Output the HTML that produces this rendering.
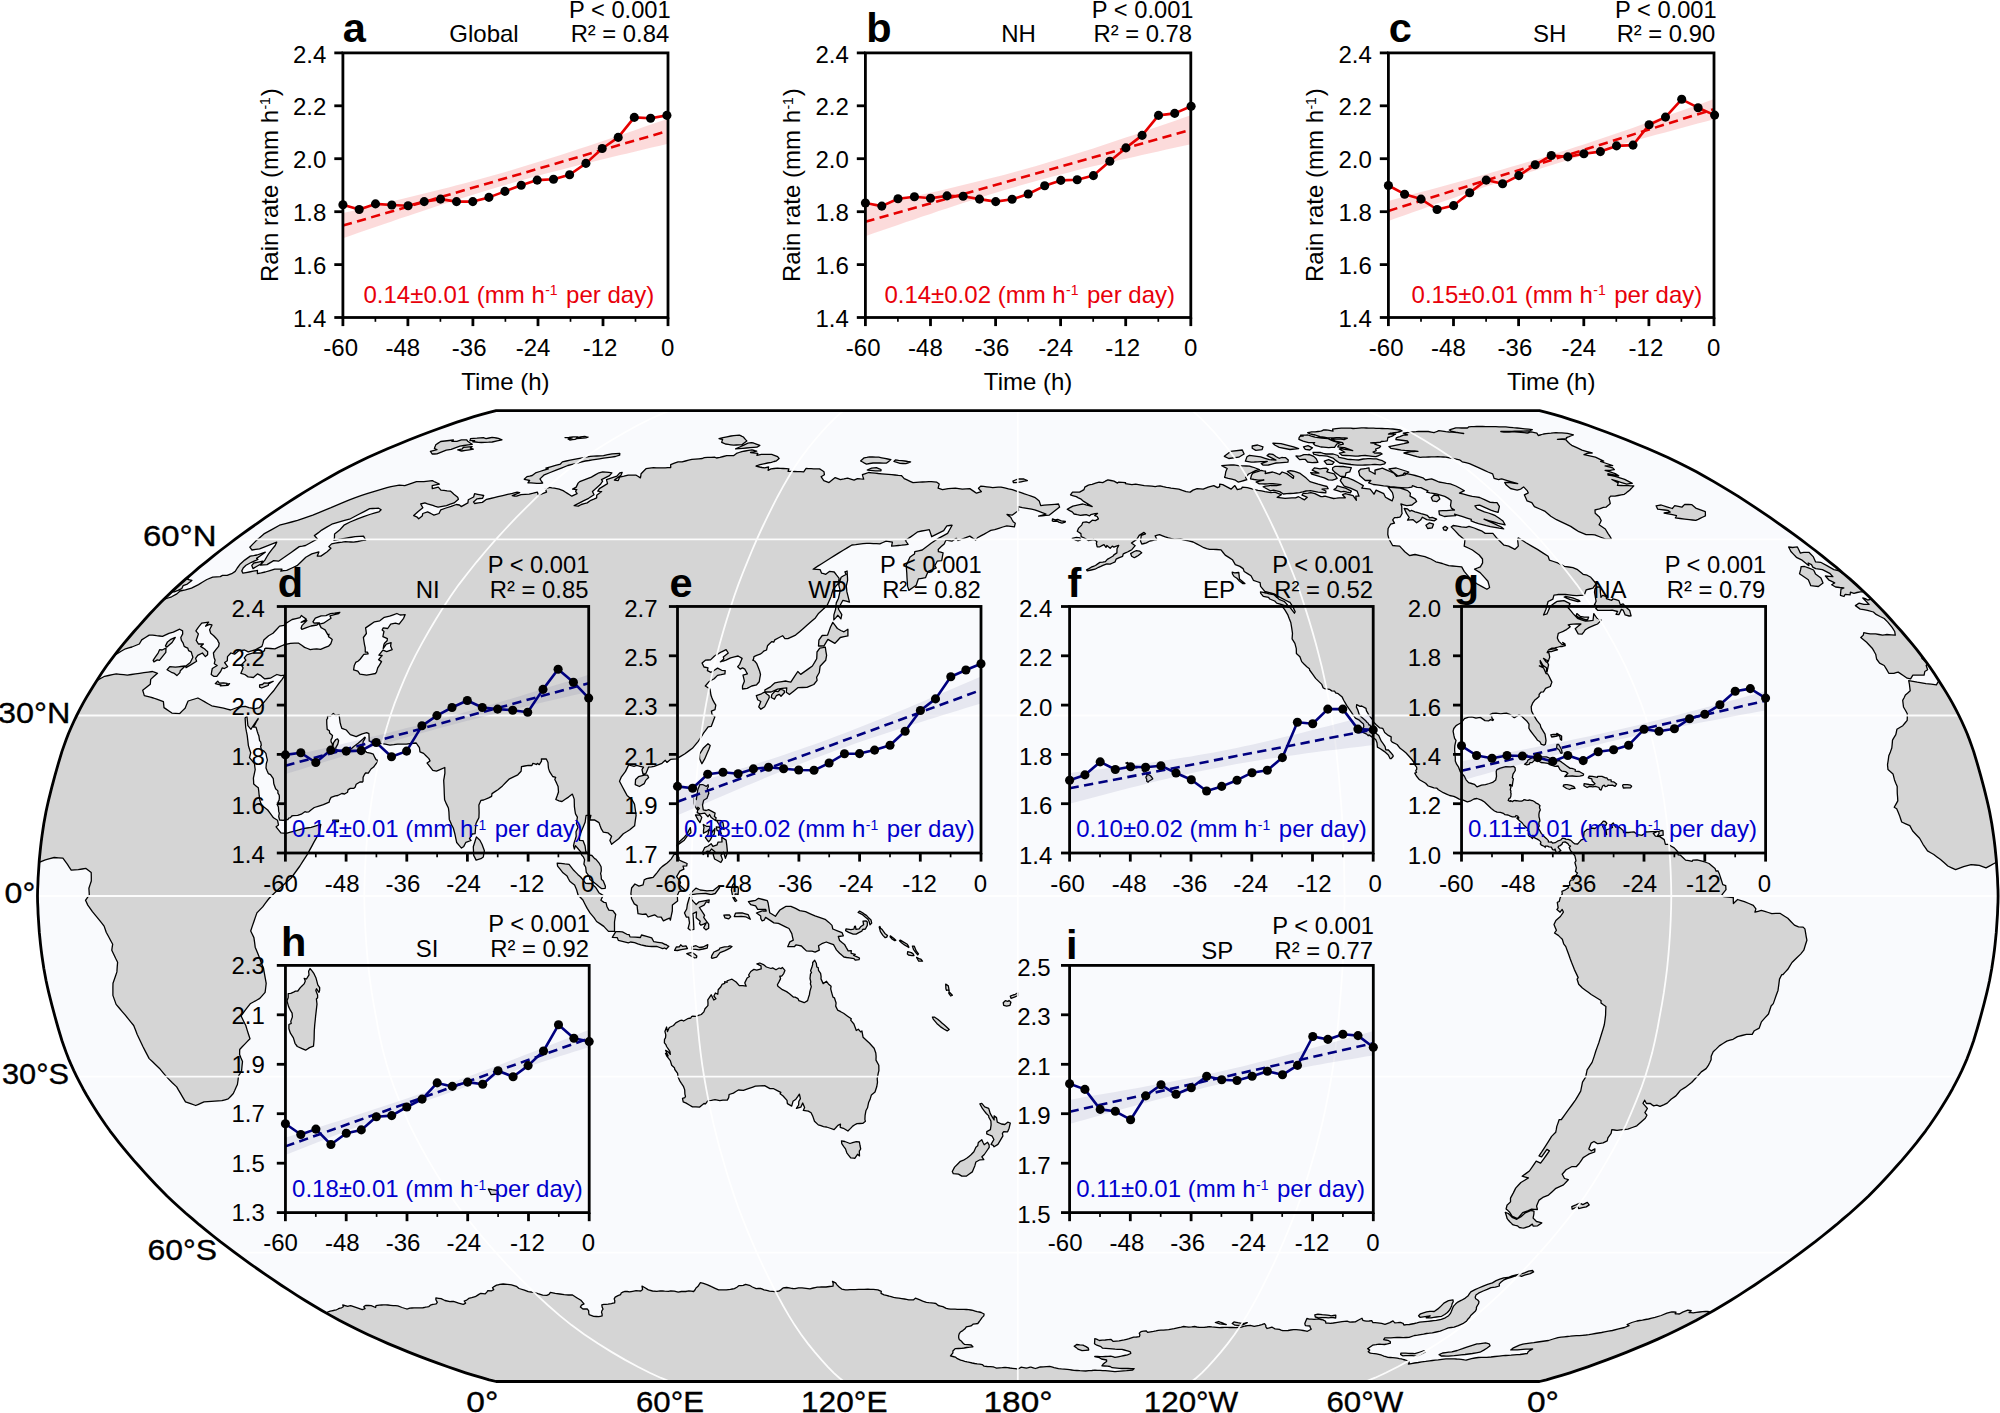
<!DOCTYPE html>
<html><head><meta charset="utf-8"><title>fig</title><style>
html,body{margin:0;padding:0;background:#fff;}svg{display:block;}
text{font-family:"Liberation Sans", sans-serif;fill:#000;}
.tk{font-size:24px;}.pl{font-size:41.5px;font-weight:bold;}.gl{font-size:29.5px;font-family:"Liberation Sans",sans-serif;}
</style></head><body>
<svg width="2000" height="1413" viewBox="0 0 2000 1413">
<rect width="2000" height="1413" fill="#fff"/>
<defs><clipPath id="mc"><path d="M1539.5,1381.5 L1546.4,1379.8 L1553.8,1377.7 L1561.7,1375.4 L1570.0,1372.8 L1578.7,1369.9 L1587.8,1366.8 L1597.2,1363.4 L1606.8,1359.9 L1616.7,1356.1 L1626.9,1352.1 L1637.1,1347.9 L1647.5,1343.6 L1657.8,1339.1 L1667.9,1334.5 L1677.7,1329.8 L1687.2,1325.1 L1696.4,1320.3 L1705.2,1315.4 L1713.8,1310.5 L1722.2,1305.5 L1730.5,1300.5 L1738.7,1295.4 L1746.7,1290.2 L1754.7,1285.0 L1762.5,1279.7 L1770.3,1274.4 L1778.0,1269.0 L1785.7,1263.6 L1793.2,1258.2 L1800.7,1252.7 L1808.0,1247.1 L1815.3,1241.6 L1822.4,1236.0 L1829.4,1230.3 L1836.4,1224.7 L1843.1,1218.9 L1849.8,1213.2 L1856.2,1207.5 L1862.5,1201.7 L1868.6,1195.9 L1874.5,1190.0 L1880.1,1184.2 L1885.7,1178.3 L1891.1,1172.4 L1896.3,1166.5 L1901.6,1160.6 L1906.7,1154.6 L1911.7,1148.7 L1916.6,1142.7 L1921.2,1136.7 L1925.7,1130.8 L1930.0,1124.8 L1934.1,1118.8 L1938.1,1112.7 L1941.9,1106.7 L1945.6,1100.7 L1949.2,1094.7 L1952.6,1088.7 L1955.8,1082.7 L1958.9,1076.6 L1961.8,1070.6 L1964.5,1064.6 L1967.1,1058.6 L1969.4,1052.6 L1971.6,1046.5 L1973.7,1040.5 L1975.5,1034.5 L1977.3,1028.5 L1979.0,1022.5 L1980.7,1016.4 L1982.3,1010.4 L1983.9,1004.4 L1985.4,998.4 L1986.9,992.4 L1988.3,986.3 L1989.6,980.3 L1990.7,974.3 L1991.8,968.3 L1992.7,962.3 L1993.6,956.2 L1994.4,950.2 L1995.1,944.2 L1995.7,938.2 L1996.3,932.2 L1996.7,926.1 L1997.1,920.1 L1997.5,914.1 L1997.7,908.1 L1998.0,902.1 L1998.1,896.0 L1998.0,890.0 L1997.7,884.0 L1997.5,878.0 L1997.1,872.0 L1996.7,866.0 L1996.3,859.9 L1995.7,853.9 L1995.1,847.9 L1994.4,841.9 L1993.6,835.9 L1992.7,829.8 L1991.8,823.8 L1990.7,817.8 L1989.6,811.8 L1988.3,805.8 L1986.9,799.7 L1985.4,793.7 L1983.9,787.7 L1982.3,781.7 L1980.7,775.7 L1979.0,769.6 L1977.3,763.6 L1975.5,757.6 L1973.7,751.6 L1971.6,745.6 L1969.4,739.5 L1967.1,733.5 L1964.5,727.5 L1961.8,721.5 L1958.9,715.5 L1955.8,709.4 L1952.6,703.4 L1949.2,697.4 L1945.6,691.4 L1941.9,685.4 L1938.1,679.4 L1934.1,673.3 L1930.0,667.3 L1925.7,661.3 L1921.2,655.4 L1916.6,649.4 L1911.7,643.4 L1906.7,637.5 L1901.6,631.5 L1896.3,625.6 L1891.1,619.7 L1885.7,613.8 L1880.1,607.9 L1874.5,602.1 L1868.6,596.2 L1862.5,590.4 L1856.2,584.6 L1849.8,578.9 L1843.1,573.2 L1836.4,567.4 L1829.4,561.8 L1822.4,556.1 L1815.3,550.5 L1808.0,545.0 L1800.7,539.4 L1793.2,533.9 L1785.7,528.5 L1778.0,523.1 L1770.3,517.7 L1762.5,512.4 L1754.7,507.1 L1746.7,501.9 L1738.7,496.7 L1730.5,491.6 L1722.2,486.6 L1713.8,481.6 L1705.2,476.7 L1696.4,471.8 L1687.2,467.0 L1677.7,462.3 L1667.9,457.6 L1657.8,453.0 L1647.5,448.5 L1637.1,444.2 L1626.9,440.0 L1616.7,436.0 L1606.8,432.2 L1597.2,428.7 L1587.8,425.3 L1578.7,422.2 L1570.0,419.3 L1561.7,416.7 L1553.8,414.4 L1546.4,412.3 L1539.5,410.6 L496.1,410.6 L489.2,412.3 L481.8,414.4 L473.9,416.7 L465.6,419.3 L456.9,422.2 L447.8,425.3 L438.4,428.7 L428.8,432.2 L418.9,436.0 L408.7,440.0 L398.5,444.2 L388.1,448.5 L377.8,453.0 L367.7,457.6 L357.9,462.3 L348.4,467.0 L339.2,471.8 L330.4,476.7 L321.8,481.6 L313.4,486.6 L305.1,491.6 L296.9,496.7 L288.9,501.9 L280.9,507.1 L273.1,512.4 L265.3,517.7 L257.6,523.1 L249.9,528.5 L242.4,533.9 L234.9,539.4 L227.6,545.0 L220.3,550.5 L213.2,556.1 L206.2,561.8 L199.2,567.4 L192.5,573.2 L185.8,578.9 L179.4,584.6 L173.1,590.4 L167.0,596.2 L161.1,602.1 L155.5,607.9 L149.9,613.8 L144.5,619.7 L139.3,625.6 L134.0,631.5 L128.9,637.5 L123.9,643.4 L119.0,649.4 L114.4,655.4 L109.9,661.3 L105.6,667.3 L101.5,673.3 L97.5,679.4 L93.7,685.4 L90.0,691.4 L86.4,697.4 L83.0,703.4 L79.8,709.4 L76.7,715.5 L73.8,721.5 L71.1,727.5 L68.5,733.5 L66.2,739.5 L64.0,745.6 L61.9,751.6 L60.1,757.6 L58.3,763.6 L56.6,769.6 L54.9,775.7 L53.3,781.7 L51.7,787.7 L50.2,793.7 L48.7,799.7 L47.3,805.8 L46.0,811.8 L44.9,817.8 L43.8,823.8 L42.9,829.8 L42.0,835.9 L41.2,841.9 L40.5,847.9 L39.9,853.9 L39.3,859.9 L38.9,866.0 L38.5,872.0 L38.1,878.0 L37.9,884.0 L37.6,890.0 L37.5,896.0 L37.6,902.1 L37.9,908.1 L38.1,914.1 L38.5,920.1 L38.9,926.1 L39.3,932.2 L39.9,938.2 L40.5,944.2 L41.2,950.2 L42.0,956.2 L42.9,962.3 L43.8,968.3 L44.9,974.3 L46.0,980.3 L47.3,986.3 L48.7,992.4 L50.2,998.4 L51.7,1004.4 L53.3,1010.4 L54.9,1016.4 L56.6,1022.5 L58.3,1028.5 L60.1,1034.5 L61.9,1040.5 L64.0,1046.5 L66.2,1052.6 L68.5,1058.6 L71.1,1064.6 L73.8,1070.6 L76.7,1076.6 L79.8,1082.7 L83.0,1088.7 L86.4,1094.7 L90.0,1100.7 L93.7,1106.7 L97.5,1112.7 L101.5,1118.8 L105.6,1124.8 L109.9,1130.8 L114.4,1136.7 L119.0,1142.7 L123.9,1148.7 L128.9,1154.6 L134.0,1160.6 L139.3,1166.5 L144.5,1172.4 L149.9,1178.3 L155.5,1184.2 L161.1,1190.0 L167.0,1195.9 L173.1,1201.7 L179.4,1207.5 L185.8,1213.2 L192.5,1218.9 L199.2,1224.7 L206.2,1230.3 L213.2,1236.0 L220.3,1241.6 L227.6,1247.1 L234.9,1252.7 L242.4,1258.2 L249.9,1263.6 L257.6,1269.0 L265.3,1274.4 L273.1,1279.7 L280.9,1285.0 L288.9,1290.2 L296.9,1295.4 L305.1,1300.5 L313.4,1305.5 L321.8,1310.5 L330.4,1315.4 L339.2,1320.3 L348.4,1325.1 L357.9,1329.8 L367.7,1334.5 L377.8,1339.1 L388.1,1343.6 L398.5,1347.9 L408.7,1352.1 L418.9,1356.1 L428.8,1359.9 L438.4,1363.4 L447.8,1366.8 L456.9,1369.9 L465.6,1372.8 L473.9,1375.4 L481.8,1377.7 L489.2,1379.8 L496.1,1381.5Z"/></clipPath></defs>
<path d="M1539.5,1381.5 L1546.4,1379.8 L1553.8,1377.7 L1561.7,1375.4 L1570.0,1372.8 L1578.7,1369.9 L1587.8,1366.8 L1597.2,1363.4 L1606.8,1359.9 L1616.7,1356.1 L1626.9,1352.1 L1637.1,1347.9 L1647.5,1343.6 L1657.8,1339.1 L1667.9,1334.5 L1677.7,1329.8 L1687.2,1325.1 L1696.4,1320.3 L1705.2,1315.4 L1713.8,1310.5 L1722.2,1305.5 L1730.5,1300.5 L1738.7,1295.4 L1746.7,1290.2 L1754.7,1285.0 L1762.5,1279.7 L1770.3,1274.4 L1778.0,1269.0 L1785.7,1263.6 L1793.2,1258.2 L1800.7,1252.7 L1808.0,1247.1 L1815.3,1241.6 L1822.4,1236.0 L1829.4,1230.3 L1836.4,1224.7 L1843.1,1218.9 L1849.8,1213.2 L1856.2,1207.5 L1862.5,1201.7 L1868.6,1195.9 L1874.5,1190.0 L1880.1,1184.2 L1885.7,1178.3 L1891.1,1172.4 L1896.3,1166.5 L1901.6,1160.6 L1906.7,1154.6 L1911.7,1148.7 L1916.6,1142.7 L1921.2,1136.7 L1925.7,1130.8 L1930.0,1124.8 L1934.1,1118.8 L1938.1,1112.7 L1941.9,1106.7 L1945.6,1100.7 L1949.2,1094.7 L1952.6,1088.7 L1955.8,1082.7 L1958.9,1076.6 L1961.8,1070.6 L1964.5,1064.6 L1967.1,1058.6 L1969.4,1052.6 L1971.6,1046.5 L1973.7,1040.5 L1975.5,1034.5 L1977.3,1028.5 L1979.0,1022.5 L1980.7,1016.4 L1982.3,1010.4 L1983.9,1004.4 L1985.4,998.4 L1986.9,992.4 L1988.3,986.3 L1989.6,980.3 L1990.7,974.3 L1991.8,968.3 L1992.7,962.3 L1993.6,956.2 L1994.4,950.2 L1995.1,944.2 L1995.7,938.2 L1996.3,932.2 L1996.7,926.1 L1997.1,920.1 L1997.5,914.1 L1997.7,908.1 L1998.0,902.1 L1998.1,896.0 L1998.0,890.0 L1997.7,884.0 L1997.5,878.0 L1997.1,872.0 L1996.7,866.0 L1996.3,859.9 L1995.7,853.9 L1995.1,847.9 L1994.4,841.9 L1993.6,835.9 L1992.7,829.8 L1991.8,823.8 L1990.7,817.8 L1989.6,811.8 L1988.3,805.8 L1986.9,799.7 L1985.4,793.7 L1983.9,787.7 L1982.3,781.7 L1980.7,775.7 L1979.0,769.6 L1977.3,763.6 L1975.5,757.6 L1973.7,751.6 L1971.6,745.6 L1969.4,739.5 L1967.1,733.5 L1964.5,727.5 L1961.8,721.5 L1958.9,715.5 L1955.8,709.4 L1952.6,703.4 L1949.2,697.4 L1945.6,691.4 L1941.9,685.4 L1938.1,679.4 L1934.1,673.3 L1930.0,667.3 L1925.7,661.3 L1921.2,655.4 L1916.6,649.4 L1911.7,643.4 L1906.7,637.5 L1901.6,631.5 L1896.3,625.6 L1891.1,619.7 L1885.7,613.8 L1880.1,607.9 L1874.5,602.1 L1868.6,596.2 L1862.5,590.4 L1856.2,584.6 L1849.8,578.9 L1843.1,573.2 L1836.4,567.4 L1829.4,561.8 L1822.4,556.1 L1815.3,550.5 L1808.0,545.0 L1800.7,539.4 L1793.2,533.9 L1785.7,528.5 L1778.0,523.1 L1770.3,517.7 L1762.5,512.4 L1754.7,507.1 L1746.7,501.9 L1738.7,496.7 L1730.5,491.6 L1722.2,486.6 L1713.8,481.6 L1705.2,476.7 L1696.4,471.8 L1687.2,467.0 L1677.7,462.3 L1667.9,457.6 L1657.8,453.0 L1647.5,448.5 L1637.1,444.2 L1626.9,440.0 L1616.7,436.0 L1606.8,432.2 L1597.2,428.7 L1587.8,425.3 L1578.7,422.2 L1570.0,419.3 L1561.7,416.7 L1553.8,414.4 L1546.4,412.3 L1539.5,410.6 L496.1,410.6 L489.2,412.3 L481.8,414.4 L473.9,416.7 L465.6,419.3 L456.9,422.2 L447.8,425.3 L438.4,428.7 L428.8,432.2 L418.9,436.0 L408.7,440.0 L398.5,444.2 L388.1,448.5 L377.8,453.0 L367.7,457.6 L357.9,462.3 L348.4,467.0 L339.2,471.8 L330.4,476.7 L321.8,481.6 L313.4,486.6 L305.1,491.6 L296.9,496.7 L288.9,501.9 L280.9,507.1 L273.1,512.4 L265.3,517.7 L257.6,523.1 L249.9,528.5 L242.4,533.9 L234.9,539.4 L227.6,545.0 L220.3,550.5 L213.2,556.1 L206.2,561.8 L199.2,567.4 L192.5,573.2 L185.8,578.9 L179.4,584.6 L173.1,590.4 L167.0,596.2 L161.1,602.1 L155.5,607.9 L149.9,613.8 L144.5,619.7 L139.3,625.6 L134.0,631.5 L128.9,637.5 L123.9,643.4 L119.0,649.4 L114.4,655.4 L109.9,661.3 L105.6,667.3 L101.5,673.3 L97.5,679.4 L93.7,685.4 L90.0,691.4 L86.4,697.4 L83.0,703.4 L79.8,709.4 L76.7,715.5 L73.8,721.5 L71.1,727.5 L68.5,733.5 L66.2,739.5 L64.0,745.6 L61.9,751.6 L60.1,757.6 L58.3,763.6 L56.6,769.6 L54.9,775.7 L53.3,781.7 L51.7,787.7 L50.2,793.7 L48.7,799.7 L47.3,805.8 L46.0,811.8 L44.9,817.8 L43.8,823.8 L42.9,829.8 L42.0,835.9 L41.2,841.9 L40.5,847.9 L39.9,853.9 L39.3,859.9 L38.9,866.0 L38.5,872.0 L38.1,878.0 L37.9,884.0 L37.6,890.0 L37.5,896.0 L37.6,902.1 L37.9,908.1 L38.1,914.1 L38.5,920.1 L38.9,926.1 L39.3,932.2 L39.9,938.2 L40.5,944.2 L41.2,950.2 L42.0,956.2 L42.9,962.3 L43.8,968.3 L44.9,974.3 L46.0,980.3 L47.3,986.3 L48.7,992.4 L50.2,998.4 L51.7,1004.4 L53.3,1010.4 L54.9,1016.4 L56.6,1022.5 L58.3,1028.5 L60.1,1034.5 L61.9,1040.5 L64.0,1046.5 L66.2,1052.6 L68.5,1058.6 L71.1,1064.6 L73.8,1070.6 L76.7,1076.6 L79.8,1082.7 L83.0,1088.7 L86.4,1094.7 L90.0,1100.7 L93.7,1106.7 L97.5,1112.7 L101.5,1118.8 L105.6,1124.8 L109.9,1130.8 L114.4,1136.7 L119.0,1142.7 L123.9,1148.7 L128.9,1154.6 L134.0,1160.6 L139.3,1166.5 L144.5,1172.4 L149.9,1178.3 L155.5,1184.2 L161.1,1190.0 L167.0,1195.9 L173.1,1201.7 L179.4,1207.5 L185.8,1213.2 L192.5,1218.9 L199.2,1224.7 L206.2,1230.3 L213.2,1236.0 L220.3,1241.6 L227.6,1247.1 L234.9,1252.7 L242.4,1258.2 L249.9,1263.6 L257.6,1269.0 L265.3,1274.4 L273.1,1279.7 L280.9,1285.0 L288.9,1290.2 L296.9,1295.4 L305.1,1300.5 L313.4,1305.5 L321.8,1310.5 L330.4,1315.4 L339.2,1320.3 L348.4,1325.1 L357.9,1329.8 L367.7,1334.5 L377.8,1339.1 L388.1,1343.6 L398.5,1347.9 L408.7,1352.1 L418.9,1356.1 L428.8,1359.9 L438.4,1363.4 L447.8,1366.8 L456.9,1369.9 L465.6,1372.8 L473.9,1375.4 L481.8,1377.7 L489.2,1379.8 L496.1,1381.5Z" fill="#f9fafd"/>
<g clip-path="url(#mc)">
<path d="M343.3,1306.8 342.8,1305.0 347.8,1306.3 349.3,1305.9 350.7,1305.6 357.3,1307.9 362.3,1309.7 363.7,1309.2 365.1,1308.7 363.8,1306.8 364.7,1306.1 365.6,1305.4 368.4,1305.5 371.2,1305.7 375.6,1307.5 376.0,1305.7 377.7,1305.4 379.3,1305.1 381.5,1305.0 383.6,1304.9 385.8,1304.9 387.9,1305.0 390.6,1305.3 393.2,1305.6 395.5,1305.7 397.8,1305.9 402.1,1307.5 406.8,1309.0 408.3,1308.6 409.8,1308.1 411.9,1308.0 414.0,1307.9 416.3,1307.9 418.5,1307.9 420.6,1307.9 422.6,1307.8 424.1,1307.5 425.5,1307.1 427.2,1306.9 428.9,1306.6 430.4,1305.2 432.9,1304.3 434.6,1304.1 436.2,1303.8 437.3,1302.4 435.9,1299.7 435.9,1297.9 438.5,1298.3 441.1,1298.7 444.9,1300.5 449.9,1301.7 451.7,1301.5 453.5,1301.3 458.6,1303.1 463.2,1304.4 464.4,1303.8 465.6,1303.2 464.2,1301.0 466.7,1300.1 467.7,1299.3 468.7,1298.4 471.7,1297.7 473.5,1297.2 475.2,1296.7 477.0,1295.6 478.9,1294.4 480.8,1293.3 485.2,1293.9 486.8,1292.1 487.8,1290.7 491.7,1290.8 493.7,1289.6 492.5,1287.7 494.4,1286.3 496.6,1285.2 498.2,1284.8 499.8,1284.4 503.2,1284.0 507.1,1284.3 511.5,1284.8 516.3,1286.3 519.0,1288.5 524.4,1290.2 528.3,1291.7 531.1,1292.0 533.8,1292.3 537.9,1293.7 542.7,1295.1 546.8,1295.4 549.0,1294.4 550.4,1292.3 555.2,1293.4 559.8,1294.0 564.2,1294.6 568.5,1295.0 572.5,1295.0 576.7,1297.7 580.9,1300.3 582.1,1301.6 584.0,1303.9 581.5,1305.2 580.4,1307.1 582.9,1309.0 585.1,1309.0 587.2,1308.9 588.7,1310.9 588.7,1312.7 589.1,1314.7 593.7,1316.3 596.2,1316.5 598.6,1316.7 600.3,1316.3 602.1,1315.9 602.1,1314.0 601.5,1312.1 602.0,1310.6 603.0,1309.1 602.2,1307.3 601.8,1304.9 603.8,1304.4 605.9,1304.3 608.1,1304.2 609.8,1303.9 611.4,1303.6 613.0,1303.2 614.7,1302.8 614.8,1300.8 614.2,1298.9 615.2,1297.1 616.6,1296.4 618.0,1295.7 620.5,1294.7 621.2,1293.0 622.8,1292.1 625.0,1291.3 627.2,1291.5 629.5,1291.8 632.7,1291.3 636.1,1290.7 638.5,1290.8 640.8,1291.0 642.6,1289.6 642.0,1286.1 644.6,1287.5 648.4,1289.9 652.6,1291.0 656.8,1291.4 660.2,1290.8 662.4,1291.0 664.6,1291.2 668.5,1291.3 670.7,1290.8 674.3,1291.1 678.2,1292.2 681.3,1291.5 683.5,1291.5 685.7,1291.5 688.9,1290.8 691.2,1291.1 693.6,1291.5 695.1,1289.8 696.0,1288.0 697.8,1286.6 699.1,1284.6 700.4,1282.7 703.5,1283.4 707.6,1284.8 711.5,1286.7 715.1,1288.3 718.6,1289.8 722.7,1289.9 726.4,1289.9 728.4,1289.6 730.4,1289.4 732.4,1289.0 734.4,1288.6 736.9,1287.2 738.8,1285.7 741.0,1285.6 743.2,1285.4 745.6,1284.3 749.4,1285.3 752.4,1287.0 756.2,1288.6 758.3,1288.5 760.5,1288.4 764.0,1289.8 766.8,1290.4 769.5,1291.1 772.2,1291.3 774.9,1291.6 776.9,1291.4 778.8,1291.2 781.2,1289.6 783.1,1287.9 786.6,1287.5 790.6,1288.2 792.8,1288.5 795.0,1288.7 798.5,1287.9 802.1,1287.9 806.0,1288.4 809.9,1288.9 813.2,1288.0 815.2,1287.6 817.2,1287.2 819.3,1287.1 821.3,1287.0 823.6,1287.0 826.0,1287.0 829.5,1286.5 833.0,1286.1 833.2,1283.5 832.5,1281.3 835.6,1282.8 837.2,1285.1 839.4,1287.3 841.7,1289.1 845.4,1289.9 847.7,1289.8 850.0,1289.7 852.6,1289.6 855.2,1289.6 858.8,1289.3 861.4,1289.3 864.1,1289.3 867.9,1289.2 870.6,1289.3 873.3,1289.4 875.6,1289.6 877.9,1289.8 881.3,1291.4 881.0,1293.3 884.1,1294.8 886.4,1295.4 888.7,1296.0 891.1,1296.7 893.6,1297.4 896.2,1297.8 898.9,1298.2 901.7,1298.6 904.5,1299.0 906.6,1299.4 908.7,1299.8 911.0,1299.9 913.3,1299.9 915.4,1298.2 919.3,1299.7 922.7,1301.2 926.4,1302.4 928.8,1302.7 931.3,1302.9 933.6,1303.2 935.9,1303.5 938.2,1305.5 940.6,1306.1 942.9,1306.7 946.2,1308.4 948.4,1308.8 950.7,1309.2 952.9,1309.2 955.1,1309.1 957.2,1309.3 959.3,1309.4 961.6,1309.4 963.9,1309.3 966.3,1309.5 968.6,1309.7 970.8,1310.0 973.0,1310.4 975.1,1311.0 977.1,1311.6 979.2,1312.0 981.2,1312.5 984.1,1314.0 983.8,1315.9 982.0,1317.6 980.5,1319.8 979.3,1321.5 977.8,1323.5 975.4,1323.8 973.0,1324.2 971.0,1325.9 968.7,1326.4 966.3,1326.9 965.0,1328.8 962.8,1330.6 960.4,1332.0 959.2,1333.9 958.7,1335.6 958.7,1337.7 959.2,1339.4 961.5,1341.2 962.6,1342.8 964.6,1344.4 967.9,1344.7 971.2,1345.0 972.9,1346.8 969.8,1347.2 966.8,1347.5 964.2,1348.0 961.7,1348.4 958.5,1348.5 955.2,1348.6 954.1,1349.8 952.9,1351.0 952.9,1352.9 951.7,1354.4 950.5,1355.9 952.9,1356.5 955.3,1357.1 957.4,1358.7 960.6,1360.1 962.7,1360.7 964.8,1361.3 967.2,1361.9 969.6,1362.4 972.2,1363.0 974.7,1363.5 977.2,1363.9 979.8,1364.2 982.3,1364.6 984.1,1366.2 987.2,1366.5 990.3,1366.7 993.4,1366.9 994.9,1367.5 996.5,1368.1 999.4,1367.8 1002.2,1367.6 1005.1,1367.3 1007.6,1367.6 1010.0,1368.0 1012.4,1368.3 1015.1,1368.6 1017.8,1369.0 1019.5,1368.2 1021.0,1367.2 1023.7,1367.7 1026.4,1368.2 1028.3,1367.7 1030.2,1367.1 1031.0,1367.2 1033.2,1367.8 1035.4,1368.5 1037.5,1367.8 1039.5,1367.2 1040.3,1367.0 1043.4,1366.8 1046.5,1366.6 1049.7,1366.4 1052.6,1367.2 1054.0,1367.6 1056.3,1368.1 1058.5,1368.6 1061.4,1368.9 1064.3,1369.1 1067.2,1369.4 1069.5,1369.7 1071.7,1370.0 1074.0,1370.3 1076.9,1370.5 1079.9,1370.7 1082.8,1370.8 1085.7,1371.0 1088.8,1370.7 1091.9,1370.5 1095.0,1370.2 1097.6,1370.3 1100.2,1370.4 1102.8,1370.6 1105.3,1370.7 1107.9,1370.8 1110.3,1371.1 1112.6,1371.4 1114.9,1371.7 1117.8,1371.4 1120.7,1371.1 1123.6,1370.8 1126.6,1370.6 1129.6,1370.3 1132.7,1370.0 1134.2,1368.6 1131.2,1368.6 1128.1,1368.5 1125.0,1368.5 1121.9,1368.5 1119.5,1368.3 1117.1,1368.1 1114.6,1367.9 1112.1,1367.7 1110.1,1366.5 1107.4,1366.2 1104.6,1366.0 1101.9,1365.8 1103.0,1364.3 1104.8,1362.8 1106.6,1361.5 1106.6,1360.0 1104.0,1359.5 1101.5,1359.0 1099.4,1357.7 1097.1,1357.1 1094.7,1356.5 1097.4,1356.5 1100.1,1356.6 1102.7,1356.7 1105.4,1356.5 1108.0,1356.3 1110.6,1356.1 1112.8,1356.7 1114.9,1357.4 1118.1,1356.8 1121.3,1356.2 1124.4,1355.5 1127.5,1354.8 1130.8,1353.5 1130.4,1351.8 1128.4,1351.2 1126.5,1350.6 1124.3,1350.0 1122.0,1349.4 1119.7,1349.3 1117.4,1349.3 1115.1,1349.2 1112.1,1348.9 1109.1,1348.6 1105.9,1348.4 1102.6,1348.2 1100.9,1346.6 1098.9,1345.9 1096.8,1345.2 1094.5,1343.7 1094.7,1341.2 1094.8,1338.6 1096.5,1339.1 1099.3,1340.5 1102.3,1340.2 1105.2,1340.0 1108.1,1339.7 1111.1,1339.4 1113.3,1341.4 1116.2,1341.1 1119.1,1340.9 1121.6,1340.4 1124.2,1339.9 1126.6,1339.3 1129.1,1338.7 1131.4,1337.9 1133.7,1337.2 1136.5,1337.0 1139.3,1336.7 1139.9,1335.0 1139.3,1333.3 1141.0,1331.6 1143.5,1331.2 1146.1,1330.8 1147.6,1332.4 1150.6,1331.9 1153.5,1331.4 1155.9,1330.9 1158.3,1330.3 1160.9,1330.2 1163.5,1330.2 1166.1,1329.9 1168.7,1329.7 1171.4,1329.1 1174.2,1328.6 1176.4,1328.1 1178.7,1327.6 1181.2,1327.1 1183.7,1326.5 1186.4,1326.8 1188.7,1327.2 1191.7,1326.9 1194.6,1326.5 1196.8,1327.0 1199.1,1327.4 1201.6,1327.3 1204.2,1327.3 1206.8,1327.0 1209.4,1326.6 1211.8,1326.9 1214.2,1327.1 1216.8,1327.3 1219.4,1327.6 1222.0,1327.5 1224.6,1327.4 1227.3,1327.4 1229.9,1327.5 1232.6,1327.5 1235.4,1327.6 1238.0,1327.5 1240.5,1327.4 1242.9,1326.7 1245.2,1326.0 1247.7,1325.6 1250.3,1325.3 1252.2,1325.8 1254.2,1326.3 1256.7,1325.8 1259.2,1325.4 1261.8,1324.6 1264.5,1323.7 1265.8,1325.3 1265.8,1326.9 1267.1,1328.5 1269.5,1327.8 1271.9,1327.1 1273.5,1328.0 1275.0,1328.9 1277.2,1329.1 1279.5,1329.4 1281.1,1330.1 1282.7,1330.7 1285.4,1330.6 1288.0,1330.5 1290.7,1330.0 1293.4,1329.6 1296.1,1329.7 1298.8,1329.8 1301.0,1330.1 1303.2,1330.5 1305.3,1330.9 1307.4,1331.3 1311.2,1329.2 1310.3,1327.7 1309.9,1326.0 1307.6,1325.8 1305.4,1325.6 1304.8,1323.8 1305.4,1322.0 1306.9,1318.5 1309.3,1319.1 1311.7,1319.2 1314.1,1319.4 1316.6,1319.2 1319.2,1319.1 1321.1,1319.5 1323.0,1319.9 1324.3,1320.6 1325.6,1321.3 1325.8,1323.0 1328.2,1323.1 1330.6,1323.3 1333.3,1323.0 1336.0,1322.6 1339.0,1322.1 1342.0,1321.7 1344.6,1321.4 1347.1,1321.1 1348.5,1321.7 1349.9,1322.2 1352.6,1322.0 1355.3,1321.9 1358.6,1320.0 1362.0,1318.2 1363.0,1320.4 1364.7,1320.8 1366.5,1321.2 1369.1,1321.0 1371.7,1320.7 1372.9,1322.6 1375.3,1322.7 1377.6,1322.8 1379.6,1323.1 1381.6,1323.4 1383.3,1323.9 1385.0,1324.4 1389.8,1322.6 1393.0,1320.9 1393.9,1321.9 1394.8,1322.8 1397.6,1322.6 1400.4,1322.3 1401.8,1322.9 1403.1,1323.4 1403.9,1325.0 1406.7,1324.7 1409.4,1324.5 1411.9,1324.0 1414.4,1323.5 1417.0,1322.9 1419.7,1322.2 1422.3,1321.9 1425.0,1321.6 1427.9,1321.3 1430.9,1321.0 1433.6,1320.7 1436.4,1320.4 1438.9,1319.8 1441.3,1319.3 1445.3,1317.8 1448.6,1315.7 1450.3,1313.7 1451.2,1311.8 1452.0,1309.8 1452.8,1307.8 1453.6,1306.1 1455.5,1304.1 1457.8,1302.1 1461.6,1300.2 1465.3,1298.1 1467.9,1296.1 1469.3,1293.9 1470.8,1291.9 1475.0,1289.6 1478.7,1288.0 1483.2,1286.1 1487.6,1284.4 1492.4,1282.9 1496.1,1280.6 1499.8,1279.2 1503.7,1277.8 1508.0,1277.5 1512.2,1275.8 1516.2,1274.8 1520.1,1274.2 1524.6,1272.8 1528.6,1271.1 1532.5,1270.5 1533.6,1271.9 1530.3,1273.6 1527.4,1274.4 1524.5,1275.2 1521.5,1276.4 1519.3,1275.5 1515.3,1276.0 1511.3,1277.3 1507.0,1278.6 1503.4,1280.2 1500.9,1282.2 1499.2,1284.2 1499.4,1286.0 1495.3,1287.2 1491.1,1287.6 1487.2,1289.4 1483.2,1291.0 1478.5,1293.2 1475.9,1295.1 1475.2,1297.3 1475.7,1298.8 1477.7,1300.0 1479.0,1301.6 1478.6,1303.6 1477.4,1305.5 1476.4,1307.4 1476.4,1309.1 1475.5,1311.0 1470.7,1315.5 1469.7,1317.3 1467.8,1319.2 1466.6,1321.1 1462.8,1323.7 1458.3,1325.6 1454.1,1327.2 1451.2,1327.5 1448.3,1327.9 1444.4,1329.5 1440.2,1331.1 1436.2,1332.0 1432.3,1332.8 1429.4,1333.2 1426.5,1333.5 1423.6,1334.1 1420.6,1334.6 1417.5,1335.1 1414.5,1335.5 1409.1,1337.4 1406.1,1337.5 1403.1,1337.6 1400.0,1337.5 1397.0,1337.4 1393.9,1337.6 1390.8,1337.8 1387.8,1337.8 1384.8,1337.8 1383.7,1339.6 1385.9,1340.0 1388.0,1340.4 1389.2,1341.0 1390.3,1341.6 1390.4,1343.2 1387.5,1343.9 1384.6,1344.5 1381.9,1344.3 1379.2,1344.1 1375.9,1344.7 1372.6,1345.2 1367.6,1348.7 1368.7,1349.4 1369.7,1350.1 1368.2,1351.6 1369.3,1352.4 1370.3,1353.1 1372.4,1353.4 1374.5,1353.6 1376.5,1353.8 1378.7,1354.3 1380.9,1354.9 1382.4,1355.5 1383.8,1356.1 1385.8,1356.7 1387.9,1357.3 1390.3,1357.5 1392.7,1357.7 1395.2,1357.9 1397.2,1358.2 1399.3,1358.6 1401.4,1358.9 1403.3,1359.5 1405.2,1360.0 1407.1,1360.6 1409.0,1361.2 1409.1,1362.1 1409.2,1362.9 1408.4,1364.2 1411.4,1363.6 1414.5,1363.0 1418.2,1362.5 1421.8,1361.9 1425.7,1361.4 1429.6,1360.8 1432.4,1360.5 1435.3,1360.2 1438.2,1359.9 1442.0,1359.4 1445.9,1358.9 1448.7,1358.8 1451.5,1358.8 1454.2,1358.8 1456.6,1359.0 1458.9,1359.1 1461.2,1359.3 1462.9,1359.6 1464.5,1359.9 1466.1,1360.1 1471.5,1358.6 1474.9,1358.0 1478.3,1357.5 1481.1,1357.4 1484.0,1357.4 1486.8,1357.4 1491.0,1357.0 1495.1,1356.5 1499.1,1356.1 1503.0,1355.7 1505.7,1355.5 1508.4,1355.4 1511.1,1355.2 1514.1,1354.9 1517.1,1354.7 1520.0,1354.5 1523.7,1354.0 1527.3,1353.5 1528.0,1352.0 1529.6,1350.6 1532.7,1349.0 1529.3,1349.1 1525.8,1349.2 1523.0,1349.4 1520.2,1349.6 1517.4,1349.9 1514.1,1349.9 1510.7,1349.9 1512.9,1348.2 1519.5,1345.1 1522.9,1344.1 1526.3,1343.6 1529.8,1343.1 1533.8,1342.6 1537.8,1342.0 1541.4,1341.5 1544.9,1341.0 1548.5,1340.5 1553.2,1339.0 1557.9,1337.6 1561.1,1337.2 1564.3,1336.8 1567.3,1336.5 1570.3,1336.2 1573.5,1335.8 1576.4,1335.7 1579.4,1335.6 1582.6,1335.3 1585.8,1335.0 1588.9,1334.6 1592.0,1334.1 1595.3,1333.5 1598.5,1333.0 1601.6,1332.5 1604.6,1331.9 1608.5,1331.2 1612.4,1330.5 1618.6,1328.9 1624.5,1327.5 1629.0,1325.6 1628.0,1325.1 1627.1,1324.5 1631.8,1322.5 1636.9,1321.0 1639.7,1320.5 1642.4,1320.1 1645.5,1319.5 1648.5,1319.0 1651.8,1318.2 1655.0,1317.4 1661.2,1315.5 1666.9,1313.2 1671.8,1311.9 1673.9,1312.0 1676.0,1312.1 1675.1,1313.8 1677.3,1313.9 1679.4,1314.0 1682.7,1312.1 1687.8,1310.2 1689.5,1310.4 1691.2,1310.7 1689.1,1312.5 1691.1,1312.6 1693.2,1312.8 1696.4,1312.4 1699.6,1312.0 1702.5,1311.7 1705.4,1311.4 1707.4,1311.5 1709.3,1311.7 1707.5,1313.7 1708.9,1313.3 1700.5,1318.1 1691.7,1322.8 1682.7,1327.4 1673.4,1332.0 1663.7,1336.5 1653.8,1340.9 1643.8,1345.2 1633.7,1349.3 1623.8,1353.3 1614.0,1357.1 1604.5,1360.7 1595.2,1364.2 1586.1,1367.4 1577.4,1370.3 1569.0,1373.1 1561.0,1375.6 1553.4,1377.8 1546.2,1379.8 1539.5,1381.5 1536.6,1381.5 1533.7,1381.5 1530.8,1381.5 1527.9,1381.5 1525.0,1381.5 1522.1,1381.5 1519.2,1381.5 1516.3,1381.5 1513.4,1381.5 1510.5,1381.5 1507.6,1381.5 1504.7,1381.5 1501.8,1381.5 1498.9,1381.5 1496.0,1381.5 1493.1,1381.5 1490.2,1381.5 1487.3,1381.5 1484.4,1381.5 1481.5,1381.5 1478.6,1381.5 1475.8,1381.5 1472.9,1381.5 1470.0,1381.5 1467.1,1381.5 1464.2,1381.5 1461.3,1381.5 1458.4,1381.5 1455.5,1381.5 1452.6,1381.5 1449.7,1381.5 1446.8,1381.5 1443.9,1381.5 1441.0,1381.5 1438.1,1381.5 1435.2,1381.5 1432.3,1381.5 1429.4,1381.5 1426.5,1381.5 1423.6,1381.5 1420.7,1381.5 1417.8,1381.5 1414.9,1381.5 1412.0,1381.5 1409.1,1381.5 1406.2,1381.5 1403.3,1381.5 1400.4,1381.5 1397.5,1381.5 1394.6,1381.5 1391.7,1381.5 1388.8,1381.5 1385.9,1381.5 1383.0,1381.5 1380.1,1381.5 1377.2,1381.5 1374.3,1381.5 1371.4,1381.5 1368.5,1381.5 1365.6,1381.5 1362.7,1381.5 1359.8,1381.5 1356.9,1381.5 1354.0,1381.5 1351.1,1381.5 1348.2,1381.5 1345.3,1381.5 1342.4,1381.5 1339.5,1381.5 1336.6,1381.5 1333.7,1381.5 1330.8,1381.5 1327.9,1381.5 1325.0,1381.5 1322.1,1381.5 1319.2,1381.5 1316.3,1381.5 1313.4,1381.5 1310.5,1381.5 1307.6,1381.5 1304.7,1381.5 1301.8,1381.5 1298.9,1381.5 1296.0,1381.5 1293.1,1381.5 1290.3,1381.5 1287.4,1381.5 1284.5,1381.5 1281.6,1381.5 1278.7,1381.5 1275.8,1381.5 1272.9,1381.5 1270.0,1381.5 1267.1,1381.5 1264.2,1381.5 1261.3,1381.5 1258.4,1381.5 1255.5,1381.5 1252.6,1381.5 1249.7,1381.5 1246.8,1381.5 1243.9,1381.5 1241.0,1381.5 1238.1,1381.5 1235.2,1381.5 1232.3,1381.5 1229.4,1381.5 1226.5,1381.5 1223.6,1381.5 1220.7,1381.5 1217.8,1381.5 1214.9,1381.5 1212.0,1381.5 1209.1,1381.5 1206.2,1381.5 1203.3,1381.5 1200.4,1381.5 1197.5,1381.5 1194.6,1381.5 1191.7,1381.5 1188.8,1381.5 1185.9,1381.5 1183.0,1381.5 1180.1,1381.5 1177.2,1381.5 1174.3,1381.5 1171.4,1381.5 1168.5,1381.5 1165.6,1381.5 1162.7,1381.5 1159.8,1381.5 1156.9,1381.5 1154.0,1381.5 1151.1,1381.5 1148.2,1381.5 1145.3,1381.5 1142.4,1381.5 1139.5,1381.5 1136.6,1381.5 1133.7,1381.5 1130.8,1381.5 1127.9,1381.5 1125.0,1381.5 1122.1,1381.5 1119.2,1381.5 1116.3,1381.5 1113.4,1381.5 1110.5,1381.5 1107.7,1381.5 1104.8,1381.5 1101.9,1381.5 1099.0,1381.5 1096.1,1381.5 1093.2,1381.5 1090.3,1381.5 1087.4,1381.5 1084.5,1381.5 1081.6,1381.5 1078.7,1381.5 1075.8,1381.5 1072.9,1381.5 1070.0,1381.5 1067.1,1381.5 1064.2,1381.5 1061.3,1381.5 1058.4,1381.5 1055.5,1381.5 1052.6,1381.5 1049.7,1381.5 1046.8,1381.5 1043.9,1381.5 1041.0,1381.5 1038.1,1381.5 1035.2,1381.5 1032.3,1381.5 1029.4,1381.5 1026.5,1381.5 1023.6,1381.5 1020.7,1381.5 1017.8,1381.5 1014.9,1381.5 1012.0,1381.5 1009.1,1381.5 1006.2,1381.5 1003.3,1381.5 1000.4,1381.5 997.5,1381.5 994.6,1381.5 991.7,1381.5 988.8,1381.5 985.9,1381.5 983.0,1381.5 980.1,1381.5 977.2,1381.5 974.3,1381.5 971.4,1381.5 968.5,1381.5 965.6,1381.5 962.7,1381.5 959.8,1381.5 956.9,1381.5 954.0,1381.5 951.1,1381.5 948.2,1381.5 945.3,1381.5 942.4,1381.5 939.5,1381.5 936.6,1381.5 933.7,1381.5 930.8,1381.5 927.9,1381.5 925.1,1381.5 922.2,1381.5 919.3,1381.5 916.4,1381.5 913.5,1381.5 910.6,1381.5 907.7,1381.5 904.8,1381.5 901.9,1381.5 899.0,1381.5 896.1,1381.5 893.2,1381.5 890.3,1381.5 887.4,1381.5 884.5,1381.5 881.6,1381.5 878.7,1381.5 875.8,1381.5 872.9,1381.5 870.0,1381.5 867.1,1381.5 864.2,1381.5 861.3,1381.5 858.4,1381.5 855.5,1381.5 852.6,1381.5 849.7,1381.5 846.8,1381.5 843.9,1381.5 841.0,1381.5 838.1,1381.5 835.2,1381.5 832.3,1381.5 829.4,1381.5 826.5,1381.5 823.6,1381.5 820.7,1381.5 817.8,1381.5 814.9,1381.5 812.0,1381.5 809.1,1381.5 806.2,1381.5 803.3,1381.5 800.4,1381.5 797.5,1381.5 794.6,1381.5 791.7,1381.5 788.8,1381.5 785.9,1381.5 783.0,1381.5 780.1,1381.5 777.2,1381.5 774.3,1381.5 771.4,1381.5 768.5,1381.5 765.6,1381.5 762.7,1381.5 759.8,1381.5 756.9,1381.5 754.0,1381.5 751.1,1381.5 748.2,1381.5 745.3,1381.5 742.5,1381.5 739.6,1381.5 736.7,1381.5 733.8,1381.5 730.9,1381.5 728.0,1381.5 725.1,1381.5 722.2,1381.5 719.3,1381.5 716.4,1381.5 713.5,1381.5 710.6,1381.5 707.7,1381.5 704.8,1381.5 701.9,1381.5 699.0,1381.5 696.1,1381.5 693.2,1381.5 690.3,1381.5 687.4,1381.5 684.5,1381.5 681.6,1381.5 678.7,1381.5 675.8,1381.5 672.9,1381.5 670.0,1381.5 667.1,1381.5 664.2,1381.5 661.3,1381.5 658.4,1381.5 655.5,1381.5 652.6,1381.5 649.7,1381.5 646.8,1381.5 643.9,1381.5 641.0,1381.5 638.1,1381.5 635.2,1381.5 632.3,1381.5 629.4,1381.5 626.5,1381.5 623.6,1381.5 620.7,1381.5 617.8,1381.5 614.9,1381.5 612.0,1381.5 609.1,1381.5 606.2,1381.5 603.3,1381.5 600.4,1381.5 597.5,1381.5 594.6,1381.5 591.7,1381.5 588.8,1381.5 585.9,1381.5 583.0,1381.5 580.1,1381.5 577.2,1381.5 574.3,1381.5 571.4,1381.5 568.5,1381.5 565.6,1381.5 562.7,1381.5 559.8,1381.5 557.0,1381.5 554.1,1381.5 551.2,1381.5 548.3,1381.5 545.4,1381.5 542.5,1381.5 539.6,1381.5 536.7,1381.5 533.8,1381.5 530.9,1381.5 528.0,1381.5 525.1,1381.5 522.2,1381.5 519.3,1381.5 516.4,1381.5 513.5,1381.5 510.6,1381.5 507.7,1381.5 504.8,1381.5 501.9,1381.5 499.0,1381.5 496.1,1381.5 489.4,1379.8 482.2,1377.8 474.6,1375.6 466.6,1373.1 458.2,1370.3 449.5,1367.4 440.4,1364.2 431.1,1360.7 421.6,1357.1 411.8,1353.3 401.9,1349.3 391.8,1345.2 381.8,1340.9 371.9,1336.5 362.2,1332.0 352.9,1327.4 343.9,1322.8 335.1,1318.1 326.7,1313.3 327.7,1312.0 328.9,1311.6 330.2,1311.2 331.7,1310.8 333.3,1310.5 334.9,1310.1 336.5,1309.8 337.6,1309.2 338.6,1308.6 340.1,1308.2 341.6,1307.8 343.3,1306.8Z M492.1,1189.7 497.0,1190.4 497.9,1191.5 498.1,1194.2 494.6,1194.4 491.1,1194.6 488.3,1189.0 492.1,1189.7Z M314.1,1039.2 313.8,1042.7 313.5,1046.2 309.5,1047.6 305.6,1050.2 302.1,1048.6 297.3,1046.5 295.0,1043.3 293.4,1037.9 290.4,1033.2 288.9,1028.8 288.9,1024.5 291.2,1023.4 290.8,1021.4 292.4,1016.9 292.1,1013.1 290.3,1010.2 288.5,1006.4 287.0,1000.9 288.2,997.5 288.2,993.7 290.8,993.4 293.6,992.2 295.4,991.1 297.8,991.0 300.3,987.6 302.2,985.7 304.1,983.9 305.3,980.9 304.2,978.3 306.5,979.0 309.0,974.8 308.6,971.2 310.0,968.5 312.2,971.1 314.0,973.7 315.9,977.7 316.9,981.3 317.8,984.9 319.7,987.7 319.6,990.6 319.0,992.4 316.5,988.8 315.8,990.6 317.6,995.1 317.6,997.7 316.4,999.0 317.0,1004.1 316.6,1007.6 316.2,1011.1 315.7,1015.3 315.3,1019.5 314.7,1025.1 314.3,1030.8 314.2,1035.0 314.1,1039.2Z M686.8,953.6 691.8,952.4 694.8,954.3 696.8,956.1 696.5,957.7 694.2,957.8 690.5,955.7 686.8,953.6Z M676.3,947.0 679.3,946.9 680.7,944.8 682.7,946.4 686.0,945.9 687.5,948.5 684.4,949.1 681.2,949.7 677.5,950.5 674.6,950.4 676.3,947.0Z M628.3,942.8 623.3,941.6 618.3,940.3 617.3,937.7 612.3,937.3 614.1,934.4 615.8,931.6 619.1,931.7 622.4,931.9 626.9,934.3 629.2,934.7 630.0,936.9 635.2,937.2 640.4,937.5 641.5,935.0 646.6,936.4 651.7,937.9 653.8,941.7 657.9,942.3 662.0,942.9 665.3,944.6 666.0,944.5 667.9,945.9 668.8,946.4 666.2,949.0 664.6,948.0 662.7,948.7 659.7,947.5 656.6,946.3 651.7,946.5 648.9,946.3 646.1,946.0 641.0,944.9 637.8,943.8 634.6,942.6 630.5,942.0 628.3,942.8Z M560.7,863.3 564.9,863.9 569.1,864.4 571.4,867.4 573.7,870.3 575.8,872.4 577.8,874.4 580.7,877.0 583.2,880.2 585.8,883.4 588.5,883.5 591.3,883.5 593.6,885.6 595.8,887.6 597.4,890.2 598.9,892.7 603.0,895.4 600.9,900.3 604.0,902.4 606.0,902.6 607.0,906.8 608.9,910.1 612.9,910.7 615.7,914.5 615.1,918.2 614.5,922.0 614.5,926.6 614.5,931.3 611.5,931.3 608.5,931.4 606.1,928.9 603.8,926.4 600.2,923.9 596.6,921.5 594.2,917.8 592.1,915.3 590.0,912.9 587.2,908.4 585.0,904.2 582.9,900.0 580.5,897.5 578.1,895.0 576.6,889.8 574.6,885.1 572.2,883.2 569.8,881.3 568.4,878.7 567.1,876.1 563.0,872.8 560.3,869.4 557.6,866.1 557.2,863.1 560.7,863.3Z M682.6,861.7 687.1,863.5 686.7,865.8 683.0,866.1 683.9,869.1 679.8,871.1 678.2,873.9 676.6,876.6 678.6,879.4 680.6,882.3 679.6,885.0 682.6,887.8 685.6,890.6 682.4,891.0 679.1,891.4 677.3,895.4 677.6,900.9 675.0,902.9 672.4,905.0 672.3,911.0 671.3,915.6 670.4,920.2 669.5,918.1 666.5,919.4 663.4,920.8 661.2,917.1 657.3,916.8 654.6,914.8 651.4,915.9 648.1,917.0 646.1,914.0 642.5,914.4 638.0,913.7 637.5,909.7 637.1,905.6 634.3,903.9 631.6,898.8 630.9,893.5 631.6,888.0 634.9,884.0 638.9,886.1 643.1,884.9 644.2,879.8 646.6,878.7 649.9,878.0 653.1,877.4 655.1,875.0 657.1,872.6 659.9,868.8 662.1,866.6 664.5,864.9 666.8,863.2 669.0,861.2 671.1,859.1 674.1,854.4 676.2,854.3 678.9,857.4 679.1,860.0 682.6,861.7Z M479.9,840.2 482.1,844.5 483.3,847.7 484.4,850.8 483.8,853.9 483.3,857.0 480.9,858.7 476.1,860.1 473.7,855.4 473.5,851.0 473.3,846.7 474.9,841.8 476.4,836.9 479.9,840.2Z M690.3,827.6 691.0,832.5 687.3,835.9 684.3,840.2 680.5,842.9 676.8,845.7 679.6,841.5 683.7,837.8 687.2,833.6 688.7,830.6 690.3,827.6Z M332.7,820.2 335.6,820.2 338.6,820.2 338.4,821.7 333.0,821.7 332.7,820.2Z M700.0,822.6 697.9,819.6 695.4,815.0 700.0,815.2 701.8,817.4 700.0,822.6Z M648.6,777.5 645.9,780.1 644.3,783.6 639.4,786.5 635.2,784.6 635.6,779.5 638.5,776.7 641.5,775.9 644.5,775.1 647.6,775.2 648.6,777.5Z M171.9,713.1 175.7,713.4 179.5,713.7 182.3,710.9 185.1,708.2 186.6,704.6 188.1,701.0 193.0,699.5 197.9,698.0 201.1,699.8 204.4,701.6 208.0,703.7 211.7,705.8 215.7,706.6 219.7,707.4 223.6,708.2 227.1,709.1 230.6,710.0 234.7,708.5 238.8,707.0 242.0,706.7 245.3,706.4 248.9,707.6 251.8,708.2 254.6,708.8 259.3,707.6 262.4,704.0 265.6,700.4 269.4,695.6 274.1,690.2 276.6,686.6 279.2,683.0 282.1,679.4 284.8,675.1 280.9,675.7 276.9,674.5 273.7,676.3 270.4,678.2 267.5,678.5 264.5,678.8 262.7,677.2 261.0,675.7 257.4,673.9 253.4,677.5 250.7,677.2 248.1,676.9 244.8,674.5 240.9,673.3 243.1,667.9 241.3,664.9 245.8,660.2 244.3,657.8 246.8,654.8 249.8,653.9 252.9,653.0 257.0,653.0 261.0,653.0 264.5,650.6 264.7,648.8 265.9,648.1 270.4,648.5 274.9,648.9 279.2,646.9 283.5,645.0 286.9,644.1 290.4,643.3 294.6,643.2 298.7,643.2 301.7,645.3 304.6,647.4 307.5,648.5 310.3,649.7 313.5,649.2 316.7,648.8 320.6,649.3 324.6,647.7 328.5,646.2 330.8,643.7 332.2,639.6 330.4,638.1 328.5,636.7 329.0,634.2 327.9,634.9 326.5,632.4 325.1,629.9 323.1,628.7 321.1,627.6 320.2,625.9 319.3,624.2 323.5,623.2 327.2,620.8 331.0,618.3 330.0,615.9 334.4,614.7 338.7,613.6 339.8,612.3 334.6,613.2 330.5,613.7 325.9,615.6 321.1,615.9 315.3,618.1 312.9,621.8 314.3,623.2 316.9,623.0 319.5,622.8 317.0,625.0 314.0,625.5 311.0,626.0 306.5,627.7 301.9,629.4 301.1,628.2 301.9,625.6 306.9,620.6 301.1,622.4 306.4,619.2 303.9,617.4 301.4,615.5 300.0,617.7 296.0,618.6 292.1,619.5 288.5,621.7 285.0,623.9 284.0,625.4 279.6,626.1 276.3,629.7 273.0,633.3 268.6,635.7 263.8,640.0 262.9,643.4 261.9,646.4 258.4,648.2 254.9,650.0 251.6,650.9 248.2,651.8 246.3,650.9 244.5,650.0 241.8,650.3 239.0,650.6 234.6,654.2 230.9,653.0 227.5,656.6 227.3,660.8 224.6,662.5 226.1,664.6 227.6,666.7 224.4,668.5 222.3,667.9 220.6,671.5 216.8,676.3 213.7,676.3 211.2,674.5 211.7,671.5 212.3,668.5 217.2,665.5 214.3,663.7 215.1,660.2 214.0,657.2 213.4,653.0 215.9,649.7 218.6,646.4 219.2,643.4 218.3,641.6 217.5,639.9 215.6,637.8 213.7,635.7 212.2,634.5 210.7,633.3 209.6,629.8 212.0,625.0 209.5,624.4 205.6,626.2 208.6,622.1 205.2,622.6 201.7,623.2 198.3,627.4 195.9,630.9 197.1,632.4 198.4,633.9 197.3,637.2 196.2,640.4 197.3,642.2 198.4,644.0 200.9,644.0 203.4,644.0 200.6,646.4 202.5,647.6 204.4,648.8 206.0,650.3 207.7,651.8 207.6,654.8 205.4,656.6 203.9,654.8 202.4,653.0 197.7,655.4 195.6,658.4 196.6,661.3 190.7,664.9 186.0,667.6 185.9,666.1 190.3,662.5 192.9,657.2 192.1,654.8 191.2,651.8 188.6,650.6 187.8,648.2 186.0,647.3 184.2,646.4 183.0,642.8 181.4,640.4 180.8,637.5 182.7,633.9 182.6,630.9 179.7,629.2 173.3,632.1 168.9,633.3 162.5,636.3 159.5,636.0 156.6,635.7 152.6,635.1 149.2,635.1 145.4,637.5 141.7,639.9 139.3,644.0 135.6,645.5 131.9,647.0 128.7,647.9 125.5,648.8 121.1,651.2 114.4,655.4 118.8,649.7 123.4,644.0 128.1,638.4 133.0,632.8 137.9,627.1 142.9,621.5 148.0,615.9 153.2,610.3 158.5,604.8 164.0,599.2 164.5,599.2 168.1,598.0 171.6,596.8 176.9,593.9 180.0,591.0 185.4,589.8 191.5,588.1 198.5,584.6 202.7,582.0 206.9,579.5 212.7,577.2 216.5,576.9 220.3,576.6 222.5,575.4 227.1,575.4 231.7,573.7 235.2,571.4 237.3,568.0 239.8,564.6 244.7,560.1 250.3,556.1 253.6,555.6 257.0,555.0 261.1,553.6 265.3,552.2 261.5,555.0 256.6,558.4 257.9,559.5 251.5,562.3 246.0,565.2 243.2,568.0 241.8,570.9 242.9,573.2 246.1,572.6 249.2,572.0 253.3,571.2 257.5,570.3 257.4,572.0 257.4,573.7 261.3,572.9 265.2,572.0 270.0,570.6 274.7,569.2 278.3,569.2 282.0,569.2 280.8,571.2 283.7,570.7 286.7,570.3 291.9,568.0 297.0,565.7 301.7,561.2 305.8,557.3 311.8,553.9 315.3,552.9 318.9,551.9 318.1,554.0 317.3,556.1 320.9,556.1 327.2,551.7 330.9,548.3 328.8,546.6 331.6,543.9 335.2,543.2 338.9,542.5 342.2,542.1 345.5,541.6 348.2,541.8 350.9,542.0 353.6,542.2 357.6,541.5 361.6,540.7 365.7,540.0 364.6,538.1 363.5,536.1 359.3,536.4 355.1,536.7 350.0,537.5 344.9,538.3 341.3,539.0 337.7,539.6 334.0,540.3 334.5,537.2 334.5,535.6 334.6,533.9 339.6,530.1 344.0,525.2 350.1,522.0 357.6,518.8 363.6,516.7 369.7,514.5 374.2,513.2 378.8,511.9 381.1,509.8 379.9,509.0 378.6,508.2 375.7,508.4 372.7,508.5 369.7,508.7 364.1,511.6 358.4,514.5 350.4,518.8 344.6,520.4 340.3,521.6 336.1,522.9 331.8,524.2 326.7,527.1 321.7,530.1 318.1,532.9 314.4,535.6 315.9,537.2 317.4,538.9 311.4,542.2 305.5,545.5 302.4,546.1 299.3,546.6 295.4,549.4 291.5,552.2 285.0,556.7 278.5,561.2 276.1,560.9 273.7,560.6 267.0,564.6 263.7,564.9 260.5,565.2 264.9,560.1 266.7,557.0 268.6,553.9 271.8,549.7 275.2,545.5 276.7,542.2 271.0,544.4 265.3,546.6 259.6,548.9 255.8,549.4 252.0,550.0 250.9,548.6 249.8,547.2 252.8,544.1 255.8,541.1 259.9,537.5 263.9,533.9 271.7,529.6 279.5,525.2 285.5,523.6 291.6,522.0 297.5,520.4 302.7,518.6 307.7,516.8 312.8,515.1 318.9,512.6 324.9,510.1 331.0,507.7 336.9,505.2 342.8,502.7 348.8,500.2 354.7,497.8 360.9,495.7 367.0,493.7 372.0,492.1 377.0,490.6 382.0,489.1 387.0,487.6 391.1,486.7 395.2,485.9 399.3,485.1 402.1,485.3 404.8,485.6 410.7,483.6 416.5,481.6 420.2,481.6 423.9,481.6 428.1,481.1 432.3,480.6 434.0,481.5 435.8,482.3 437.5,483.2 439.3,484.1 435.7,484.8 432.2,485.6 432.2,487.1 432.3,488.6 435.3,487.8 438.3,487.1 439.6,488.6 440.9,490.1 444.0,490.4 447.1,490.8 450.3,491.1 452.1,492.6 453.9,494.2 455.8,495.7 457.7,497.3 458.4,499.3 454.1,502.9 450.3,504.2 446.5,505.6 442.3,506.3 438.1,507.1 435.4,506.3 432.8,505.4 430.1,504.6 427.5,503.8 424.9,502.9 420.7,504.0 421.7,505.8 422.8,507.7 418.2,511.6 413.7,515.6 415.5,516.4 417.2,517.2 418.7,518.8 422.2,516.1 422.8,513.5 427.6,511.9 429.7,512.9 431.8,514.0 433.9,515.1 439.0,513.5 440.8,509.8 446.0,508.0 451.2,506.3 456.3,504.5 459.4,505.0 461.2,506.6 467.9,502.9 468.1,501.4 468.3,499.8 473.6,497.0 474.6,493.7 477.6,494.3 480.6,494.9 483.7,495.5 482.6,498.3 479.8,498.5 477.1,498.8 473.5,501.9 474.6,503.5 478.4,502.9 482.3,502.4 486.6,499.3 490.4,498.5 494.2,497.6 498.0,496.7 502.8,495.6 507.6,494.4 512.4,493.3 517.1,492.1 519.7,492.6 516.0,494.2 512.3,495.7 514.4,496.0 516.6,496.2 521.0,494.7 525.1,494.4 529.2,494.2 533.3,493.2 537.3,492.1 537.9,493.7 538.4,495.2 542.5,493.7 546.5,492.1 545.9,490.6 545.4,489.1 549.3,487.3 551.8,487.8 554.2,488.2 556.7,488.6 559.2,489.1 561.1,489.8 563.1,490.6 565.2,492.0 567.4,493.4 569.6,494.8 571.8,496.2 577.1,493.7 576.3,492.4 575.6,491.1 576.8,489.6 574.7,489.3 572.6,489.1 576.2,487.1 578.1,483.1 579.7,481.6 583.6,480.1 587.5,478.6 591.4,477.1 595.2,474.9 599.0,472.8 602.7,471.8 605.8,472.1 608.8,472.4 611.9,472.8 609.5,475.7 605.5,477.6 601.5,479.6 602.6,481.1 600.3,484.6 596.4,488.1 592.5,491.6 593.3,493.2 594.0,494.7 588.6,498.3 583.9,500.7 579.1,503.1 574.2,505.6 576.3,505.8 578.3,506.1 581.3,504.5 584.3,503.7 587.2,502.9 590.8,500.3 593.8,499.1 596.7,497.8 596.7,495.2 601.6,491.6 599.7,491.4 597.8,491.1 599.4,488.6 603.5,486.1 607.5,483.6 607.0,481.6 606.5,479.6 611.7,477.9 616.9,476.2 619.8,472.8 622.2,472.3 621.0,475.2 617.7,477.6 614.4,480.1 616.3,480.3 618.2,480.6 619.7,477.1 624.0,476.2 628.2,475.2 630.9,475.2 633.6,475.2 636.2,475.2 638.3,476.5 640.4,477.9 640.8,475.8 641.1,473.7 643.5,471.2 646.0,468.7 649.7,468.2 653.5,467.7 656.5,467.8 659.4,467.9 662.4,467.9 665.2,467.8 667.9,467.6 670.7,467.5 670.7,464.6 674.4,463.2 678.1,461.8 680.1,461.8 682.1,461.8 685.4,461.0 688.6,460.2 691.9,459.4 695.3,459.1 698.8,458.8 702.3,458.5 704.3,457.6 707.7,457.4 711.1,457.3 714.5,457.1 716.5,458.0 719.9,457.3 723.3,456.5 726.7,455.7 730.1,455.7 733.5,455.7 736.5,453.4 739.1,452.5 741.8,451.6 745.2,451.0 748.6,450.4 752.0,449.9 754.4,450.5 756.7,451.2 753.6,451.9 750.5,452.5 752.9,452.8 755.4,453.1 757.8,453.4 756.9,455.3 759.1,454.8 761.3,454.4 764.8,454.4 768.2,454.4 771.7,454.4 773.6,455.1 775.6,455.9 777.6,456.7 779.1,458.5 776.5,460.8 774.0,461.5 771.4,462.3 767.6,463.0 763.8,463.8 760.0,464.6 756.0,466.0 757.8,466.5 759.7,467.0 762.1,467.5 764.6,467.9 768.6,467.0 768.1,470.3 771.0,468.9 774.2,468.5 777.5,468.2 780.3,468.4 783.2,468.5 786.1,468.7 788.9,468.9 788.1,471.3 791.3,471.4 794.4,471.5 797.5,471.6 800.6,471.7 803.7,471.8 806.1,468.4 808.6,468.6 811.1,468.7 813.6,468.9 816.6,468.9 819.6,468.9 821.8,470.3 824.0,471.8 824.4,474.7 821.1,476.7 822.4,478.6 823.8,480.6 826.4,481.6 829.0,482.6 832.1,480.1 835.2,477.6 837.8,478.6 840.4,479.6 844.0,478.9 847.6,478.1 850.8,479.1 854.1,480.1 857.4,478.6 860.5,478.9 863.7,479.1 863.0,476.9 862.4,474.7 865.5,473.6 868.6,472.5 871.9,472.8 875.2,473.1 878.4,473.5 881.7,473.8 885.0,474.1 888.3,474.4 891.7,474.7 895.0,475.0 898.3,475.4 901.6,475.7 902.9,477.1 904.2,478.6 907.1,479.9 910.1,481.3 913.0,482.6 916.2,482.4 919.4,482.2 922.5,482.0 925.7,481.8 928.9,481.6 931.4,481.7 934.0,481.9 936.5,482.1 939.2,484.1 938.1,488.1 940.3,488.8 942.5,489.6 945.4,489.1 948.2,488.6 951.8,488.3 955.4,488.1 958.8,488.6 962.3,489.1 966.1,488.8 969.8,488.6 972.0,490.1 974.2,491.6 976.5,493.2 978.9,492.4 981.4,491.6 979.9,490.0 978.5,488.3 980.7,486.1 983.7,486.4 986.7,486.8 989.7,487.2 992.7,487.6 995.4,487.4 998.2,487.2 1001.0,487.1 1004.7,487.9 1008.5,488.8 1012.3,489.6 1015.0,490.6 1017.8,491.6 1021.1,492.7 1024.5,493.9 1027.9,495.0 1031.2,496.1 1034.6,497.3 1036.9,499.1 1039.2,500.9 1040.7,505.6 1044.2,505.2 1047.8,504.9 1051.4,504.6 1054.9,504.3 1058.5,504.0 1059.6,507.1 1057.1,509.1 1054.5,511.1 1052.0,513.1 1049.4,515.1 1045.8,515.4 1042.2,515.8 1038.6,516.1 1042.3,515.1 1046.0,514.0 1042.2,512.6 1038.4,511.2 1034.7,509.8 1031.6,509.2 1028.5,508.7 1025.4,508.2 1022.3,507.7 1020.1,507.1 1017.8,506.6 1018.6,510.3 1015.5,512.7 1012.4,515.1 1009.7,514.8 1007.0,514.5 1008.8,515.9 1010.7,517.2 1011.9,519.5 1013.2,521.7 1015.3,523.2 1014.4,526.9 1010.6,526.3 1006.8,525.8 1002.8,527.0 998.8,528.3 994.7,529.6 990.8,530.4 987.5,532.2 984.2,534.1 980.8,535.9 977.5,537.8 975.6,540.0 972.7,538.1 969.8,536.1 965.9,537.6 962.0,539.1 958.1,540.5 956.2,538.3 954.1,539.7 951.9,541.1 949.0,540.5 946.0,540.0 944.2,543.9 941.2,546.6 938.2,549.4 938.4,551.7 940.7,552.2 943.1,552.8 942.4,556.7 941.7,560.6 939.4,560.9 937.2,561.2 934.8,565.7 936.3,568.0 932.3,569.7 928.2,571.4 926.8,574.6 925.5,577.7 922.0,578.3 918.4,578.9 917.3,582.0 916.2,585.2 912.6,587.8 908.9,590.4 907.6,586.4 907.3,582.0 907.0,577.7 906.8,573.5 906.5,569.3 906.3,565.2 908.1,561.2 909.9,557.3 912.2,555.6 914.5,553.9 914.8,551.7 918.5,550.8 922.2,550.0 925.2,547.7 928.2,545.5 931.1,543.3 935.2,540.5 939.3,537.8 943.5,535.6 947.6,533.4 949.9,529.3 952.1,525.2 949.5,525.5 946.9,525.8 945.3,528.2 943.7,530.7 939.7,532.7 935.7,534.7 931.7,536.7 930.5,533.1 929.3,529.6 925.5,530.3 921.7,531.0 917.8,531.8 913.7,534.7 909.6,537.6 905.4,540.5 906.8,542.5 908.1,544.4 904.9,544.8 901.6,545.2 898.3,545.5 894.9,545.8 891.6,546.1 892.4,542.2 889.2,541.6 886.1,541.1 882.9,542.5 879.8,543.9 876.5,543.7 873.3,543.6 870.0,543.4 866.8,543.3 863.0,543.7 859.3,544.1 855.6,544.6 851.9,545.0 847.6,547.6 843.2,550.3 838.9,552.9 834.5,555.6 830.3,558.3 826.0,561.0 821.7,563.7 817.4,566.4 813.1,569.2 816.7,569.4 820.2,569.7 821.6,573.2 823.7,573.7 825.8,574.3 829.4,571.4 831.8,571.7 834.2,572.0 836.6,575.2 839.1,578.3 838.3,583.5 835.7,586.4 833.2,589.3 832.1,592.7 831.1,596.2 829.1,600.9 827.1,605.6 824.2,608.3 821.2,611.1 818.2,613.8 815.4,617.9 811.5,621.3 807.5,624.8 803.6,628.2 799.6,631.7 795.6,635.1 791.8,636.9 787.9,638.7 784.9,638.7 782.6,635.7 778.7,637.8 774.8,639.9 773.7,642.2 771.9,641.6 769.2,644.0 767.5,645.8 766.5,650.0 763.7,651.2 762.5,652.4 760.1,654.2 756.7,655.4 754.0,656.6 753.4,659.6 752.7,660.2 754.6,661.0 756.8,663.7 758.2,667.3 759.6,670.9 760.5,674.5 759.8,678.2 759.2,681.8 756.6,684.8 751.7,686.0 747.2,688.4 742.5,689.0 742.5,686.0 744.4,681.2 743.7,678.2 743.0,675.1 747.4,673.9 746.1,671.5 744.8,669.1 742.5,667.9 740.2,669.1 737.7,666.7 739.7,664.3 740.9,661.3 742.1,658.4 738.1,656.0 734.4,656.9 730.6,657.8 726.0,660.2 723.2,661.0 720.3,661.9 723.8,659.0 723.3,656.9 725.8,654.9 728.3,653.0 726.1,649.7 721.6,651.8 718.0,653.9 714.5,656.0 710.5,659.9 707.9,660.0 705.4,660.2 702.1,663.1 704.0,667.0 708.0,667.9 707.4,670.6 711.0,672.4 714.3,670.3 717.6,668.1 721.7,670.3 725.2,670.6 724.9,673.9 721.2,674.7 717.5,675.4 714.2,678.8 711.5,680.3 708.8,681.8 705.3,686.0 707.7,687.5 710.0,689.0 710.5,692.0 710.9,695.0 711.9,697.7 713.0,700.4 714.4,702.8 715.8,705.2 715.0,709.7 711.4,711.2 712.1,714.6 714.9,716.7 713.1,721.4 711.3,726.3 708.1,726.9 705.8,730.1 703.5,733.2 700.9,737.3 698.2,741.3 695.3,744.8 692.4,748.3 688.5,751.1 684.6,754.0 680.6,756.4 676.6,758.8 673.5,759.1 670.5,759.4 666.9,762.4 665.3,760.3 662.0,763.3 658.1,764.8 654.2,766.3 651.4,766.8 648.5,767.2 647.2,770.4 645.9,773.6 643.0,774.0 642.0,769.6 643.5,767.2 640.0,766.3 636.5,765.4 634.0,766.3 631.3,765.6 628.7,764.8 627.1,768.1 625.5,771.4 623.3,774.3 621.2,777.2 619.5,781.3 621.2,784.5 622.9,787.7 625.0,791.6 627.1,795.5 629.4,797.4 631.7,799.3 633.1,801.7 634.5,804.1 635.3,809.7 636.1,815.4 635.3,820.6 634.6,825.8 632.2,827.8 629.8,829.8 626.6,831.8 623.3,833.7 621.0,836.2 618.7,838.7 615.1,841.5 611.6,844.3 609.9,840.4 611.6,836.3 607.8,832.8 603.3,832.1 601.3,828.9 600.1,825.8 599.0,822.6 594.4,819.9 589.7,820.0 590.9,815.4 586.1,815.4 585.6,818.7 585.2,822.0 583.4,826.4 581.6,830.7 579.5,836.1 579.6,840.4 583.1,840.7 585.1,846.1 585.8,851.3 588.7,854.8 591.9,855.5 594.6,858.6 595.8,859.1 598.9,862.8 601.1,866.8 601.3,870.9 600.6,873.6 601.1,875.7 601.4,879.3 603.3,881.0 605.4,886.2 605.2,888.3 601.4,888.6 598.8,886.4 596.3,884.2 593.1,881.8 589.9,879.4 589.3,876.4 586.3,872.3 585.7,867.3 583.9,864.1 584.6,859.7 583.5,857.2 581.5,854.8 580.7,851.9 577.9,848.5 575.4,845.6 574.4,849.1 573.5,845.8 574.3,842.1 575.3,839.2 576.2,836.3 576.0,831.8 578.0,827.2 576.4,823.6 576.9,820.4 577.4,817.1 575.5,813.9 574.9,810.3 574.4,806.7 574.3,802.9 574.2,799.1 572.4,794.1 568.5,797.1 565.2,799.3 562.0,801.5 559.0,800.9 555.8,799.5 557.2,795.8 558.5,792.0 558.1,786.4 556.5,782.9 554.8,779.5 555.7,777.3 552.7,776.5 551.2,774.1 549.6,771.6 548.5,768.4 548.2,765.5 548.0,762.5 546.3,759.0 541.4,758.8 541.5,761.2 539.3,764.6 537.3,763.4 536.3,764.5 534.9,763.8 532.9,763.3 531.9,765.5 528.2,765.4 524.8,766.0 521.5,766.6 521.1,771.2 517.8,774.8 513.6,776.8 509.5,778.8 506.0,782.3 502.5,785.9 497.9,789.7 495.0,791.6 492.0,793.6 491.6,796.4 488.7,797.9 483.6,800.0 481.0,800.3 478.9,804.9 479.0,808.8 479.1,812.7 478.9,817.7 477.4,820.6 476.0,823.5 475.5,828.6 475.1,833.7 472.3,834.0 469.5,838.6 471.0,840.5 465.9,842.3 463.8,846.4 461.5,848.1 459.1,845.3 456.7,842.5 455.8,838.3 454.9,834.0 454.1,831.0 453.3,828.0 451.7,825.1 450.5,822.2 449.3,819.4 449.1,815.6 448.9,811.8 448.4,808.0 446.4,803.9 444.6,799.8 444.3,794.0 444.1,788.1 443.9,784.3 443.7,780.4 444.3,776.8 444.9,773.1 444.8,767.5 440.6,769.3 436.5,771.1 432.8,770.4 429.9,766.7 427.1,763.1 430.0,760.9 428.9,758.6 426.2,756.0 423.6,753.4 420.0,751.9 419.4,747.6 417.8,745.3 416.2,743.0 411.2,743.5 406.2,744.1 401.9,744.2 397.6,744.2 393.8,744.7 390.0,745.1 385.2,744.2 380.4,743.3 377.7,742.6 375.0,741.9 372.1,741.5 369.2,741.1 369.1,737.4 368.9,733.7 366.7,732.7 362.3,733.8 359.3,735.2 356.2,736.7 353.3,735.7 350.3,734.7 348.3,732.3 346.3,730.0 344.1,729.2 341.8,728.3 340.9,725.5 340.1,722.6 339.6,718.6 339.1,714.6 335.9,715.5 333.3,713.5 330.5,715.9 327.5,715.6 327.6,718.3 326.7,719.6 326.8,724.2 327.2,729.4 329.4,730.8 329.6,732.9 332.5,735.4 332.1,737.9 331.0,739.9 331.1,741.9 332.2,743.6 332.4,745.6 332.8,747.1 333.6,742.7 335.9,739.5 337.5,738.9 338.6,740.7 337.8,744.2 335.7,747.8 336.2,750.1 337.2,749.8 337.0,751.5 341.4,750.5 345.7,750.7 348.9,750.9 353.5,746.8 358.4,742.9 362.7,739.2 364.8,737.1 365.3,737.7 364.1,740.1 363.2,741.3 362.7,746.0 364.2,750.1 366.6,752.3 370.4,753.1 373.3,754.2 374.9,757.7 376.0,759.6 377.7,760.4 377.5,761.8 374.8,765.4 373.6,767.1 371.0,769.0 368.3,773.1 365.9,772.8 364.6,774.2 363.1,777.2 363.0,781.3 362.4,782.0 359.9,782.0 356.2,784.3 355.1,787.2 353.6,788.4 350.3,788.4 348.0,789.9 347.5,792.3 344.6,794.0 341.8,793.5 337.8,795.5 335.3,795.8 331.1,797.4 329.6,800.1 329.2,802.1 326.3,803.4 323.4,804.7 318.8,806.1 314.3,807.5 311.6,809.6 308.8,811.8 306.4,812.1 304.9,811.7 301.3,814.2 297.7,815.4 293.2,815.7 291.8,816.0 290.4,817.6 288.8,818.1 287.8,819.6 285.1,819.5 283.3,820.3 279.6,820.0 278.7,816.5 279.3,813.2 278.7,811.4 278.4,807.0 277.2,804.5 278.4,804.2 278.3,801.4 279.1,800.3 279.4,797.6 279.2,795.1 277.9,793.2 277.9,790.9 275.6,788.7 273.8,783.7 273.3,778.7 270.5,774.6 268.3,773.6 267.1,770.8 266.0,767.9 266.3,763.7 267.4,760.1 266.6,756.8 265.9,753.4 264.0,751.1 261.4,749.8 260.6,746.4 261.3,745.1 260.7,741.9 259.6,740.6 258.9,736.1 258.0,733.7 257.2,731.2 256.0,727.1 253.3,727.1 255.4,723.8 256.4,721.7 258.0,719.3 258.1,718.5 255.0,723.0 252.0,727.5 250.9,729.3 247.9,725.7 247.4,720.9 246.9,716.1 245.1,717.9 245.4,722.7 245.7,727.5 246.4,731.4 247.2,735.3 247.8,740.4 248.4,745.6 249.5,749.2 250.7,752.8 249.5,757.6 252.0,760.6 254.5,763.6 254.8,766.6 255.2,769.6 254.3,773.9 253.4,778.1 253.6,781.1 253.7,784.1 256.0,785.9 258.3,787.7 258.8,791.7 259.2,795.7 259.7,799.7 260.6,802.4 261.5,805.2 264.6,807.6 267.7,810.0 270.6,813.9 273.5,817.8 277.5,820.2 278.5,825.0 276.1,826.8 278.5,829.8 280.9,832.8 283.5,833.1 286.2,833.4 290.4,832.2 294.6,831.0 298.8,829.8 303.0,828.6 307.1,828.0 311.2,827.4 316.0,825.9 320.8,824.4 320.0,828.6 319.3,832.8 316.7,837.4 314.1,841.9 312.0,845.9 309.8,849.9 307.7,853.9 305.1,857.9 302.5,861.9 299.9,866.0 297.0,870.0 294.1,874.0 291.2,878.0 287.8,881.0 284.5,884.0 281.1,887.0 277.8,890.0 274.5,893.0 271.7,895.7 269.0,898.5 265.8,902.7 262.7,906.9 259.8,909.9 256.9,912.9 255.4,917.1 254.0,921.3 252.3,926.1 250.7,931.0 252.3,934.3 253.9,937.6 254.6,942.4 255.2,947.2 257.4,952.6 259.6,958.1 261.5,963.2 263.5,968.3 264.4,973.3 265.3,978.3 266.2,983.3 265.7,987.8 265.1,992.4 262.5,995.4 259.8,998.4 256.6,1000.2 253.4,1002.0 250.2,1003.8 247.6,1007.1 245.1,1010.4 243.1,1013.1 241.0,1015.8 243.4,1020.7 245.8,1025.5 247.1,1029.9 248.5,1034.3 250.0,1038.7 247.4,1041.4 244.8,1044.1 242.2,1046.8 239.7,1049.5 239.6,1054.4 241.0,1058.0 242.5,1061.6 242.0,1066.1 241.6,1070.6 240.1,1073.3 238.5,1076.0 238.0,1080.3 237.4,1084.5 236.0,1087.5 234.7,1090.5 233.3,1093.5 230.8,1096.2 228.2,1098.9 225.1,1099.8 221.9,1100.7 218.4,1100.9 214.9,1101.1 211.4,1101.3 207.7,1101.6 204.0,1101.9 201.2,1103.1 198.5,1104.3 195.7,1105.5 190.6,1103.7 185.5,1101.9 182.8,1097.4 180.2,1092.9 178.4,1089.9 176.7,1086.9 172.3,1082.7 168.0,1078.4 163.6,1073.3 159.3,1068.2 155.9,1065.0 152.6,1061.8 149.2,1058.6 147.1,1054.6 145.0,1050.6 142.9,1046.5 141.0,1042.5 139.1,1038.5 137.2,1034.5 135.5,1030.0 133.7,1025.5 130.9,1022.1 128.1,1018.6 125.3,1015.2 122.2,1011.6 119.2,1008.0 116.1,1004.4 114.5,999.9 112.9,995.4 112.9,991.4 112.9,987.3 113.0,983.3 114.3,979.5 115.6,975.7 116.9,971.9 117.2,967.1 117.6,962.3 115.6,958.3 113.7,954.2 111.8,950.2 112.2,947.2 112.7,944.2 110.5,940.2 108.4,936.2 106.2,932.2 105.2,929.2 104.1,926.1 101.8,923.1 99.4,920.1 95.9,915.9 92.4,911.7 90.1,908.4 87.8,905.1 85.5,900.3 87.4,897.6 89.3,894.8 89.1,891.5 88.9,888.2 90.1,884.6 91.3,881.0 91.3,876.8 91.2,872.6 88.6,870.5 86.0,868.4 82.2,869.0 78.3,869.6 74.8,869.9 71.2,870.2 69.2,867.2 67.3,864.1 65.1,861.1 62.9,858.1 58.6,857.8 54.2,857.5 49.8,858.7 45.3,859.9 42.2,861.1 39.2,862.3 39.7,856.5 40.2,850.6 40.9,844.7 41.6,838.9 42.4,833.0 43.3,827.2 44.3,821.3 45.3,815.4 46.5,809.6 47.8,803.7 49.1,797.8 50.6,792.0 52.1,786.1 53.7,780.2 55.3,774.4 56.9,768.5 58.6,762.6 60.3,756.8 62.2,750.9 64.1,745.1 66.3,739.2 68.6,733.3 71.1,727.5 73.8,721.6 76.6,715.7 79.6,709.9 82.7,704.0 86.0,698.1 89.4,692.3 93.0,686.4 96.7,680.6 100.6,678.5 104.6,676.3 108.5,675.5 112.4,674.7 116.3,673.9 120.0,674.3 123.6,674.7 127.3,675.1 131.4,674.5 135.5,673.9 139.6,673.3 143.9,672.7 148.2,672.1 152.5,671.5 155.0,672.4 157.5,673.3 154.0,676.3 150.7,679.4 150.3,684.2 146.5,687.2 142.7,690.2 143.5,692.9 144.3,695.6 147.3,696.4 150.4,697.2 153.4,698.0 156.7,699.2 160.1,700.4 163.4,701.6 163.7,704.6 164.0,707.6 166.6,709.4 169.3,711.2 171.9,713.1Z M363.8,654.3 360.3,659.0 358.3,661.0 355.7,662.4 354.3,665.4 353.6,669.9 357.8,671.1 359.9,674.1 363.3,674.6 366.6,675.1 371.0,674.3 375.4,673.5 376.5,672.1 377.7,667.9 379.6,664.8 381.5,661.6 378.6,659.6 382.1,655.5 378.9,655.2 382.9,650.1 386.7,651.6 392.2,649.7 390.6,646.1 391.1,642.7 386.3,644.2 383.2,648.6 383.9,644.7 384.5,643.2 387.1,640.8 387.4,638.7 385.2,637.7 382.9,636.7 383.4,634.0 384.0,631.4 382.2,629.9 383.3,627.9 387.7,628.5 390.7,624.1 395.4,623.2 399.1,624.1 403.6,618.3 405.1,614.7 402.6,614.8 400.1,615.0 396.9,613.5 393.3,614.8 389.6,616.1 384.3,617.3 379.8,620.8 374.5,621.8 370.0,624.9 365.6,627.9 366.0,630.7 366.4,633.5 363.4,637.5 363.9,641.0 364.5,644.6 365.2,647.7 365.3,652.0 367.5,652.2 368.1,653.8 363.8,654.3Z M710.2,745.6 708.9,749.2 706.8,754.0 704.7,758.9 701.9,763.8 699.6,758.7 699.5,754.2 701.3,751.3 703.2,748.3 705.6,746.0 708.0,743.8 710.2,745.6Z M268.5,683.9 268.3,685.0 268.2,685.5 264.9,686.7 261.7,688.0 259.6,687.2 259.6,684.8 262.1,684.5 262.5,684.5 264.0,683.0 267.7,683.1 273.3,681.3 268.5,683.9Z M228.0,685.4 224.2,685.6 220.3,685.8 220.9,684.9 218.1,684.3 215.3,683.7 217.7,681.1 219.4,683.1 223.5,682.8 227.1,683.3 226.5,684.3 229.6,683.6 228.0,685.4Z M172.2,672.7 169.6,671.2 167.1,669.7 169.8,666.6 172.6,666.9 175.3,667.2 178.1,666.8 180.9,666.5 185.1,666.0 180.3,670.7 179.9,672.6 176.9,675.6 174.4,673.4 172.2,672.7Z M108.1,663.8 110.0,661.2 109.6,663.1 108.1,663.8Z M159.6,649.7 162.1,650.0 166.0,648.1 165.8,652.4 162.6,656.3 159.4,660.3 157.3,659.9 153.9,661.9 153.1,660.3 155.6,656.7 158.1,653.1 159.6,649.7Z M170.3,639.7 175.3,637.4 172.1,642.5 166.9,647.1 165.5,645.9 167.5,641.9 170.3,639.7Z M171.7,591.8 177.7,586.2 183.9,580.6 190.2,575.1 188.8,577.0 187.6,579.3 189.7,579.8 191.9,580.4 187.3,584.1 183.1,585.7 181.7,588.7 178.0,590.3 174.2,591.8 171.7,591.8Z M260.9,564.0 256.9,566.3 253.0,568.6 252.4,567.0 251.8,565.4 253.9,563.0 258.3,562.1 262.6,561.2 260.9,564.0Z M567.8,465.5 562.0,467.9 556.1,470.2 550.2,472.5 544.3,474.8 540.0,478.9 540.9,480.3 541.8,481.6 542.7,483.0 539.8,483.4 536.8,483.3 533.9,483.1 530.9,482.9 527.9,482.8 529.6,480.5 526.9,479.9 524.2,479.3 527.0,476.6 529.6,476.1 532.2,475.5 535.5,472.9 539.8,471.5 544.1,470.1 548.4,468.8 545.8,468.2 550.6,466.8 555.5,465.4 560.4,464.0 562.4,461.9 566.3,461.0 570.2,460.2 574.1,459.4 578.1,458.6 582.2,457.9 586.2,457.2 590.3,456.4 593.6,456.2 596.9,456.0 600.2,455.8 603.5,455.6 607.8,454.7 612.0,453.9 615.9,453.6 619.8,453.3 619.7,455.1 615.4,456.5 611.4,457.1 607.5,457.6 603.5,458.2 599.5,458.8 596.0,459.3 592.4,459.9 588.9,460.5 585.3,461.0 580.9,462.1 576.6,463.3 572.2,464.4 567.8,465.5Z M457.7,449.9 462.5,448.8 463.2,447.4 466.2,447.1 469.2,446.8 472.2,446.6 470.3,448.2 471.8,448.7 473.3,449.2 469.4,449.8 465.6,450.4 461.7,451.0 459.7,450.5 457.7,449.9Z M451.9,441.4 454.4,441.4 456.9,441.4 461.4,439.9 464.1,439.9 466.7,439.8 467.2,440.5 467.7,441.3 468.8,442.0 469.9,442.8 471.1,443.6 472.2,444.4 468.1,444.9 464.0,445.5 459.9,446.1 451.2,449.3 446.3,450.1 436.9,453.9 434.6,454.0 432.3,454.0 431.6,453.1 431.0,452.2 430.4,451.3 437.0,449.7 435.7,449.1 434.4,448.4 434.8,447.2 435.3,446.0 435.8,444.7 438.2,443.1 440.7,441.5 444.9,441.0 449.2,440.5 453.4,440.0 451.9,441.4Z M747.9,443.2 751.3,442.7 753.5,443.0 755.6,443.8 757.7,444.6 759.8,445.4 757.0,447.2 753.5,447.4 749.9,447.7 746.4,448.0 742.8,448.3 739.2,448.6 735.6,448.9 739.7,447.0 743.8,445.1 747.9,443.2Z M731.0,436.0 733.8,435.7 736.5,435.4 739.3,435.1 740.6,435.7 742.0,436.4 743.4,437.0 744.5,438.3 745.6,439.6 746.8,440.9 741.8,444.7 739.1,444.9 736.4,445.0 733.7,445.2 730.9,444.8 728.2,444.4 725.4,444.0 723.5,443.2 721.7,442.4 722.1,440.9 722.6,439.4 720.8,439.0 719.0,438.6 723.0,437.7 727.0,436.8 731.0,436.0Z M472.8,441.8 474.6,440.7 472.3,440.6 469.9,440.6 470.2,439.7 470.5,438.7 473.7,438.4 476.9,438.2 480.2,437.9 483.4,437.6 484.7,438.1 486.1,438.6 489.1,438.0 492.1,437.4 494.2,437.7 496.3,438.0 498.4,438.4 500.2,439.1 502.0,439.8 497.1,440.9 492.2,442.0 488.6,442.2 484.9,442.3 481.3,442.5 478.4,442.3 475.6,442.0 472.8,441.8Z M568.0,439.0 572.2,437.8 569.8,437.7 567.4,437.7 565.0,437.6 568.9,437.3 572.9,436.9 575.5,436.9 578.0,436.9 576.7,438.0 580.4,437.0 584.8,436.3 586.5,436.8 588.1,437.2 585.8,437.8 583.0,438.1 580.3,438.3 576.7,438.6 575.0,439.3 572.4,439.6 569.8,440.0 568.9,439.5 568.0,439.0Z M844.8,1141.5 847.4,1142.5 850.0,1143.5 852.6,1142.7 856.3,1141.6 859.4,1142.0 860.0,1145.5 860.7,1149.0 859.3,1151.1 859.5,1155.9 857.5,1154.3 854.8,1158.4 853.7,1158.1 850.7,1157.9 848.7,1155.3 846.8,1152.8 845.5,1148.9 843.6,1146.3 841.8,1143.7 841.5,1140.9 844.8,1141.5Z M853.9,1024.0 855.1,1027.3 856.3,1030.5 858.3,1029.2 860.6,1031.9 861.9,1030.9 862.5,1034.1 863.1,1037.3 867.1,1041.0 869.6,1043.3 871.8,1045.7 874.1,1048.2 875.8,1053.0 876.1,1056.4 876.0,1060.1 878.8,1065.3 878.9,1070.6 878.2,1073.4 877.2,1078.7 877.5,1082.2 876.8,1086.5 875.9,1089.3 875.0,1092.0 871.4,1094.9 870.0,1099.6 868.6,1102.6 867.5,1107.8 865.9,1110.8 865.1,1115.3 864.9,1119.4 865.4,1121.3 862.7,1123.4 859.8,1123.5 857.0,1123.6 854.8,1124.8 852.7,1126.1 850.6,1128.4 847.9,1131.0 843.4,1128.3 840.2,1127.3 840.5,1124.2 837.9,1125.3 836.0,1127.5 834.1,1129.6 829.5,1128.0 826.5,1127.0 823.5,1126.6 820.9,1125.7 818.3,1124.9 814.5,1121.2 812.9,1116.6 811.1,1112.7 808.3,1111.1 803.3,1110.4 804.6,1107.5 802.7,1103.0 800.8,1107.2 796.4,1108.3 798.6,1105.0 798.8,1101.5 800.4,1098.6 799.4,1094.1 797.7,1096.7 795.9,1099.2 793.0,1101.3 791.7,1106.1 787.4,1103.6 787.0,1100.4 783.1,1096.0 780.1,1093.8 780.8,1092.4 777.3,1090.6 773.7,1088.7 770.0,1088.6 767.3,1087.1 764.6,1085.7 760.0,1085.9 755.4,1086.2 752.2,1087.3 749.0,1088.4 746.2,1089.4 743.4,1090.4 738.4,1090.0 735.9,1091.5 733.4,1093.1 729.1,1094.5 728.7,1097.6 727.3,1100.1 722.9,1100.2 719.8,1100.7 715.0,1099.6 711.4,1100.3 707.9,1100.6 705.5,1103.8 704.0,1103.5 701.8,1105.2 699.7,1107.1 695.9,1106.9 692.5,1106.9 689.3,1105.0 686.2,1103.1 683.2,1101.9 682.5,1098.4 684.9,1097.6 685.5,1096.3 684.9,1094.1 684.7,1089.9 683.4,1086.3 681.4,1083.3 679.5,1080.3 678.0,1076.8 677.6,1073.4 674.8,1069.5 674.4,1067.7 671.7,1065.3 670.3,1060.6 666.6,1055.8 665.5,1053.3 668.2,1055.9 665.6,1050.3 668.5,1052.0 670.3,1054.4 669.9,1051.3 666.6,1046.5 665.9,1044.6 664.4,1042.8 664.5,1039.4 665.5,1037.9 665.8,1034.9 664.9,1031.4 666.6,1027.0 667.5,1031.6 669.3,1027.5 673.5,1025.5 675.8,1022.9 679.7,1020.7 682.1,1020.2 683.6,1021.0 687.6,1018.7 690.8,1018.0 691.5,1016.7 692.8,1016.1 695.8,1016.3 698.5,1015.4 701.3,1014.5 703.9,1011.9 705.0,1008.7 707.9,1005.6 708.0,1003.2 707.8,999.9 709.5,997.4 711.2,994.8 713.8,1000.0 716.0,998.8 713.9,996.0 715.4,993.0 717.8,994.3 718.2,989.8 720.9,986.8 722.0,984.4 724.7,983.4 724.7,981.7 727.1,982.4 727.1,980.9 729.4,980.0 732.0,979.2 736.1,982.0 739.3,985.6 742.7,985.6 746.2,986.2 744.8,982.9 747.1,978.0 749.5,976.5 748.6,975.0 750.8,971.5 753.9,969.4 756.7,970.1 761.2,968.9 761.0,965.9 756.9,963.9 759.8,963.0 763.4,964.6 766.4,967.0 771.0,968.5 772.6,967.9 776.0,969.8 779.1,968.0 781.1,968.6 782.3,967.4 784.9,970.4 783.7,973.6 781.7,976.1 779.8,976.2 780.6,978.6 779.1,981.6 777.4,984.7 777.9,986.3 782.4,989.7 786.6,991.6 789.5,993.7 793.6,997.2 795.1,997.2 798.0,998.7 798.9,1000.6 801.6,1001.6 804.2,1002.7 807.6,1000.6 808.5,997.4 809.4,994.7 809.9,991.4 811.3,986.6 810.4,983.7 810.8,981.9 810.0,978.5 810.5,973.9 811.5,972.7 810.6,970.8 811.8,967.6 812.7,964.3 812.7,962.5 814.7,960.3 816.3,963.2 816.8,967.0 818.2,967.7 818.5,970.3 820.6,973.3 821.1,976.7 821.0,978.9 823.2,983.6 826.5,981.3 828.4,983.9 831.1,986.2 830.7,988.9 832.1,994.1 833.0,997.1 834.4,997.8 836.1,1003.0 835.7,1006.1 837.7,1010.2 840.7,1011.7 843.6,1013.3 847.6,1016.2 851.3,1018.8 850.7,1020.2 853.9,1024.0Z M922.5,961.2 918.7,961.2 916.6,957.4 919.8,959.0 920.9,959.1 922.5,961.2Z M908.5,955.0 907.4,954.1 907.7,951.7 911.3,952.6 913.1,953.9 914.0,955.5 911.9,955.6 908.5,955.0Z M724.4,946.8 728.2,946.6 729.9,945.8 732.0,946.6 730.0,948.2 727.2,949.6 724.5,950.9 720.0,952.6 716.6,957.1 712.0,958.4 711.4,957.7 711.8,955.6 713.9,952.0 716.6,950.8 719.2,949.6 719.8,948.2 724.4,946.8Z M914.2,946.1 916.2,950.9 918.5,953.8 917.7,954.9 915.6,952.3 913.6,949.7 912.4,946.1 914.2,946.1Z M703.1,947.0 707.8,944.7 707.2,948.1 703.1,949.0 699.0,949.8 695.4,949.4 691.8,949.1 691.7,946.9 696.0,945.7 699.4,947.5 703.1,947.0Z M908.6,946.3 908.8,947.5 904.5,944.9 901.5,942.7 899.5,940.7 900.3,940.1 902.8,941.6 907.3,944.3 908.6,946.3Z M890.1,936.8 890.3,935.8 893.6,938.3 895.8,940.3 894.7,940.6 892.3,939.3 890.1,936.8Z M882.9,935.4 880.4,931.6 879.2,927.0 879.9,926.4 880.6,928.2 882.2,929.6 884.9,933.4 887.5,935.4 886.7,937.1 885.2,937.7 882.9,935.4Z M838.3,936.5 839.6,940.5 842.0,942.5 844.5,944.4 846.3,947.6 848.2,950.8 851.3,950.6 851.1,953.3 855.3,954.3 853.7,955.5 856.6,956.7 859.5,958.0 859.0,959.7 855.4,960.2 854.0,958.6 849.4,957.9 846.6,957.5 843.9,957.0 841.7,955.1 839.6,953.2 836.4,949.9 835.0,947.2 833.5,944.6 829.9,943.3 826.3,942.0 821.8,943.7 818.5,945.7 819.3,950.1 815.1,952.2 812.0,951.2 809.2,951.1 806.4,950.9 803.9,948.5 801.4,946.0 798.7,945.4 795.9,944.8 794.6,946.5 791.2,946.6 787.7,946.7 789.9,941.8 793.3,940.1 792.5,936.8 791.8,933.6 789.0,928.5 785.5,926.8 782.0,925.1 778.4,923.4 773.9,922.9 769.8,920.1 765.6,917.4 764.1,920.2 762.0,920.8 760.8,918.6 760.7,916.0 756.5,913.0 759.4,911.9 762.3,910.9 766.2,911.0 765.7,909.4 761.7,909.4 757.7,909.4 755.6,905.8 750.7,904.7 748.4,901.7 752.0,901.0 755.7,900.3 758.5,898.3 762.9,899.5 767.3,900.7 768.1,903.0 768.9,907.8 769.7,912.7 772.6,914.5 775.4,916.3 777.6,913.1 779.9,910.0 783.0,908.1 786.1,906.3 790.9,906.3 795.6,908.4 799.7,910.6 802.6,911.1 805.5,911.7 810.3,913.8 815.0,915.9 820.1,917.6 825.1,919.3 828.9,922.4 832.0,925.4 832.8,929.0 837.4,930.8 842.0,932.6 843.3,935.8 838.3,936.5Z M866.2,921.0 867.3,922.0 867.3,925.4 865.4,929.0 862.6,929.5 861.8,931.2 858.8,932.6 856.1,934.1 853.2,934.1 848.7,932.3 845.6,930.7 846.0,928.8 850.9,929.6 853.9,929.2 854.6,926.3 855.4,926.1 856.0,929.3 859.1,928.9 860.6,926.8 863.6,924.7 863.0,921.2 866.2,921.0Z M870.0,924.8 869.0,921.2 867.7,918.9 865.2,916.9 862.0,914.3 858.1,912.5 859.6,911.1 862.6,912.8 864.4,914.1 866.7,915.6 868.9,918.1 871.0,920.0 871.7,923.1 870.0,924.8Z M729.4,914.9 730.7,916.9 728.7,918.9 724.9,917.8 723.9,915.2 726.6,915.0 729.4,914.9Z M748.2,914.7 750.3,919.3 745.7,916.8 741.1,916.3 738.0,916.7 734.3,916.5 735.5,913.1 738.9,913.0 742.2,912.9 745.2,913.8 748.2,914.7Z M708.7,924.2 708.7,928.2 705.9,929.9 703.7,927.8 706.2,922.9 703.6,924.1 700.9,925.2 699.5,923.6 700.2,921.3 696.2,917.7 696.5,911.9 692.9,913.7 693.2,917.2 693.5,920.7 693.7,925.0 693.9,929.3 690.5,930.2 688.1,928.4 689.5,922.9 688.6,917.1 686.3,917.1 684.5,912.9 686.7,909.0 687.4,904.2 688.7,899.7 690.1,895.1 691.3,892.6 693.6,890.4 695.9,888.2 700.2,890.0 703.6,890.4 707.0,890.8 710.2,890.6 713.3,890.5 716.0,888.3 718.7,886.2 719.6,887.5 717.4,890.5 715.2,893.5 711.1,894.6 705.9,893.5 701.3,893.6 696.8,893.8 692.0,894.6 691.3,899.2 693.7,901.9 696.2,904.5 699.1,901.8 704.2,900.8 709.2,899.8 708.8,902.6 706.4,901.6 704.1,905.2 699.4,907.5 702.0,911.4 704.6,915.3 703.7,917.3 706.2,920.8 708.7,924.2Z M738.1,894.5 735.3,893.9 734.4,897.6 736.7,900.7 735.2,901.5 733.0,897.7 732.2,893.8 731.4,890.0 732.5,885.2 734.3,883.0 734.7,886.2 737.9,886.8 738.4,889.2 738.1,894.5Z M702.3,852.8 704.6,847.7 708.1,846.0 711.1,843.7 712.9,846.4 717.1,844.8 718.1,842.1 722.0,841.9 721.8,837.3 726.1,840.1 726.5,843.2 726.8,845.4 727.2,849.4 727.4,852.8 725.4,858.3 724.5,855.2 723.6,852.2 720.9,855.2 722.5,859.6 720.9,862.5 717.8,860.7 714.6,859.0 713.2,854.6 714.9,851.7 711.6,848.9 709.8,851.4 707.3,851.1 703.2,854.5 702.3,852.8Z M706.6,836.0 708.0,834.3 708.8,830.6 711.8,830.2 710.7,834.2 712.8,831.3 715.0,828.5 714.2,834.2 712.1,836.2 710.3,839.9 708.6,841.8 705.4,837.6 706.6,836.0Z M703.3,824.5 706.4,826.3 709.9,826.3 709.7,828.8 707.0,831.4 703.5,833.2 703.5,830.4 704.0,827.3 703.3,824.5Z M720.1,830.0 721.3,833.7 718.6,835.1 718.6,830.8 717.0,830.5 716.3,826.8 719.4,827.3 719.5,825.1 716.4,820.4 721.6,820.6 723.0,822.9 723.5,826.2 724.1,829.5 720.0,828.0 720.1,830.0Z M711.3,817.6 709.5,814.5 708.0,816.7 704.8,813.1 699.8,813.9 697.2,812.6 697.7,810.2 699.4,808.6 697.9,807.2 697.1,809.4 694.7,805.9 694.1,803.3 694.3,797.6 696.3,799.6 697.0,794.8 697.7,790.1 699.9,784.6 703.1,784.7 706.3,786.4 708.1,784.8 708.4,786.4 707.3,788.8 708.8,793.2 707.0,798.2 703.7,800.2 702.5,805.0 703.3,809.8 706.2,810.5 708.6,809.7 711.9,811.4 715.1,813.1 714.4,816.4 716.1,817.8 715.4,820.6 711.3,817.6Z M760.9,709.3 758.7,706.9 760.8,701.5 757.7,699.7 756.3,695.6 761.5,693.8 764.5,692.0 766.8,693.9 769.1,695.7 769.2,697.8 766.9,702.3 764.6,706.7 760.9,709.3Z M774.4,699.2 771.3,697.5 771.8,694.6 775.2,691.0 778.0,691.7 780.5,689.2 784.1,690.5 784.5,692.5 781.0,696.2 779.2,694.3 776.3,695.7 774.4,699.2Z M790.8,682.2 793.1,678.6 795.4,675.1 797.8,671.5 800.7,674.4 804.9,671.4 809.1,668.4 812.4,666.0 814.6,662.4 816.7,658.7 816.9,655.4 817.0,652.0 819.8,648.2 822.6,647.7 825.3,647.1 825.9,651.3 826.6,655.4 825.7,660.3 822.9,663.3 820.1,666.3 819.7,669.4 819.3,672.5 816.6,677.3 817.1,680.3 813.8,684.5 810.4,685.9 806.9,687.3 802.4,687.5 797.8,687.7 793.6,691.2 789.4,694.6 786.3,692.3 786.8,687.8 782.2,688.4 777.6,689.1 774.4,690.5 771.1,692.0 768.1,692.0 765.1,692.0 764.8,690.0 767.7,688.4 770.5,686.9 772.7,684.8 775.0,682.8 778.5,682.2 782.0,681.6 785.5,681.0 788.1,681.6 790.8,682.2Z M844.0,631.8 847.9,629.3 847.9,632.6 847.9,635.9 844.1,636.7 840.3,637.5 837.6,640.5 834.9,643.4 831.4,641.4 827.9,639.4 825.9,642.6 824.0,645.9 821.3,646.0 818.5,646.0 818.9,640.1 822.2,635.5 824.8,635.3 827.5,635.2 829.0,631.1 830.5,627.0 832.8,622.4 835.1,625.4 837.4,628.5 840.8,630.5 844.0,631.8Z M847.1,571.0 847.3,574.9 847.5,577.6 847.6,580.4 846.3,586.0 846.6,588.9 846.9,591.9 847.8,595.3 848.6,598.7 849.5,602.2 846.2,601.2 842.9,600.3 840.6,604.5 838.3,608.7 840.0,611.7 841.8,614.7 840.9,618.9 837.9,615.3 835.9,617.6 833.8,619.9 833.9,614.9 835.6,609.2 835.9,606.0 836.3,602.9 838.4,598.5 839.3,594.6 840.2,590.7 839.5,587.8 838.8,585.0 839.9,581.1 841.1,577.2 843.6,575.8 846.0,574.5 844.9,571.8 847.1,571.0Z M876.4,467.7 878.7,468.6 881.0,469.5 881.0,470.8 878.1,470.8 875.3,470.8 872.8,470.6 870.3,470.4 867.8,470.2 867.2,470.0 869.4,469.0 871.6,468.1 874.0,467.9 876.4,467.7Z M910.6,461.9 908.2,462.8 905.8,463.7 902.9,463.5 900.0,463.3 897.0,462.4 893.9,461.5 895.4,459.9 898.6,460.3 901.9,460.6 904.8,461.0 907.7,461.5 910.6,461.9Z M869.4,456.9 872.6,457.0 875.7,457.1 878.8,457.2 881.8,457.8 884.8,458.4 887.8,459.0 890.9,459.6 888.7,461.4 886.6,463.1 883.2,463.1 879.8,463.0 876.4,463.0 873.1,463.0 869.8,463.5 866.5,464.1 864.5,463.1 862.6,462.0 860.6,461.0 864.2,457.8 866.8,457.4 869.4,456.9Z M1082.0,1350.6 1080.0,1349.8 1077.9,1349.1 1076.3,1347.6 1074.2,1346.2 1076.7,1344.5 1079.8,1344.9 1083.0,1345.2 1084.5,1345.9 1086.1,1346.6 1088.3,1348.1 1088.7,1350.0 1085.4,1350.3 1082.0,1350.6Z M1232.2,1323.5 1234.0,1321.9 1236.0,1322.3 1237.9,1322.7 1240.1,1323.1 1242.3,1323.5 1244.8,1323.1 1247.3,1322.6 1244.1,1324.3 1239.8,1325.5 1237.3,1325.3 1234.9,1325.2 1233.5,1324.3 1232.2,1323.5Z M1224.2,1324.3 1222.0,1324.1 1219.7,1323.9 1217.5,1323.2 1215.3,1322.5 1218.6,1321.5 1220.2,1322.1 1221.7,1322.6 1224.0,1323.6 1226.3,1324.5 1224.2,1324.3Z M1331.1,1315.8 1333.5,1315.5 1335.8,1315.2 1335.7,1318.0 1333.1,1317.6 1330.7,1317.7 1328.3,1317.8 1326.0,1317.7 1323.8,1317.6 1321.1,1317.7 1318.4,1317.9 1316.8,1317.4 1315.3,1317.0 1314.8,1314.9 1317.9,1314.1 1320.1,1314.4 1322.3,1314.7 1324.9,1314.9 1327.5,1315.1 1329.3,1315.4 1331.1,1315.8Z M958.5,1174.1 955.9,1173.9 953.3,1173.7 952.3,1171.5 954.6,1167.1 957.5,1164.2 960.4,1161.3 963.5,1160.2 967.0,1158.0 969.0,1156.4 971.0,1154.8 973.9,1151.7 975.9,1147.3 977.7,1145.8 978.3,1142.5 981.8,1139.7 982.9,1142.2 984.2,1144.7 987.6,1142.3 989.1,1144.8 989.2,1147.3 987.4,1150.0 984.3,1154.5 981.9,1156.8 983.8,1159.7 980.0,1159.8 975.9,1162.0 974.8,1165.9 973.5,1168.9 972.3,1171.9 968.6,1174.5 966.2,1176.2 961.8,1176.1 958.5,1174.1Z M1000.3,1140.3 997.9,1144.4 994.1,1146.8 993.2,1145.3 991.1,1144.4 992.5,1141.9 993.9,1139.5 992.2,1136.2 989.5,1135.0 986.7,1133.8 986.8,1131.6 990.4,1129.6 991.1,1124.9 990.9,1121.0 988.7,1117.0 988.8,1115.9 986.3,1113.5 984.2,1110.8 982.2,1108.2 979.9,1103.9 981.8,1103.4 984.7,1106.8 988.7,1108.4 990.3,1113.7 992.2,1116.9 994.1,1120.0 994.1,1115.9 996.5,1117.6 997.3,1122.1 1001.4,1124.0 1004.8,1124.5 1007.7,1122.2 1010.3,1123.0 1009.1,1128.2 1007.6,1131.8 1003.7,1131.6 1002.4,1133.4 1002.9,1136.0 1002.2,1137.2 1000.3,1140.3Z M944.2,1029.3 940.3,1026.6 936.8,1023.4 933.2,1019.1 932.4,1017.1 934.7,1017.2 937.7,1019.2 940.1,1021.3 941.9,1022.9 944.1,1024.8 946.3,1026.7 949.2,1029.4 947.2,1030.9 944.2,1029.3Z M1009.0,1000.4 1010.9,1002.2 1010.0,1005.3 1006.7,1006.1 1003.7,1005.4 1003.2,1002.7 1005.3,1000.7 1007.8,1001.4 1009.0,1000.4Z M1011.0,998.4 1010.3,996.2 1013.0,995.0 1014.6,994.7 1017.8,992.8 1017.8,995.7 1014.4,997.2 1011.0,998.4Z M952.4,995.2 950.7,996.0 948.8,993.3 949.0,991.7 952.4,995.2Z M945.9,988.7 945.7,984.1 948.3,985.9 949.2,990.8 947.8,990.0 946.6,990.4 945.9,988.7Z M1107.9,479.9 1110.9,480.5 1114.0,481.1 1117.5,483.1 1118.8,482.1 1122.2,482.3 1125.6,482.6 1125.4,483.6 1128.7,484.1 1131.9,484.6 1133.8,484.3 1135.7,484.1 1138.5,484.6 1141.4,485.1 1144.3,485.6 1148.1,485.8 1151.9,486.1 1155.2,486.6 1157.6,486.2 1160.0,485.8 1163.2,486.6 1166.4,487.3 1168.7,487.7 1171.0,488.1 1174.9,488.6 1178.8,489.1 1182.4,490.4 1186.1,491.6 1188.2,491.9 1190.2,492.1 1193.0,490.1 1195.1,489.3 1197.1,488.6 1200.2,488.8 1203.2,489.1 1205.7,488.1 1208.2,487.1 1211.0,486.3 1213.8,485.6 1217.5,487.6 1219.7,486.6 1219.7,484.1 1222.7,484.6 1226.9,486.8 1231.2,489.1 1233.0,487.3 1234.9,485.6 1237.3,489.6 1239.4,489.1 1241.5,488.6 1242.3,487.1 1244.8,487.3 1247.3,487.6 1251.0,488.6 1254.7,489.6 1258.1,490.3 1261.5,490.9 1264.9,491.6 1267.9,492.1 1271.0,492.6 1272.8,492.4 1274.7,492.1 1278.0,493.4 1281.3,494.7 1279.3,496.0 1277.2,497.3 1281.1,497.8 1285.0,498.3 1288.5,498.1 1292.0,497.9 1295.6,497.8 1298.5,496.7 1301.5,498.3 1304.5,499.8 1305.9,498.5 1307.3,497.3 1304.6,496.2 1302.0,495.2 1303.2,493.4 1305.6,493.3 1308.0,493.2 1310.9,492.6 1314.9,493.7 1317.9,495.2 1321.0,496.7 1323.0,496.5 1325.0,496.2 1329.3,497.4 1333.6,498.5 1336.5,498.2 1339.3,497.8 1342.3,497.8 1345.3,497.8 1342.5,494.7 1345.3,493.7 1349.2,494.7 1353.1,495.7 1356.4,500.3 1356.1,498.3 1355.8,496.2 1359.0,496.2 1358.1,493.7 1357.1,491.1 1353.8,489.6 1350.5,488.1 1347.3,487.1 1344.2,486.1 1342.2,483.3 1340.3,480.6 1341.2,478.9 1342.1,477.1 1344.7,477.4 1347.4,477.6 1350.4,478.9 1353.4,480.1 1358.3,482.8 1363.3,485.6 1362.6,486.8 1361.8,488.1 1366.0,488.6 1370.1,489.1 1372.1,491.6 1374.0,494.2 1375.1,492.1 1376.1,490.1 1379.9,491.9 1383.8,493.7 1385.5,497.3 1388.8,499.1 1392.2,500.9 1392.8,499.1 1393.5,497.3 1393.0,494.9 1392.4,492.6 1390.3,489.8 1388.1,487.1 1391.0,487.3 1394.0,487.6 1397.2,487.8 1400.3,488.1 1404.0,489.3 1407.7,490.6 1410.4,493.2 1410.0,496.2 1415.0,498.8 1416.6,501.4 1415.1,502.6 1413.5,503.8 1412.0,505.0 1409.3,505.3 1406.7,505.6 1403.8,504.8 1400.9,504.0 1401.8,506.6 1401.8,509.0 1401.8,511.3 1402.1,513.5 1401.1,515.3 1399.9,517.2 1397.2,517.5 1394.5,517.7 1392.7,519.9 1394.5,523.1 1392.6,523.6 1390.6,524.2 1389.4,526.3 1388.1,528.5 1387.9,531.5 1387.8,534.5 1388.9,538.9 1390.8,542.2 1392.6,545.5 1396.1,545.8 1399.6,546.1 1402.2,548.9 1404.8,551.7 1409.5,555.6 1412.3,555.0 1415.0,554.5 1420.0,555.6 1424.9,556.7 1427.9,557.8 1430.9,559.0 1435.8,561.8 1439.0,562.6 1442.3,563.5 1445.5,564.6 1448.7,565.7 1452.5,566.0 1456.4,566.3 1459.0,566.6 1461.7,566.9 1464.2,571.4 1466.7,574.3 1469.2,577.2 1472.8,580.3 1476.4,583.5 1481.6,586.4 1486.9,589.3 1489.6,587.5 1488.8,584.4 1487.9,581.2 1484.0,576.9 1480.1,572.6 1474.6,569.2 1477.5,568.0 1480.3,566.9 1481.5,564.9 1482.6,562.9 1482.5,559.0 1479.2,555.0 1475.8,552.5 1472.4,550.0 1468.3,548.0 1464.2,546.1 1464.6,543.0 1464.9,540.0 1461.9,537.5 1458.9,535.0 1455.1,530.9 1451.2,526.9 1453.1,525.5 1457.3,526.2 1461.4,526.9 1463.8,527.1 1466.1,527.4 1469.0,526.3 1474.2,528.0 1478.1,529.6 1482.1,531.2 1485.2,533.4 1489.1,533.4 1492.9,533.4 1497.0,538.3 1500.5,541.8 1504.0,545.2 1508.6,546.1 1514.9,549.4 1516.6,547.7 1518.3,546.1 1518.0,543.0 1517.6,540.0 1518.3,537.8 1522.2,540.3 1526.0,542.8 1531.7,546.1 1537.4,549.4 1542.8,552.9 1548.1,556.3 1549.4,560.1 1553.5,561.5 1557.6,562.9 1561.0,564.6 1564.4,566.3 1568.7,567.0 1572.9,567.7 1577.6,569.7 1583.1,574.3 1587.1,575.2 1590.8,577.3 1593.5,580.5 1596.2,583.8 1594.5,586.0 1592.9,588.1 1589.5,589.0 1586.2,589.8 1585.2,592.5 1584.2,595.1 1580.4,595.4 1576.6,595.7 1572.8,595.3 1569.1,594.9 1565.4,594.5 1561.9,594.5 1558.3,594.5 1556.2,594.8 1554.0,595.1 1553.4,597.1 1552.8,599.2 1550.5,600.3 1548.1,601.5 1547.0,605.5 1545.9,609.5 1544.7,612.2 1543.5,615.0 1546.9,613.9 1548.1,611.3 1549.2,608.7 1550.2,606.2 1552.6,604.5 1554.9,602.9 1557.3,601.3 1560.6,601.0 1564.0,600.7 1567.0,602.2 1570.0,603.6 1569.0,605.6 1568.0,607.5 1570.7,610.7 1573.3,613.9 1577.5,618.3 1581.5,619.8 1585.5,621.2 1589.3,620.8 1593.0,620.4 1593.4,617.1 1593.8,613.7 1596.8,618.0 1601.2,620.2 1599.4,622.1 1597.5,624.0 1594.6,625.2 1591.7,626.4 1588.8,627.6 1587.0,628.7 1585.2,629.9 1583.7,632.1 1582.1,634.2 1578.2,633.8 1575.2,628.7 1578.1,626.3 1580.9,623.9 1577.0,624.0 1573.2,624.1 1570.7,624.4 1568.2,624.8 1570.2,626.7 1568.3,628.2 1566.5,629.6 1564.5,630.6 1562.6,631.7 1560.4,632.5 1558.3,633.4 1557.5,636.9 1557.4,638.2 1558.9,641.4 1562.2,644.6 1564.3,644.7 1562.7,642.5 1564.9,643.9 1565.3,645.6 1562.4,646.5 1560.0,646.5 1556.8,647.5 1554.8,647.8 1552.0,648.1 1548.7,649.8 1552.1,649.2 1555.5,648.7 1557.5,649.8 1554.4,650.7 1551.4,651.6 1548.2,651.6 1548.0,650.9 1547.2,652.6 1548.9,652.8 1549.7,657.1 1548.9,659.4 1548.0,661.7 1547.0,660.2 1545.8,659.9 1543.5,658.4 1545.9,661.6 1547.6,662.7 1548.6,664.9 1548.0,667.2 1547.0,672.0 1546.5,671.8 1546.4,667.7 1542.9,665.4 1540.2,660.5 1540.4,663.0 1543.0,666.9 1539.3,665.9 1543.5,667.8 1546.0,673.5 1547.6,673.9 1548.9,676.0 1550.4,679.1 1551.9,682.1 1550.3,686.5 1547.9,687.4 1545.6,688.3 1543.4,691.8 1541.0,692.2 1539.1,694.5 1539.1,696.4 1536.8,698.4 1534.6,700.3 1532.6,703.2 1531.2,706.8 1531.6,711.1 1533.7,715.2 1536.8,720.4 1540.2,724.7 1540.9,727.3 1543.0,730.8 1545.0,734.2 1545.7,738.3 1546.0,740.6 1545.4,744.3 1544.0,745.1 1541.3,744.4 1539.9,741.7 1537.6,740.3 1535.7,737.7 1533.7,735.1 1530.2,730.5 1528.9,728.2 1529.0,724.2 1526.7,720.9 1524.0,718.4 1521.3,715.8 1519.0,714.9 1516.8,716.3 1514.5,717.6 1513.5,717.3 1510.2,714.6 1506.5,713.1 1503.7,713.4 1500.8,713.8 1496.0,713.2 1492.1,713.5 1490.2,714.5 1491.6,716.1 1492.1,718.5 1493.5,719.7 1492.7,720.5 1490.5,719.6 1488.8,720.8 1485.0,720.6 1480.3,717.4 1475.9,718.2 1471.8,716.8 1468.6,717.2 1464.5,718.6 1462.7,720.8 1460.8,723.0 1458.4,724.3 1456.1,725.6 1453.8,728.5 1453.1,731.2 1453.9,735.4 1454.6,738.3 1456.0,740.3 1454.8,745.6 1454.6,750.0 1455.0,754.0 1455.3,758.0 1455.3,761.0 1456.6,764.2 1458.6,767.2 1460.3,771.8 1464.4,776.3 1466.1,779.8 1468.6,782.7 1471.5,783.5 1474.4,784.3 1477.0,786.9 1481.5,785.2 1485.5,784.6 1489.3,783.5 1492.6,782.4 1495.7,780.0 1496.5,776.4 1496.2,771.4 1496.9,769.6 1500.3,768.1 1503.0,767.4 1505.8,766.7 1510.5,766.9 1513.7,766.4 1515.1,767.7 1515.3,770.5 1513.0,774.1 1512.3,777.8 1513.4,778.8 1512.9,781.4 1512.2,786.1 1510.7,784.6 1509.6,784.7 1509.7,785.6 1510.7,785.6 1510.9,787.2 1510.3,789.9 1510.9,790.8 1510.7,792.9 1511.1,793.5 1510.8,796.5 1510.0,798.1 1509.0,798.4 1508.2,800.4 1510.1,801.5 1510.4,800.6 1512.1,801.4 1512.7,801.6 1513.8,800.6 1515.3,800.5 1515.9,800.9 1516.6,800.6 1519.2,801.2 1521.7,801.1 1523.3,800.4 1523.9,799.7 1525.7,800.0 1527.0,800.4 1528.4,800.3 1529.4,799.8 1531.9,800.6 1532.8,800.7 1534.6,801.8 1536.3,803.2 1538.4,804.1 1540.0,805.8 1539.6,806.4 1539.5,807.7 1540.3,809.9 1539.3,812.0 1538.9,814.4 1539.0,817.0 1539.5,818.6 1539.9,821.3 1539.1,821.9 1538.8,824.5 1539.3,826.0 1538.3,827.6 1538.7,829.2 1539.6,830.2 1541.3,833.4 1543.5,835.9 1546.3,838.4 1548.4,840.6 1548.4,841.9 1550.5,842.2 1551.1,841.7 1552.6,843.1 1555.2,842.7 1557.5,841.2 1560.7,840.0 1562.4,838.2 1565.4,838.6 1565.2,839.2 1568.3,839.3 1570.8,840.4 1572.7,842.2 1574.9,843.9 1577.6,844.0 1579.5,841.9 1581.4,839.8 1583.6,839.2 1583.5,837.2 1584.1,832.1 1587.0,829.4 1590.4,829.2 1590.7,828.0 1595.0,828.5 1598.9,825.4 1600.9,824.1 1603.3,821.2 1605.2,821.5 1606.8,823.2 1605.9,825.1 1602.6,826.2 1604.6,830.4 1606.6,834.6 1606.0,830.0 1609.3,828.8 1612.5,827.5 1611.5,824.7 1613.2,822.9 1615.6,827.1 1619.4,827.2 1623.2,830.5 1623.6,832.5 1628.5,832.5 1631.3,832.2 1634.2,831.9 1637.5,834.7 1641.8,835.4 1644.6,833.5 1644.6,832.0 1647.9,831.8 1651.2,831.6 1654.5,831.6 1657.7,831.5 1653.3,833.3 1655.4,836.2 1659.8,836.6 1664.2,839.6 1665.4,844.4 1668.2,844.3 1670.5,845.7 1674.2,847.9 1677.8,851.8 1678.2,854.9 1680.2,855.1 1683.4,858.0 1685.6,860.1 1688.9,860.7 1692.2,861.3 1692.7,860.2 1697.1,859.8 1700.1,860.6 1703.0,861.4 1704.9,862.0 1709.0,863.5 1712.0,866.0 1715.0,868.5 1716.0,871.0 1717.9,870.8 1719.4,874.1 1721.1,879.3 1722.8,884.6 1725.7,885.6 1726.0,889.7 1724.0,892.2 1722.0,894.7 1723.7,896.5 1728.5,897.0 1733.3,897.5 1733.3,900.5 1733.4,903.5 1735.5,901.5 1737.6,899.5 1741.0,900.6 1744.4,901.7 1748.9,903.5 1753.3,905.4 1755.9,908.9 1754.9,912.2 1758.1,911.3 1761.3,910.4 1764.8,911.4 1768.3,912.5 1771.8,913.6 1775.8,913.4 1779.9,913.3 1783.8,915.8 1787.8,918.3 1791.1,921.7 1794.4,925.1 1798.5,926.8 1803.1,927.1 1804.9,928.9 1805.6,932.8 1806.2,936.6 1806.9,940.2 1805.3,945.2 1803.8,950.2 1800.6,954.1 1796.3,958.3 1792.0,962.5 1789.9,965.9 1787.8,969.3 1785.4,971.9 1783.0,974.5 1781.7,974.7 1779.5,979.1 1778.8,984.7 1778.0,990.4 1776.3,995.0 1774.7,999.6 1773.3,1003.6 1771.1,1006.0 1769.8,1010.0 1768.5,1014.0 1764.9,1017.9 1761.4,1021.9 1760.3,1025.0 1759.2,1028.1 1754.3,1030.7 1752.2,1034.3 1749.3,1034.3 1746.4,1034.3 1741.9,1035.5 1737.5,1036.6 1733.1,1039.3 1729.9,1040.2 1726.8,1041.1 1723.0,1043.5 1719.3,1045.9 1716.3,1048.9 1713.2,1051.8 1711.2,1056.3 1711.1,1059.7 1709.7,1062.7 1708.2,1065.7 1706.1,1068.6 1701.3,1071.9 1698.1,1075.5 1694.9,1079.0 1691.6,1082.5 1688.4,1084.9 1685.2,1087.4 1680.6,1090.2 1678.3,1093.0 1675.9,1095.9 1671.1,1099.3 1667.2,1103.1 1663.6,1104.8 1660.0,1106.4 1656.8,1105.2 1653.7,1105.9 1651.8,1104.6 1650.0,1103.3 1646.4,1103.5 1644.7,1100.2 1643.0,1103.3 1645.2,1105.9 1647.4,1108.5 1644.9,1112.6 1646.9,1115.2 1645.3,1118.2 1641.1,1122.0 1636.8,1125.8 1632.3,1127.5 1627.8,1129.1 1624.2,1129.5 1620.6,1129.9 1617.0,1130.3 1614.4,1130.0 1611.8,1129.7 1611.1,1133.3 1607.9,1137.8 1607.2,1140.8 1603.1,1142.9 1600.4,1143.3 1597.6,1143.7 1595.8,1142.6 1594.0,1141.5 1591.2,1143.1 1590.0,1146.1 1588.8,1149.0 1591.2,1150.8 1594.9,1148.9 1594.7,1152.0 1589.2,1153.9 1586.2,1155.7 1583.2,1157.6 1581.2,1160.6 1579.2,1163.5 1576.2,1166.7 1571.6,1166.7 1566.1,1169.7 1562.2,1174.2 1563.3,1176.3 1564.5,1178.5 1568.3,1179.7 1563.5,1184.9 1559.7,1186.6 1555.9,1188.3 1552.2,1191.7 1548.5,1195.1 1542.8,1197.4 1539.1,1200.1 1537.8,1203.1 1536.6,1206.1 1537.4,1209.5 1534.5,1209.3 1531.6,1209.1 1528.3,1210.6 1522.7,1212.6 1518.2,1218.0 1516.2,1218.1 1514.2,1217.2 1512.3,1216.3 1511.0,1214.3 1509.7,1212.3 1508.0,1210.6 1506.1,1209.0 1507.0,1205.3 1510.5,1201.9 1510.5,1198.1 1513.2,1193.1 1515.7,1188.1 1518.3,1185.3 1520.9,1182.5 1524.7,1180.2 1528.4,1177.9 1525.3,1177.1 1522.1,1176.2 1525.8,1173.6 1529.4,1171.0 1532.8,1166.1 1536.2,1161.2 1538.4,1162.2 1540.6,1163.2 1543.6,1159.1 1546.5,1155.0 1549.4,1150.9 1546.9,1149.4 1544.3,1153.1 1541.6,1156.8 1539.0,1155.9 1541.9,1151.7 1544.7,1147.4 1548.2,1141.9 1551.6,1136.4 1555.7,1132.3 1556.3,1129.4 1556.8,1126.4 1558.0,1123.1 1559.1,1119.7 1561.4,1119.5 1564.9,1114.6 1568.3,1109.8 1571.9,1105.0 1575.4,1100.2 1578.1,1095.7 1580.7,1091.2 1581.6,1086.7 1582.5,1082.2 1585.6,1077.2 1586.4,1073.5 1587.1,1069.8 1589.6,1066.1 1592.1,1062.4 1594.1,1056.6 1595.9,1050.8 1597.4,1046.6 1598.9,1042.5 1600.2,1038.3 1601.6,1033.8 1603.0,1029.3 1604.3,1024.8 1605.0,1019.9 1605.6,1015.0 1605.7,1010.8 1605.9,1006.5 1603.4,1004.8 1601.0,1003.0 1601.0,1000.5 1597.7,998.5 1594.5,996.5 1591.2,994.5 1588.3,992.3 1585.4,990.2 1582.4,988.0 1578.7,984.2 1577.1,979.2 1578.2,977.6 1576.3,973.6 1574.4,969.6 1573.0,965.9 1571.5,962.2 1570.1,958.5 1568.7,954.5 1567.2,950.5 1565.8,946.6 1563.7,943.8 1562.3,939.3 1560.3,937.4 1558.3,935.4 1554.5,933.0 1556.4,930.3 1555.2,927.4 1554.0,924.6 1555.9,920.4 1558.1,918.4 1560.4,916.5 1563.4,912.1 1562.2,909.4 1560.1,912.2 1556.9,909.6 1558.1,907.9 1557.3,902.4 1559.2,901.5 1560.2,897.7 1562.3,893.9 1561.9,891.4 1564.8,890.2 1568.5,887.7 1567.8,885.9 1569.8,885.4 1569.5,882.4 1570.7,880.2 1573.4,879.8 1575.6,876.0 1577.5,872.9 1575.5,871.4 1576.4,867.9 1574.9,862.5 1576.0,860.8 1574.9,855.8 1572.5,852.6 1570.6,850.8 1569.2,847.6 1570.5,846.0 1569.1,845.5 1567.9,843.6 1565.1,841.9 1562.8,842.3 1561.8,844.4 1559.7,845.9 1558.6,846.1 1558.1,847.4 1560.9,850.6 1559.4,851.4 1558.7,852.3 1556.2,852.6 1555.0,849.0 1554.4,850.0 1552.6,849.6 1551.4,847.2 1549.1,846.8 1547.6,846.1 1545.3,846.1 1545.2,847.5 1544.5,846.5 1541.5,845.2 1540.3,843.9 1540.9,842.9 1540.6,841.6 1539.0,840.1 1536.8,838.9 1534.9,838.1 1534.4,836.4 1532.9,835.3 1533.4,837.1 1532.4,838.5 1531.0,836.9 1529.3,836.3 1528.4,835.1 1528.3,833.2 1528.9,831.3 1527.3,830.4 1528.5,829.3 1526.4,827.4 1523.7,825.0 1522.3,823.0 1519.9,821.0 1516.9,818.3 1517.4,817.4 1518.4,818.3 1518.8,817.9 1517.7,816.0 1516.0,815.5 1515.5,816.9 1512.4,816.8 1510.4,816.2 1508.0,815.0 1505.0,814.7 1503.3,813.3 1500.4,812.3 1497.1,812.2 1494.5,811.0 1491.3,808.5 1487.9,805.3 1484.5,802.0 1481.5,800.1 1477.0,798.5 1474.0,799.0 1470.0,801.2 1467.3,801.8 1463.3,800.2 1459.2,799.1 1456.5,797.7 1453.8,796.3 1449.7,795.5 1446.5,794.1 1443.3,792.7 1438.4,789.8 1436.9,788.2 1433.9,787.8 1431.0,786.9 1428.2,786.0 1425.6,783.2 1422.6,781.5 1419.5,779.8 1416.4,776.0 1414.8,773.1 1416.5,772.5 1415.8,770.7 1416.8,769.2 1416.6,767.1 1414.5,764.4 1413.7,762.0 1411.5,759.0 1408.8,756.0 1406.1,753.0 1403.1,750.6 1400.1,748.3 1397.1,744.5 1392.2,742.1 1391.0,740.6 1391.2,736.9 1388.3,735.4 1384.7,732.6 1382.7,728.3 1379.8,727.9 1376.2,724.7 1373.3,721.8 1372.7,719.9 1369.1,715.3 1366.4,710.7 1366.0,708.4 1361.7,706.0 1360.0,706.3 1356.7,704.6 1356.4,707.1 1357.8,710.0 1359.2,714.5 1361.4,717.0 1363.7,719.0 1366.0,721.1 1367.1,722.5 1368.0,723.0 1369.0,725.0 1370.0,724.9 1371.7,728.8 1373.5,730.3 1375.0,732.5 1378.7,735.6 1381.3,741.2 1383.3,743.8 1385.1,746.6 1385.8,749.8 1388.4,750.0 1390.9,752.7 1393.1,755.4 1393.1,756.5 1391.2,758.7 1390.2,758.7 1388.3,755.0 1384.5,751.6 1380.3,748.7 1377.4,747.1 1377.0,742.7 1375.7,739.5 1372.9,737.6 1368.9,734.9 1368.3,735.7 1366.7,734.1 1363.3,732.7 1359.6,729.2 1360.0,728.7 1362.2,729.1 1363.8,726.8 1363.5,724.1 1361.1,721.9 1358.8,719.8 1355.4,718.1 1352.8,714.4 1350.1,710.4 1346.8,705.6 1343.7,700.2 1342.2,697.1 1338.2,693.7 1335.6,692.9 1334.7,691.2 1331.7,690.9 1329.5,689.3 1324.6,688.7 1323.1,687.7 1321.8,684.4 1318.7,681.4 1315.6,678.4 1312.6,674.2 1309.6,670.0 1309.4,668.7 1306.8,666.7 1304.2,664.2 1301.7,661.6 1299.9,656.7 1296.4,653.5 1296.3,648.6 1294.9,643.4 1292.1,638.8 1292.3,636.0 1292.5,633.3 1291.7,627.9 1290.8,622.5 1289.2,618.6 1287.7,614.6 1284.7,609.6 1282.5,606.9 1282.7,605.7 1286.5,606.7 1290.2,607.7 1292.3,610.4 1294.4,613.2 1295.2,611.7 1292.9,606.9 1289.8,602.1 1289.2,602.1 1285.6,600.2 1281.9,598.3 1278.2,596.4 1274.1,593.8 1269.4,592.6 1264.8,591.4 1262.7,588.8 1260.6,586.3 1260.1,582.7 1256.7,581.5 1253.4,580.3 1251.0,575.7 1247.6,573.6 1244.2,571.5 1243.1,568.6 1239.9,566.4 1235.3,564.6 1232.4,559.7 1228.8,557.4 1225.2,555.1 1223.1,552.5 1221.0,549.9 1216.6,549.5 1213.1,549.4 1209.6,549.4 1206.7,548.6 1203.9,547.7 1200.3,545.8 1196.7,543.9 1193.1,542.0 1188.6,540.9 1184.5,540.0 1180.5,539.0 1177.5,539.2 1174.5,539.4 1171.5,538.6 1168.4,537.8 1165.3,536.9 1162.5,535.8 1159.6,534.6 1157.4,535.2 1155.1,535.8 1156.9,539.5 1154.6,539.9 1152.2,540.5 1149.8,541.0 1146.4,542.9 1144.1,543.5 1141.8,544.1 1140.5,540.9 1140.9,538.1 1141.3,535.4 1143.4,534.6 1145.5,533.8 1144.0,532.4 1141.6,533.9 1139.2,535.4 1137.0,539.1 1134.2,541.1 1131.5,543.0 1135.2,545.7 1133.5,547.7 1131.8,549.7 1129.6,550.9 1127.5,552.0 1125.4,552.9 1123.3,553.8 1122.6,556.3 1119.3,557.7 1116.1,559.2 1115.1,561.8 1112.6,563.0 1110.1,564.2 1106.9,563.8 1102.9,565.4 1100.8,566.4 1098.6,567.3 1095.0,569.2 1091.2,570.0 1087.3,570.9 1086.5,569.9 1088.9,568.6 1091.2,567.2 1093.3,566.3 1095.5,565.5 1097.7,563.9 1099.9,562.4 1102.7,562.1 1105.4,561.7 1107.3,559.4 1110.2,557.7 1113.1,556.0 1113.9,554.9 1116.9,552.9 1117.0,548.7 1118.7,545.4 1116.3,546.2 1113.9,547.1 1112.3,546.1 1110.2,548.2 1106.9,545.4 1106.0,547.4 1104.0,544.6 1101.9,545.7 1099.9,546.8 1097.2,546.8 1096.4,543.5 1096.9,541.5 1093.8,539.5 1091.1,540.0 1088.3,540.5 1084.3,538.0 1081.2,536.6 1080.9,533.6 1077.3,531.2 1078.6,528.1 1081.7,525.1 1082.9,522.3 1086.3,521.9 1089.3,522.8 1092.3,520.2 1095.4,520.6 1098.4,518.9 1097.2,516.5 1094.7,515.6 1097.5,513.5 1095.0,513.6 1092.9,514.1 1090.7,514.7 1089.6,515.9 1086.2,514.7 1083.3,515.0 1080.4,515.3 1077.3,514.7 1074.1,514.0 1072.2,511.9 1069.7,510.6 1067.2,509.2 1070.1,507.6 1072.9,506.1 1076.3,505.4 1079.6,504.7 1082.9,504.0 1086.0,504.9 1089.1,505.7 1092.2,506.6 1089.4,504.9 1086.5,503.1 1083.7,501.4 1080.6,498.8 1078.4,497.8 1076.3,496.7 1073.4,495.8 1070.5,494.9 1072.5,492.1 1076.1,492.1 1079.6,492.1 1081.8,490.9 1084.0,489.6 1084.8,487.1 1086.6,486.1 1088.4,485.1 1090.3,484.7 1092.1,484.3 1095.6,483.2 1099.1,482.1 1102.7,482.6 1105.3,481.2 1107.9,479.9Z M1150.5,780.2 1148.8,781.2 1148.1,782.2 1146.7,781.3 1146.8,779.6 1145.9,777.5 1146.1,776.8 1147.0,775.8 1146.6,774.6 1146.9,774.0 1147.2,774.2 1149.4,775.2 1150.4,775.7 1151.2,776.5 1152.7,778.6 1152.6,779.0 1150.5,780.2Z M1142.2,770.2 1144.6,770.1 1146.1,771.1 1143.9,772.2 1142.2,770.2Z M1133.8,766.3 1137.1,767.8 1134.7,767.8 1133.8,766.3Z M1127.8,762.4 1127.9,763.9 1125.7,763.0 1127.8,762.4Z M1287.5,604.9 1285.4,605.8 1281.0,604.4 1276.7,603.1 1274.7,601.0 1269.8,599.0 1268.5,597.3 1265.9,596.8 1263.3,596.3 1260.6,593.1 1260.5,591.8 1263.2,592.4 1265.9,593.0 1269.0,593.9 1273.6,594.5 1275.9,596.5 1279.1,599.3 1281.8,600.5 1284.6,601.7 1287.5,604.9Z M1236.9,578.3 1234.1,576.5 1232.5,574.0 1232.2,572.2 1234.6,572.9 1238.8,572.5 1239.1,575.7 1239.5,579.0 1242.2,581.3 1244.9,583.6 1243.0,583.6 1239.4,581.0 1236.9,578.3Z M1138.3,555.5 1136.3,556.6 1134.3,557.7 1131.7,556.2 1130.6,553.6 1134.2,551.5 1136.4,550.7 1139.5,551.1 1141.7,552.8 1138.3,555.5Z M1075.0,539.8 1072.2,538.3 1074.3,537.8 1076.4,537.3 1080.0,537.8 1080.6,539.9 1078.0,540.8 1075.0,539.8Z M1065.1,522.1 1062.0,523.2 1058.7,522.1 1057.1,521.0 1053.4,521.4 1052.3,520.9 1052.5,518.9 1055.1,519.9 1057.7,519.4 1061.2,520.8 1065.4,521.5 1065.1,522.1Z M1337.3,485.9 1339.9,486.6 1342.5,487.3 1345.6,488.2 1347.5,489.1 1351.4,491.1 1350.3,492.8 1347.0,492.1 1343.8,491.3 1341.0,491.9 1337.4,490.7 1333.9,489.6 1336.2,488.0 1337.3,485.9Z M1279.7,491.6 1276.6,490.9 1273.5,490.2 1270.3,490.8 1266.7,488.8 1263.1,486.8 1265.4,486.2 1268.2,485.8 1271.0,485.4 1273.8,485.5 1276.6,485.6 1278.9,485.2 1281.1,484.7 1277.0,484.1 1272.9,483.6 1270.2,483.7 1267.5,483.8 1264.8,484.0 1262.0,483.9 1259.3,483.9 1256.1,482.0 1258.7,481.4 1261.3,480.7 1263.9,480.0 1260.9,480.1 1258.0,480.1 1254.2,479.5 1250.5,478.8 1251.0,477.0 1251.5,475.1 1252.9,473.2 1255.7,472.2 1258.4,471.3 1261.1,470.3 1263.3,470.8 1265.6,471.2 1265.2,473.5 1267.7,473.0 1270.2,472.5 1272.6,472.0 1276.1,473.2 1279.6,474.5 1280.9,473.2 1282.1,472.0 1286.7,473.6 1290.0,476.0 1293.3,478.4 1293.7,476.3 1290.6,473.8 1287.4,471.4 1290.2,470.6 1292.3,471.0 1294.5,471.4 1297.4,472.4 1300.2,473.4 1303.2,475.8 1306.2,478.1 1309.9,481.6 1314.0,482.8 1318.2,484.1 1322.6,485.3 1327.0,486.5 1328.2,488.7 1325.1,488.9 1322.0,489.1 1325.9,491.0 1325.8,492.9 1322.0,492.5 1318.1,492.1 1314.2,491.4 1310.4,490.7 1308.2,490.9 1306.0,491.0 1302.8,491.9 1299.6,492.7 1296.5,493.0 1293.3,493.3 1290.1,493.5 1286.7,493.7 1283.3,494.0 1279.7,491.6Z M1017.8,482.4 1015.7,482.6 1013.5,482.7 1012.9,481.1 1015.4,480.0 1017.8,479.0 1020.9,479.0 1023.9,479.0 1027.4,480.6 1024.2,481.2 1021.0,481.8 1017.8,482.4Z M1326.1,468.1 1328.3,469.5 1327.5,470.7 1326.8,471.8 1330.5,472.9 1334.2,473.9 1337.2,478.3 1334.8,479.3 1332.4,480.2 1328.4,479.8 1324.3,477.9 1320.1,476.7 1316.0,475.4 1311.8,474.2 1310.7,472.6 1313.4,472.8 1316.1,473.0 1318.9,473.2 1315.5,471.6 1312.2,470.1 1313.4,468.9 1314.6,467.8 1317.3,468.3 1320.0,468.8 1323.0,468.4 1326.1,468.1Z M1235.5,480.2 1231.9,479.2 1228.2,478.3 1224.6,477.3 1225.2,475.2 1225.5,473.5 1225.8,471.7 1226.5,470.1 1227.2,468.5 1224.5,467.1 1221.8,465.6 1224.8,465.4 1227.8,465.2 1230.8,465.0 1233.8,464.9 1236.8,465.3 1239.8,465.8 1243.0,465.9 1246.2,466.0 1249.4,466.1 1251.7,466.8 1254.0,467.5 1256.7,468.5 1259.4,469.5 1257.4,470.1 1255.5,470.7 1253.1,471.9 1250.8,473.0 1248.4,474.1 1247.1,475.8 1245.7,477.5 1247.0,479.7 1244.0,480.5 1241.1,481.3 1238.1,482.1 1235.5,480.2Z M1335.2,466.4 1337.8,466.4 1340.4,466.5 1343.1,466.5 1347.2,467.1 1351.3,467.7 1350.5,469.8 1349.7,471.9 1347.8,472.4 1346.0,472.9 1345.6,474.7 1345.1,476.6 1342.9,476.5 1340.6,476.4 1337.6,474.2 1334.6,472.1 1332.5,469.7 1332.7,467.7 1333.9,467.0 1335.2,466.4Z M1247.0,456.7 1249.4,455.4 1253.2,455.9 1256.9,456.4 1260.7,456.9 1265.1,458.3 1269.4,459.7 1272.7,459.9 1276.0,460.0 1271.6,457.8 1267.1,455.6 1269.0,454.0 1271.1,454.2 1273.1,454.5 1276.3,456.7 1279.1,458.3 1281.7,457.5 1283.6,457.6 1285.6,457.7 1288.3,460.0 1287.9,462.2 1285.0,462.4 1282.0,462.6 1279.1,462.8 1276.1,463.0 1273.6,463.6 1271.0,464.3 1268.4,465.0 1265.6,465.1 1262.9,465.1 1261.2,463.6 1263.3,462.9 1265.3,462.2 1267.3,461.5 1264.1,461.6 1260.9,461.7 1257.6,461.8 1254.4,462.0 1251.2,462.1 1248.3,461.6 1245.4,461.2 1246.2,458.9 1247.0,456.7Z M1312.2,462.7 1309.9,462.3 1307.6,462.0 1305.2,459.3 1302.4,459.4 1299.6,459.6 1296.0,456.0 1298.0,456.1 1300.0,456.1 1301.9,455.4 1303.9,454.6 1306.5,454.7 1309.2,454.9 1308.9,454.3 1313.7,456.4 1316.2,458.8 1317.9,462.3 1315.0,462.5 1312.2,462.7Z M1313.4,443.7 1314.7,442.6 1311.7,442.6 1308.6,442.6 1305.8,441.9 1303.1,441.2 1298.9,439.4 1299.1,437.6 1300.0,436.4 1301.5,436.2 1303.1,436.1 1300.5,435.2 1303.0,435.2 1305.5,435.1 1308.0,435.0 1311.4,436.1 1314.9,437.1 1318.2,437.5 1321.6,438.0 1324.8,438.3 1328.1,438.7 1331.1,440.1 1334.2,441.4 1337.1,442.1 1340.1,442.8 1338.5,443.4 1336.9,444.0 1335.7,445.6 1334.5,447.3 1331.6,447.4 1328.7,447.6 1326.1,447.4 1323.5,447.2 1320.9,447.0 1318.0,446.1 1315.1,445.3 1313.4,443.7Z M1425.0,1352.2 1420.5,1354.3 1416.6,1356.1 1414.5,1355.9 1412.5,1355.7 1410.5,1355.5 1407.9,1355.6 1405.3,1355.7 1402.7,1355.8 1401.6,1355.1 1400.6,1354.5 1400.9,1353.1 1403.3,1353.2 1405.8,1353.2 1408.3,1353.3 1410.5,1353.4 1412.7,1353.5 1414.9,1353.7 1420.1,1352.0 1424.3,1350.6 1424.7,1351.4 1425.0,1352.2Z M1478.7,1343.8 1482.1,1343.3 1485.6,1342.8 1487.4,1343.3 1489.1,1343.8 1489.6,1344.7 1490.1,1345.7 1486.8,1348.3 1483.8,1350.1 1480.0,1352.2 1476.2,1352.8 1472.4,1353.5 1468.7,1354.0 1465.0,1354.5 1461.0,1354.9 1457.0,1355.4 1454.2,1355.7 1451.4,1355.9 1448.6,1356.2 1446.1,1356.1 1443.6,1356.0 1441.1,1356.0 1440.1,1355.3 1439.1,1354.6 1442.6,1353.0 1445.7,1352.6 1448.7,1352.2 1451.8,1351.9 1457.2,1350.5 1462.5,1348.7 1466.8,1347.1 1471.5,1345.6 1476.9,1343.8 1478.7,1343.8Z M1443.9,1303.1 1448.5,1300.7 1453.0,1299.9 1453.2,1301.7 1452.2,1303.6 1451.6,1305.9 1450.6,1308.1 1449.4,1310.3 1447.4,1312.5 1444.7,1314.5 1441.6,1316.3 1439.0,1316.6 1436.4,1317.0 1433.7,1317.4 1431.1,1317.9 1428.7,1317.8 1426.2,1317.8 1430.2,1315.9 1426.8,1316.3 1423.4,1316.8 1420.0,1317.3 1418.6,1315.8 1420.5,1313.8 1423.5,1312.8 1426.6,1311.9 1429.9,1311.3 1432.0,1311.4 1434.2,1311.5 1437.9,1308.9 1440.0,1307.1 1443.9,1303.1Z M1505.3,1212.3 1508.3,1213.5 1510.2,1215.4 1512.1,1217.3 1514.5,1218.3 1516.8,1219.3 1521.0,1216.8 1525.3,1212.8 1528.2,1211.6 1531.1,1210.5 1534.0,1211.1 1533.9,1213.8 1533.1,1218.1 1534.8,1219.8 1536.5,1221.5 1539.2,1222.2 1541.8,1222.9 1537.6,1225.8 1533.1,1226.1 1532.3,1224.1 1529.1,1226.4 1523.8,1228.1 1521.7,1227.9 1519.4,1227.5 1517.4,1225.8 1515.3,1225.4 1513.2,1224.9 1511.5,1223.4 1509.8,1221.8 1508.5,1220.3 1507.2,1218.7 1506.3,1215.5 1505.3,1212.3Z M1578.1,1206.6 1572.2,1209.2 1571.8,1206.6 1575.9,1204.9 1579.9,1203.1 1582.8,1204.6 1587.3,1202.3 1589.2,1204.9 1586.3,1206.9 1582.5,1207.7 1578.7,1208.6 1578.1,1206.6Z M1663.0,830.7 1663.2,835.2 1658.7,835.9 1657.7,835.3 1659.1,833.6 1658.8,831.3 1661.9,830.5 1663.0,830.7Z M1566.6,788.5 1563.2,786.3 1563.7,785.0 1565.9,784.6 1567.1,784.7 1570.8,785.3 1573.9,786.7 1575.0,788.4 1571.3,788.5 1569.8,789.5 1566.6,788.5Z M1627.6,784.6 1630.5,785.1 1631.6,786.3 1630.5,787.8 1626.5,787.8 1623.4,788.0 1622.6,785.5 1623.2,784.6 1627.6,784.6Z M1607.2,786.2 1605.2,786.6 1604.2,785.1 1602.6,786.0 1601.1,790.1 1599.5,789.1 1599.0,787.5 1595.3,786.4 1592.8,786.8 1589.5,786.4 1587.1,787.5 1583.9,785.7 1584.1,783.7 1589.2,784.5 1593.3,785.0 1595.0,783.7 1592.2,781.1 1591.8,778.8 1588.3,777.8 1589.2,776.1 1592.5,776.4 1597.3,777.4 1597.8,776.4 1602.0,776.4 1605.5,777.9 1606.8,777.8 1608.2,779.9 1611.1,779.8 1611.2,781.6 1613.6,781.8 1616.6,784.0 1615.0,786.4 1612.3,785.2 1609.9,785.4 1608.0,785.1 1607.2,786.2Z M1940.2,859.3 1937.0,856.9 1933.8,854.5 1930.7,852.7 1927.5,850.9 1925.3,847.6 1923.0,844.3 1921.3,841.3 1919.6,838.3 1916.2,834.7 1912.7,831.0 1909.8,825.6 1905.7,823.8 1901.7,822.0 1900.6,818.7 1899.5,815.4 1898.1,812.1 1896.7,808.8 1894.2,807.3 1896.0,804.1 1897.8,800.9 1897.6,797.3 1897.3,793.7 1897.2,790.1 1897.2,786.5 1895.8,783.2 1894.5,779.9 1893.0,773.9 1890.5,771.7 1888.0,769.6 1887.5,764.8 1888.2,760.3 1888.8,755.8 1890.4,751.9 1891.8,748.0 1892.2,744.1 1892.5,740.1 1894.1,737.4 1895.8,734.7 1896.4,732.0 1896.9,729.3 1899.8,727.5 1902.8,725.7 1905.0,723.0 1907.2,720.3 1907.3,717.0 1907.3,713.7 1905.4,710.3 1903.5,707.0 1903.1,703.7 1902.7,700.4 1904.1,697.7 1905.4,695.0 1907.8,692.9 1910.2,690.8 1909.8,687.5 1909.4,684.2 1908.7,680.6 1913.0,681.3 1917.3,682.1 1921.6,682.8 1925.9,683.6 1931.2,684.2 1936.4,684.8 1937.7,682.7 1938.9,680.6 1942.6,686.4 1946.2,692.3 1949.6,698.1 1952.9,704.0 1956.0,709.9 1959.0,715.7 1961.8,721.6 1964.5,727.5 1967.0,733.3 1969.3,739.2 1971.5,745.1 1973.4,750.9 1975.3,756.8 1977.0,762.6 1978.7,768.5 1980.3,774.4 1981.9,780.2 1983.5,786.1 1985.0,792.0 1986.5,797.8 1987.8,803.7 1989.1,809.6 1990.3,815.4 1991.3,821.3 1992.3,827.2 1993.2,833.0 1994.0,838.9 1994.7,844.7 1995.4,850.6 1995.9,856.5 1996.4,862.3 1993.6,863.8 1990.7,865.4 1986.0,867.8 1982.6,866.6 1979.3,865.4 1975.2,865.0 1971.1,864.7 1967.3,865.7 1963.6,866.6 1959.6,868.1 1955.6,869.6 1951.7,867.8 1947.8,866.0 1944.0,862.6 1940.2,859.3Z M1576.2,776.4 1572.4,776.0 1568.6,776.2 1564.8,776.5 1567.9,773.2 1565.5,771.6 1562.0,771.2 1559.9,769.5 1558.1,766.0 1555.1,766.3 1549.8,764.6 1548.0,763.4 1544.5,762.9 1541.0,762.5 1538.9,761.3 1540.7,759.8 1535.4,759.5 1532.1,762.6 1529.9,762.7 1529.4,764.2 1526.8,764.8 1524.5,764.2 1527.0,762.4 1527.8,760.2 1530.0,758.9 1532.5,757.7 1536.4,757.1 1537.6,756.5 1542.3,756.9 1546.5,756.9 1551.8,759.0 1554.3,761.2 1559.2,760.5 1561.3,761.9 1563.8,763.8 1566.4,765.7 1570.2,768.4 1571.9,768.3 1575.3,769.5 1575.2,771.2 1579.2,771.5 1583.6,774.0 1583.2,775.4 1579.8,776.1 1576.2,776.4Z M1558.7,744.5 1561.5,749.5 1562.2,753.0 1560.9,753.3 1559.0,749.8 1556.6,748.1 1557.0,744.3 1558.7,744.5Z M1559.8,736.4 1556.9,733.9 1556.8,733.3 1561.6,736.0 1561.6,740.3 1560.4,739.5 1559.8,736.4Z M1553.2,734.3 1556.7,734.5 1557.2,736.1 1554.5,736.5 1551.7,737.0 1550.8,734.8 1553.2,734.3Z M1917.5,675.1 1912.9,675.1 1911.8,676.9 1910.6,678.8 1907.2,678.2 1903.6,675.7 1898.2,672.1 1896.1,672.7 1893.9,673.3 1888.8,673.3 1886.6,669.4 1884.2,665.5 1879.6,663.1 1876.6,659.0 1875.7,654.2 1874.0,651.2 1872.2,648.2 1869.4,645.2 1866.6,642.2 1860.8,637.5 1863.3,635.1 1863.8,632.7 1867.0,633.3 1870.2,633.9 1872.9,633.9 1875.6,633.9 1879.0,634.5 1882.5,635.1 1884.7,634.8 1886.9,634.5 1891.1,634.8 1895.3,635.1 1894.7,631.5 1892.1,627.4 1887.8,622.1 1884.2,618.5 1880.1,616.5 1876.1,614.4 1873.4,612.0 1867.5,610.3 1863.8,609.7 1860.2,609.1 1855.4,605.6 1857.2,604.4 1858.9,603.2 1863.9,604.4 1866.5,604.4 1869.1,604.4 1866.0,601.2 1862.8,598.0 1865.3,598.6 1867.7,600.0 1869.7,599.6 1871.6,599.2 1877.1,604.8 1882.4,610.3 1887.6,615.9 1892.7,621.5 1897.7,627.1 1902.6,632.8 1907.5,638.4 1912.2,644.0 1916.8,649.7 1921.2,655.4 1922.0,658.4 1925.6,661.2 1927.5,663.8 1926.2,665.5 1927.6,669.7 1924.8,671.5 1924.1,675.1 1920.8,675.1 1917.5,675.1Z M1576.9,613.6 1580.3,616.5 1584.2,617.2 1588.7,617.1 1587.7,619.5 1586.1,619.9 1582.3,618.6 1578.5,617.4 1576.2,615.4 1576.9,613.6Z M1621.3,609.4 1620.2,611.9 1619.0,614.5 1616.0,614.3 1617.6,611.5 1612.1,610.1 1609.6,610.3 1607.1,610.4 1602.4,610.4 1597.7,610.3 1595.8,608.5 1597.5,606.5 1594.4,604.9 1595.3,603.1 1596.1,601.3 1595.3,596.7 1594.5,592.1 1595.0,588.7 1597.6,586.8 1599.9,587.0 1600.2,588.6 1600.4,592.2 1600.7,594.8 1600.9,597.3 1602.6,595.4 1606.7,596.6 1606.4,598.6 1611.7,600.3 1613.0,598.8 1615.9,599.7 1618.9,600.6 1620.4,604.9 1623.1,603.9 1625.8,607.0 1629.7,610.6 1631.1,615.8 1629.1,616.0 1625.2,614.9 1623.1,610.1 1621.3,609.4Z M1572.6,597.9 1575.8,599.2 1579.1,600.4 1579.9,601.4 1577.7,601.5 1574.0,600.6 1570.3,599.7 1567.2,598.4 1564.1,597.0 1565.4,596.5 1569.0,597.2 1572.6,597.9Z M1800.7,569.4 1801.1,566.7 1804.6,566.5 1809.1,568.2 1813.6,570.0 1815.5,573.9 1820.9,578.0 1822.0,580.6 1823.0,583.1 1820.7,584.8 1818.4,586.5 1814.6,586.1 1810.8,585.7 1809.6,582.7 1808.3,579.7 1803.9,576.8 1799.5,573.8 1800.1,571.6 1800.7,569.4Z M1844.0,596.5 1840.4,595.3 1840.7,592.3 1841.0,589.2 1843.9,587.9 1839.7,587.5 1835.6,587.0 1831.7,584.7 1833.2,583.8 1834.7,582.9 1828.7,579.8 1825.4,576.0 1829.1,576.3 1832.9,576.6 1829.7,573.3 1822.4,569.6 1819.1,569.1 1815.7,568.6 1812.8,567.1 1811.5,564.6 1808.2,563.0 1808.9,565.7 1802.1,560.2 1796.4,557.3 1793.6,554.4 1790.9,551.5 1789.8,549.3 1788.6,547.0 1792.7,547.5 1795.1,547.2 1797.4,547.0 1798.9,550.0 1800.4,553.1 1802.2,552.7 1803.9,552.3 1806.4,552.3 1808.9,552.3 1813.4,556.9 1814.5,559.4 1815.6,561.9 1818.1,562.1 1820.6,562.3 1827.3,565.9 1833.9,569.6 1838.1,570.5 1845.4,575.1 1851.7,580.6 1857.9,586.2 1863.9,591.8 1860.2,591.8 1857.0,592.5 1853.9,593.3 1850.4,592.2 1850.1,594.9 1845.2,594.3 1844.0,596.5Z M1409.2,517.5 1406.5,513.4 1404.2,508.5 1407.5,508.9 1410.0,511.2 1411.5,510.4 1415.0,511.8 1418.0,512.7 1421.0,513.6 1424.0,514.4 1427.1,515.3 1429.5,517.8 1432.2,517.4 1436.6,519.2 1434.2,520.9 1430.5,520.2 1426.7,519.6 1422.4,517.2 1421.5,518.6 1420.5,520.0 1418.6,521.4 1416.6,522.8 1412.8,519.6 1410.2,519.9 1407.5,520.2 1408.3,518.8 1409.2,517.5Z M1674.7,505.7 1678.3,506.4 1681.9,507.2 1683.3,505.8 1684.7,504.4 1688.3,504.5 1691.9,504.7 1695.7,508.1 1700.5,509.9 1705.3,511.7 1705.4,513.8 1705.4,515.8 1703.0,517.0 1700.6,518.2 1698.2,519.4 1695.8,520.4 1692.5,520.0 1689.3,519.6 1684.7,519.1 1680.1,518.5 1675.4,517.9 1676.0,516.8 1676.5,515.6 1672.4,514.7 1668.3,513.8 1664.1,513.0 1667.2,512.5 1670.2,512.0 1667.9,510.4 1664.5,510.0 1661.1,509.6 1657.7,509.2 1656.1,505.8 1658.7,505.4 1661.2,505.0 1666.8,506.8 1672.3,508.5 1673.5,507.1 1674.7,505.7Z M1459.5,493.1 1463.7,494.2 1467.9,495.3 1472.2,496.4 1475.9,496.9 1479.7,497.5 1485.0,499.9 1490.3,502.3 1493.6,502.5 1497.0,502.6 1499.4,506.3 1499.0,508.3 1498.5,510.4 1498.1,512.4 1494.4,511.3 1490.8,510.1 1485.2,507.6 1479.6,505.1 1477.3,505.4 1474.9,505.8 1477.2,508.8 1480.8,510.3 1484.4,511.8 1488.4,513.0 1492.3,514.3 1495.4,515.7 1499.2,518.3 1503.0,521.0 1505.1,524.9 1501.7,524.1 1498.3,523.4 1493.5,521.9 1488.7,520.5 1484.0,519.1 1489.0,521.4 1494.1,523.7 1497.7,525.4 1501.4,527.0 1503.7,528.9 1499.2,528.2 1494.8,527.4 1490.3,526.7 1486.3,525.7 1482.4,524.6 1478.5,523.6 1474.8,522.3 1471.1,520.9 1471.3,519.4 1467.0,518.1 1462.7,516.7 1458.5,515.4 1454.4,514.1 1455.8,515.6 1452.0,515.9 1448.2,516.2 1444.4,516.5 1439.4,514.7 1438.9,510.8 1442.7,510.7 1446.5,510.7 1449.2,510.4 1451.8,510.2 1454.5,510.0 1451.4,508.1 1450.5,505.5 1450.9,503.0 1451.2,500.5 1447.9,498.1 1444.7,496.4 1440.5,495.1 1436.3,493.9 1433.1,493.3 1429.9,492.8 1426.7,492.2 1428.0,490.9 1424.4,489.3 1420.9,487.7 1417.1,487.4 1412.4,485.7 1411.8,487.2 1408.5,487.6 1405.2,487.9 1401.4,487.6 1397.6,487.3 1393.8,487.0 1390.0,486.7 1386.8,486.2 1383.6,485.8 1380.4,485.3 1376.9,484.9 1373.4,484.5 1368.7,482.8 1369.8,481.6 1370.8,480.5 1368.0,480.5 1365.3,480.5 1362.5,478.0 1359.7,475.5 1359.2,473.3 1358.6,471.2 1359.6,470.2 1360.6,469.2 1363.4,468.8 1366.2,468.4 1369.0,467.9 1369.3,471.0 1372.3,472.5 1375.2,474.1 1375.1,472.1 1374.9,470.2 1377.4,469.5 1379.9,468.8 1382.3,468.2 1386.2,469.8 1390.0,471.5 1393.9,473.1 1396.5,476.4 1398.6,475.9 1400.6,475.4 1402.7,474.9 1403.5,474.0 1404.3,473.0 1407.9,473.8 1411.6,474.7 1415.2,475.5 1419.1,476.6 1422.9,477.8 1425.6,480.0 1428.6,479.4 1431.6,478.8 1435.3,480.4 1438.9,482.0 1442.7,482.6 1446.5,483.3 1450.3,483.9 1455.8,486.0 1460.1,488.3 1464.4,490.7 1461.9,491.9 1459.5,493.1Z M1543.5,434.0 1546.1,433.7 1548.6,433.4 1551.1,433.2 1553.5,432.9 1556.0,432.6 1558.9,432.8 1561.8,432.9 1564.7,433.1 1567.6,433.3 1573.4,434.9 1572.0,435.5 1570.6,436.0 1569.2,436.6 1567.8,437.1 1566.4,437.7 1566.6,438.6 1564.3,438.8 1562.0,438.9 1559.7,439.1 1557.4,439.3 1560.1,439.4 1562.9,439.4 1565.7,439.5 1567.0,441.0 1568.4,442.5 1570.0,443.9 1571.7,445.3 1576.8,447.7 1582.0,450.1 1587.1,451.6 1592.2,453.0 1589.6,453.2 1587.1,453.3 1585.5,454.0 1584.0,454.7 1589.7,455.9 1595.4,457.1 1603.7,461.1 1602.1,461.3 1600.6,461.5 1606.6,463.5 1612.7,465.6 1610.2,465.7 1607.6,465.8 1605.1,465.9 1608.9,466.9 1612.7,467.9 1614.4,469.6 1612.4,469.9 1610.3,470.3 1607.7,470.3 1605.1,470.3 1610.1,471.9 1615.2,473.6 1618.7,475.8 1615.1,475.1 1611.5,474.4 1607.9,473.7 1608.0,475.0 1611.6,475.7 1615.1,476.3 1619.9,477.8 1624.7,479.3 1632.3,483.3 1629.5,483.7 1626.7,484.2 1620.8,482.3 1616.4,480.9 1611.9,479.5 1618.2,482.8 1617.8,484.1 1617.4,485.4 1621.0,485.5 1624.5,485.6 1628.1,485.7 1630.9,485.8 1633.8,485.9 1632.4,487.4 1631.0,488.8 1629.6,490.3 1627.8,491.6 1626.1,493.0 1624.3,494.3 1621.2,494.9 1618.1,495.5 1615.0,496.1 1612.8,496.1 1610.6,496.1 1609.8,497.1 1609.0,498.1 1609.7,500.8 1610.3,503.6 1608.9,504.8 1607.4,506.0 1606.0,507.2 1603.4,507.4 1601.5,508.1 1599.5,508.8 1597.2,509.4 1595.0,510.0 1595.1,511.6 1595.2,513.2 1599.4,517.0 1601.2,520.5 1600.2,522.7 1599.1,524.8 1605.3,529.0 1608.1,533.6 1609.8,536.2 1611.4,538.9 1608.5,539.1 1605.6,539.2 1600.2,537.0 1594.8,534.8 1591.9,534.7 1589.0,534.7 1586.1,534.7 1582.5,533.2 1578.9,531.7 1574.8,529.1 1570.7,526.4 1566.0,524.2 1561.2,521.9 1556.5,519.7 1550.8,516.2 1545.2,511.4 1539.8,509.0 1534.4,506.6 1531.8,502.7 1527.1,500.9 1525.8,497.9 1524.4,494.9 1526.4,493.9 1528.3,493.0 1527.4,490.9 1523.6,486.9 1522.4,487.8 1521.2,488.7 1519.9,489.4 1517.2,490.2 1513.9,489.4 1510.5,488.5 1506.3,485.1 1504.7,482.5 1508.2,482.4 1511.3,482.8 1514.5,483.3 1517.7,483.7 1512.5,482.2 1507.3,480.6 1501.7,478.9 1500.2,479.2 1498.7,479.6 1494.1,478.4 1493.4,476.1 1492.6,473.8 1488.0,472.0 1484.4,470.3 1480.7,468.7 1475.1,466.1 1469.5,463.6 1465.9,462.7 1462.2,461.8 1459.5,459.8 1455.0,458.9 1450.5,458.0 1445.9,457.1 1443.2,457.0 1440.5,456.9 1437.8,456.7 1434.7,456.8 1431.6,456.9 1428.5,457.0 1425.7,457.1 1422.9,457.2 1420.1,457.3 1417.0,456.6 1414.0,455.8 1408.9,454.4 1403.9,453.0 1406.3,452.5 1408.8,452.0 1411.2,451.6 1413.5,451.5 1415.7,451.4 1418.0,451.3 1414.6,451.0 1411.2,450.8 1407.9,450.6 1404.6,450.4 1401.2,450.1 1397.7,449.5 1394.3,448.9 1390.8,448.3 1388.9,446.6 1391.5,446.1 1394.0,445.6 1396.5,445.1 1399.0,444.6 1401.4,444.1 1403.8,443.6 1406.1,443.0 1408.5,442.5 1407.4,441.0 1403.6,440.5 1399.7,440.0 1395.9,439.5 1396.3,437.9 1398.1,437.2 1399.9,436.6 1401.7,435.9 1403.5,435.2 1405.5,435.0 1407.6,434.8 1403.3,433.1 1405.3,432.8 1407.4,432.5 1409.4,432.1 1411.6,432.0 1413.9,431.8 1416.1,431.7 1418.4,431.5 1420.8,431.5 1423.3,431.5 1425.8,431.5 1428.3,431.5 1431.2,432.1 1434.0,432.7 1435.6,432.0 1437.3,431.3 1438.8,430.6 1442.3,431.1 1445.8,431.6 1449.3,432.0 1451.9,432.2 1454.4,432.3 1457.5,432.7 1460.6,433.1 1463.7,433.5 1459.7,432.8 1455.8,432.2 1451.9,431.5 1449.3,430.0 1450.9,429.4 1452.6,428.9 1454.2,428.4 1455.8,427.9 1458.7,427.9 1461.6,428.0 1464.5,428.0 1467.4,428.0 1468.1,427.4 1468.8,426.8 1471.4,426.7 1474.0,426.6 1476.7,426.5 1479.3,426.5 1482.6,426.5 1485.9,426.6 1489.2,426.6 1492.5,426.7 1495.8,426.7 1499.1,426.8 1502.4,426.8 1505.8,426.9 1509.5,427.3 1513.3,427.7 1517.1,428.0 1520.9,428.4 1524.7,428.8 1528.5,429.2 1532.3,429.6 1531.0,430.3 1529.7,431.0 1526.7,431.0 1523.6,431.1 1520.6,431.1 1517.6,431.1 1514.8,431.2 1512.0,431.3 1509.2,431.3 1506.4,431.4 1503.6,431.5 1500.8,431.5 1503.9,432.2 1506.6,432.1 1509.3,432.0 1511.9,431.9 1514.6,431.8 1517.8,432.1 1520.9,432.4 1524.1,432.7 1527.3,433.0 1529.2,432.5 1531.1,431.9 1536.9,433.2 1537.6,434.3 1538.3,435.5 1540.1,435.0 1541.8,434.5 1543.5,434.0Z M1365.0,465.0 1362.5,465.1 1360.0,465.1 1357.5,465.1 1354.2,464.8 1351.0,464.5 1347.2,464.0 1343.4,463.5 1339.6,463.0 1335.8,460.4 1333.0,458.1 1330.1,457.1 1327.3,456.1 1324.6,455.9 1321.9,455.7 1319.3,455.6 1316.4,454.8 1313.6,454.1 1313.0,452.3 1315.6,452.4 1318.1,452.5 1320.7,452.5 1323.3,453.3 1326.0,454.0 1329.6,454.0 1333.2,454.0 1337.9,455.5 1339.0,457.3 1341.6,457.8 1344.2,458.3 1347.7,459.4 1350.3,459.5 1352.8,459.6 1355.7,459.8 1358.6,460.0 1360.9,459.5 1363.2,459.0 1365.6,458.8 1367.9,458.7 1370.2,458.6 1373.3,458.8 1376.5,458.9 1379.4,459.8 1382.4,460.7 1385.5,462.6 1384.6,463.9 1382.4,464.4 1380.2,464.9 1377.5,464.6 1374.9,464.3 1371.6,464.6 1368.3,464.8 1365.0,465.0Z M1374.8,444.1 1380.6,446.2 1380.0,447.0 1379.4,447.7 1377.5,448.3 1375.6,449.0 1376.2,450.7 1374.6,451.4 1373.0,452.0 1374.8,453.1 1377.7,453.0 1380.7,452.9 1382.1,454.0 1380.1,454.9 1378.0,455.8 1375.9,456.7 1372.3,456.3 1368.7,455.9 1365.1,455.5 1361.8,455.7 1358.6,456.0 1355.3,456.2 1352.3,455.9 1349.3,455.6 1345.8,455.5 1342.3,455.4 1339.4,453.2 1342.1,452.7 1344.8,452.2 1339.3,449.0 1341.0,448.7 1344.9,449.3 1348.8,449.9 1352.7,450.6 1348.6,449.1 1344.5,447.7 1341.1,447.3 1337.8,446.9 1338.6,445.2 1341.0,444.7 1343.4,444.2 1342.5,442.7 1339.0,441.9 1335.5,441.1 1331.4,439.0 1334.5,439.1 1337.7,439.1 1340.8,439.2 1344.1,439.6 1345.7,438.9 1347.4,438.2 1344.6,438.0 1341.9,437.8 1339.2,437.7 1336.3,437.7 1333.4,437.8 1330.6,437.9 1327.7,437.9 1323.9,437.2 1320.1,436.6 1315.3,435.0 1312.7,434.5 1310.0,433.9 1307.6,432.7 1309.6,432.3 1311.5,431.9 1313.4,431.9 1315.2,431.8 1318.0,431.5 1320.8,431.2 1322.3,430.6 1323.7,429.9 1325.9,430.0 1328.0,430.1 1330.5,430.6 1333.0,431.1 1332.6,429.2 1334.3,428.9 1336.0,428.6 1338.6,428.4 1341.2,428.2 1343.6,428.2 1346.0,428.2 1348.4,428.1 1350.8,428.1 1353.1,428.5 1355.9,428.3 1358.7,428.1 1361.4,427.9 1363.9,427.9 1366.3,428.0 1368.7,428.1 1371.2,428.2 1373.6,428.2 1376.0,428.3 1379.1,428.4 1382.1,428.5 1385.1,428.6 1387.7,428.7 1390.2,428.9 1392.8,429.0 1396.6,429.5 1400.4,430.0 1402.0,430.9 1400.3,431.5 1398.5,432.0 1396.8,432.5 1394.5,432.7 1392.3,433.0 1390.1,433.2 1388.5,434.1 1390.9,434.1 1393.2,434.1 1395.6,434.1 1394.3,434.8 1393.0,435.6 1391.6,436.4 1389.8,437.0 1387.9,437.5 1387.6,439.2 1387.2,440.8 1385.3,441.1 1383.3,441.3 1381.3,441.5 1380.3,442.4 1377.9,442.5 1375.5,442.6 1373.0,442.7 1370.6,442.8 1373.3,443.1 1376.1,443.3 1374.8,444.1Z M1224.3,456.3 1230.6,451.4 1242.3,450.0 1244.1,454.0 1238.7,457.2 1228.8,458.5Z M1252.2,446.0 1257.6,445.0 1263.0,446.8 1262.1,449.6 1255.8,450.4 1252.2,448.2Z M1272.9,443.2 1281.0,443.7 1293.6,446.8 1298.6,448.7 1290.0,449.5 1279.2,447.3 1274.7,445.0Z M1303.5,446.8 1308.0,445.7 1312.5,447.8 1309.8,450.0 1305.3,449.3Z M1324.2,461.2 1328.7,459.7 1334.1,462.2 1332.3,464.4 1326.9,464.4Z M1431.3,497.7 1434.0,495.0 1438.5,495.9 1439.8,499.0 1436.7,501.7 1432.6,500.8Z M1425.9,525.2 1429.5,522.9 1433.5,524.2 1432.2,527.8 1427.7,528.5Z M1443.0,527.9 1445.2,526.3 1447.7,528.1 1446.2,530.5 1443.9,529.9Z M1389.0,468.9 1396.2,468.0 1408.8,472.0 1405.2,474.8 1398.0,476.1 1393.5,472.5Z" fill="#d5d5d5" stroke="#000" stroke-width="1.3" stroke-linejoin="round" fill-rule="evenodd"/>
<path d="M234.9,1252.7 L1800.7,1252.7 M76.7,1076.6 L1958.9,1076.6 M37.5,896.0 L1998.1,896.0 M76.7,715.5 L1958.9,715.5 M234.9,539.4 L1800.7,539.4 M670.0,1381.5 L660.4,1377.7 L649.7,1372.8 L637.8,1366.8 L625.1,1359.9 L611.8,1352.1 L598.0,1343.6 L584.4,1334.5 L571.5,1325.1 L559.5,1315.4 L548.2,1305.5 L537.2,1295.4 L526.6,1285.0 L516.1,1274.4 L505.9,1263.6 L495.9,1252.7 L486.2,1241.6 L476.7,1230.3 L467.6,1218.9 L458.8,1207.5 L450.6,1195.9 L442.9,1184.2 L435.6,1172.4 L428.6,1160.6 L421.9,1148.7 L415.5,1136.7 L409.6,1124.8 L404.3,1112.7 L399.3,1100.7 L394.6,1088.7 L390.4,1076.6 L386.7,1064.6 L383.4,1052.6 L380.6,1040.5 L378.1,1028.5 L375.9,1016.4 L373.7,1004.4 L371.7,992.4 L370.0,980.3 L368.5,968.3 L367.3,956.2 L366.3,944.2 L365.5,932.2 L364.9,920.1 L364.5,908.1 L364.3,896.0 L364.5,884.0 L364.9,872.0 L365.5,859.9 L366.3,847.9 L367.3,835.9 L368.5,823.8 L370.0,811.8 L371.7,799.7 L373.7,787.7 L375.9,775.7 L378.1,763.6 L380.6,751.6 L383.4,739.5 L386.7,727.5 L390.4,715.5 L394.6,703.4 L399.3,691.4 L404.3,679.4 L409.6,667.3 L415.5,655.4 L421.9,643.4 L428.6,631.5 L435.6,619.7 L442.9,607.9 L450.6,596.2 L458.8,584.6 L467.6,573.2 L476.7,561.8 L486.2,550.5 L495.9,539.4 L505.9,528.5 L516.1,517.7 L526.6,507.1 L537.2,496.7 L548.2,486.6 L559.5,476.7 L571.5,467.0 L584.4,457.6 L598.0,448.5 L611.8,440.0 L625.1,432.2 L637.8,425.3 L649.7,419.3 L660.4,414.4 L670.0,410.6 M843.9,1381.5 L839.1,1377.7 L833.7,1372.8 L827.8,1366.8 L821.5,1359.9 L814.8,1352.1 L807.9,1343.6 L801.1,1334.5 L794.7,1325.1 L788.7,1315.4 L783.0,1305.5 L777.5,1295.4 L772.2,1285.0 L767.0,1274.4 L761.8,1263.6 L756.8,1252.7 L752.0,1241.6 L747.3,1230.3 L742.7,1218.9 L738.3,1207.5 L734.2,1195.9 L730.4,1184.2 L726.7,1172.4 L723.2,1160.6 L719.8,1148.7 L716.7,1136.7 L713.7,1124.8 L711.0,1112.7 L708.5,1100.7 L706.2,1088.7 L704.1,1076.6 L702.2,1064.6 L700.6,1052.6 L699.2,1040.5 L698.0,1028.5 L696.8,1016.4 L695.8,1004.4 L694.8,992.4 L693.9,980.3 L693.1,968.3 L692.5,956.2 L692.0,944.2 L691.6,932.2 L691.4,920.1 L691.2,908.1 L691.0,896.0 L691.2,884.0 L691.4,872.0 L691.6,859.9 L692.0,847.9 L692.5,835.9 L693.1,823.8 L693.9,811.8 L694.8,799.7 L695.8,787.7 L696.8,775.7 L698.0,763.6 L699.2,751.6 L700.6,739.5 L702.2,727.5 L704.1,715.5 L706.2,703.4 L708.5,691.4 L711.0,679.4 L713.7,667.3 L716.7,655.4 L719.8,643.4 L723.2,631.5 L726.7,619.7 L730.4,607.9 L734.2,596.2 L738.3,584.6 L742.7,573.2 L747.3,561.8 L752.0,550.5 L756.8,539.4 L761.8,528.5 L767.0,517.7 L772.2,507.1 L777.5,496.7 L783.0,486.6 L788.7,476.7 L794.7,467.0 L801.1,457.6 L807.9,448.5 L814.8,440.0 L821.5,432.2 L827.8,425.3 L833.7,419.3 L839.1,414.4 L843.9,410.6 M1017.8,1381.5 L1017.8,1377.7 L1017.8,1372.8 L1017.8,1366.8 L1017.8,1359.9 L1017.8,1352.1 L1017.8,1343.6 L1017.8,1334.5 L1017.8,1325.1 L1017.8,1315.4 L1017.8,1305.5 L1017.8,1295.4 L1017.8,1285.0 L1017.8,1274.4 L1017.8,1263.6 L1017.8,1252.7 L1017.8,1241.6 L1017.8,1230.3 L1017.8,1218.9 L1017.8,1207.5 L1017.8,1195.9 L1017.8,1184.2 L1017.8,1172.4 L1017.8,1160.6 L1017.8,1148.7 L1017.8,1136.7 L1017.8,1124.8 L1017.8,1112.7 L1017.8,1100.7 L1017.8,1088.7 L1017.8,1076.6 L1017.8,1064.6 L1017.8,1052.6 L1017.8,1040.5 L1017.8,1028.5 L1017.8,1016.4 L1017.8,1004.4 L1017.8,992.4 L1017.8,980.3 L1017.8,968.3 L1017.8,956.2 L1017.8,944.2 L1017.8,932.2 L1017.8,920.1 L1017.8,908.1 L1017.8,896.0 L1017.8,884.0 L1017.8,872.0 L1017.8,859.9 L1017.8,847.9 L1017.8,835.9 L1017.8,823.8 L1017.8,811.8 L1017.8,799.7 L1017.8,787.7 L1017.8,775.7 L1017.8,763.6 L1017.8,751.6 L1017.8,739.5 L1017.8,727.5 L1017.8,715.5 L1017.8,703.4 L1017.8,691.4 L1017.8,679.4 L1017.8,667.3 L1017.8,655.4 L1017.8,643.4 L1017.8,631.5 L1017.8,619.7 L1017.8,607.9 L1017.8,596.2 L1017.8,584.6 L1017.8,573.2 L1017.8,561.8 L1017.8,550.5 L1017.8,539.4 L1017.8,528.5 L1017.8,517.7 L1017.8,507.1 L1017.8,496.7 L1017.8,486.6 L1017.8,476.7 L1017.8,467.0 L1017.8,457.6 L1017.8,448.5 L1017.8,440.0 L1017.8,432.2 L1017.8,425.3 L1017.8,419.3 L1017.8,414.4 L1017.8,410.6 M1191.7,1381.5 L1196.5,1377.7 L1201.9,1372.8 L1207.8,1366.8 L1214.1,1359.9 L1220.8,1352.1 L1227.7,1343.6 L1234.5,1334.5 L1240.9,1325.1 L1246.9,1315.4 L1252.6,1305.5 L1258.1,1295.4 L1263.4,1285.0 L1268.6,1274.4 L1273.8,1263.6 L1278.8,1252.7 L1283.6,1241.6 L1288.3,1230.3 L1292.9,1218.9 L1297.3,1207.5 L1301.4,1195.9 L1305.2,1184.2 L1308.9,1172.4 L1312.4,1160.6 L1315.8,1148.7 L1318.9,1136.7 L1321.9,1124.8 L1324.6,1112.7 L1327.1,1100.7 L1329.4,1088.7 L1331.5,1076.6 L1333.4,1064.6 L1335.0,1052.6 L1336.4,1040.5 L1337.6,1028.5 L1338.8,1016.4 L1339.8,1004.4 L1340.8,992.4 L1341.7,980.3 L1342.5,968.3 L1343.1,956.2 L1343.6,944.2 L1344.0,932.2 L1344.2,920.1 L1344.4,908.1 L1344.6,896.0 L1344.4,884.0 L1344.2,872.0 L1344.0,859.9 L1343.6,847.9 L1343.1,835.9 L1342.5,823.8 L1341.7,811.8 L1340.8,799.7 L1339.8,787.7 L1338.8,775.7 L1337.6,763.6 L1336.4,751.6 L1335.0,739.5 L1333.4,727.5 L1331.5,715.5 L1329.4,703.4 L1327.1,691.4 L1324.6,679.4 L1321.9,667.3 L1318.9,655.4 L1315.8,643.4 L1312.4,631.5 L1308.9,619.7 L1305.2,607.9 L1301.4,596.2 L1297.3,584.6 L1292.9,573.2 L1288.3,561.8 L1283.6,550.5 L1278.8,539.4 L1273.8,528.5 L1268.6,517.7 L1263.4,507.1 L1258.1,496.7 L1252.6,486.6 L1246.9,476.7 L1240.9,467.0 L1234.5,457.6 L1227.7,448.5 L1220.8,440.0 L1214.1,432.2 L1207.8,425.3 L1201.9,419.3 L1196.5,414.4 L1191.7,410.6 M1365.6,1381.5 L1375.2,1377.7 L1385.9,1372.8 L1397.8,1366.8 L1410.5,1359.9 L1423.8,1352.1 L1437.6,1343.6 L1451.2,1334.5 L1464.1,1325.1 L1476.1,1315.4 L1487.4,1305.5 L1498.4,1295.4 L1509.0,1285.0 L1519.5,1274.4 L1529.7,1263.6 L1539.7,1252.7 L1549.4,1241.6 L1558.9,1230.3 L1568.0,1218.9 L1576.8,1207.5 L1585.0,1195.9 L1592.7,1184.2 L1600.0,1172.4 L1607.0,1160.6 L1613.7,1148.7 L1620.1,1136.7 L1626.0,1124.8 L1631.3,1112.7 L1636.3,1100.7 L1641.0,1088.7 L1645.2,1076.6 L1648.9,1064.6 L1652.2,1052.6 L1655.0,1040.5 L1657.5,1028.5 L1659.7,1016.4 L1661.9,1004.4 L1663.9,992.4 L1665.6,980.3 L1667.1,968.3 L1668.3,956.2 L1669.3,944.2 L1670.1,932.2 L1670.7,920.1 L1671.1,908.1 L1671.3,896.0 L1671.1,884.0 L1670.7,872.0 L1670.1,859.9 L1669.3,847.9 L1668.3,835.9 L1667.1,823.8 L1665.6,811.8 L1663.9,799.7 L1661.9,787.7 L1659.7,775.7 L1657.5,763.6 L1655.0,751.6 L1652.2,739.5 L1648.9,727.5 L1645.2,715.5 L1641.0,703.4 L1636.3,691.4 L1631.3,679.4 L1626.0,667.3 L1620.1,655.4 L1613.7,643.4 L1607.0,631.5 L1600.0,619.7 L1592.7,607.9 L1585.0,596.2 L1576.8,584.6 L1568.0,573.2 L1558.9,561.8 L1549.4,550.5 L1539.7,539.4 L1529.7,528.5 L1519.5,517.7 L1509.0,507.1 L1498.4,496.7 L1487.4,486.6 L1476.1,476.7 L1464.1,467.0 L1451.2,457.6 L1437.6,448.5 L1423.8,440.0 L1410.5,432.2 L1397.8,425.3 L1385.9,419.3 L1375.2,414.4 L1365.6,410.6" fill="none" stroke="#fff" stroke-width="1.8" opacity="0.92"/>
</g>
<path d="M1539.5,1381.5 L1546.4,1379.8 L1553.8,1377.7 L1561.7,1375.4 L1570.0,1372.8 L1578.7,1369.9 L1587.8,1366.8 L1597.2,1363.4 L1606.8,1359.9 L1616.7,1356.1 L1626.9,1352.1 L1637.1,1347.9 L1647.5,1343.6 L1657.8,1339.1 L1667.9,1334.5 L1677.7,1329.8 L1687.2,1325.1 L1696.4,1320.3 L1705.2,1315.4 L1713.8,1310.5 L1722.2,1305.5 L1730.5,1300.5 L1738.7,1295.4 L1746.7,1290.2 L1754.7,1285.0 L1762.5,1279.7 L1770.3,1274.4 L1778.0,1269.0 L1785.7,1263.6 L1793.2,1258.2 L1800.7,1252.7 L1808.0,1247.1 L1815.3,1241.6 L1822.4,1236.0 L1829.4,1230.3 L1836.4,1224.7 L1843.1,1218.9 L1849.8,1213.2 L1856.2,1207.5 L1862.5,1201.7 L1868.6,1195.9 L1874.5,1190.0 L1880.1,1184.2 L1885.7,1178.3 L1891.1,1172.4 L1896.3,1166.5 L1901.6,1160.6 L1906.7,1154.6 L1911.7,1148.7 L1916.6,1142.7 L1921.2,1136.7 L1925.7,1130.8 L1930.0,1124.8 L1934.1,1118.8 L1938.1,1112.7 L1941.9,1106.7 L1945.6,1100.7 L1949.2,1094.7 L1952.6,1088.7 L1955.8,1082.7 L1958.9,1076.6 L1961.8,1070.6 L1964.5,1064.6 L1967.1,1058.6 L1969.4,1052.6 L1971.6,1046.5 L1973.7,1040.5 L1975.5,1034.5 L1977.3,1028.5 L1979.0,1022.5 L1980.7,1016.4 L1982.3,1010.4 L1983.9,1004.4 L1985.4,998.4 L1986.9,992.4 L1988.3,986.3 L1989.6,980.3 L1990.7,974.3 L1991.8,968.3 L1992.7,962.3 L1993.6,956.2 L1994.4,950.2 L1995.1,944.2 L1995.7,938.2 L1996.3,932.2 L1996.7,926.1 L1997.1,920.1 L1997.5,914.1 L1997.7,908.1 L1998.0,902.1 L1998.1,896.0 L1998.0,890.0 L1997.7,884.0 L1997.5,878.0 L1997.1,872.0 L1996.7,866.0 L1996.3,859.9 L1995.7,853.9 L1995.1,847.9 L1994.4,841.9 L1993.6,835.9 L1992.7,829.8 L1991.8,823.8 L1990.7,817.8 L1989.6,811.8 L1988.3,805.8 L1986.9,799.7 L1985.4,793.7 L1983.9,787.7 L1982.3,781.7 L1980.7,775.7 L1979.0,769.6 L1977.3,763.6 L1975.5,757.6 L1973.7,751.6 L1971.6,745.6 L1969.4,739.5 L1967.1,733.5 L1964.5,727.5 L1961.8,721.5 L1958.9,715.5 L1955.8,709.4 L1952.6,703.4 L1949.2,697.4 L1945.6,691.4 L1941.9,685.4 L1938.1,679.4 L1934.1,673.3 L1930.0,667.3 L1925.7,661.3 L1921.2,655.4 L1916.6,649.4 L1911.7,643.4 L1906.7,637.5 L1901.6,631.5 L1896.3,625.6 L1891.1,619.7 L1885.7,613.8 L1880.1,607.9 L1874.5,602.1 L1868.6,596.2 L1862.5,590.4 L1856.2,584.6 L1849.8,578.9 L1843.1,573.2 L1836.4,567.4 L1829.4,561.8 L1822.4,556.1 L1815.3,550.5 L1808.0,545.0 L1800.7,539.4 L1793.2,533.9 L1785.7,528.5 L1778.0,523.1 L1770.3,517.7 L1762.5,512.4 L1754.7,507.1 L1746.7,501.9 L1738.7,496.7 L1730.5,491.6 L1722.2,486.6 L1713.8,481.6 L1705.2,476.7 L1696.4,471.8 L1687.2,467.0 L1677.7,462.3 L1667.9,457.6 L1657.8,453.0 L1647.5,448.5 L1637.1,444.2 L1626.9,440.0 L1616.7,436.0 L1606.8,432.2 L1597.2,428.7 L1587.8,425.3 L1578.7,422.2 L1570.0,419.3 L1561.7,416.7 L1553.8,414.4 L1546.4,412.3 L1539.5,410.6 L496.1,410.6 L489.2,412.3 L481.8,414.4 L473.9,416.7 L465.6,419.3 L456.9,422.2 L447.8,425.3 L438.4,428.7 L428.8,432.2 L418.9,436.0 L408.7,440.0 L398.5,444.2 L388.1,448.5 L377.8,453.0 L367.7,457.6 L357.9,462.3 L348.4,467.0 L339.2,471.8 L330.4,476.7 L321.8,481.6 L313.4,486.6 L305.1,491.6 L296.9,496.7 L288.9,501.9 L280.9,507.1 L273.1,512.4 L265.3,517.7 L257.6,523.1 L249.9,528.5 L242.4,533.9 L234.9,539.4 L227.6,545.0 L220.3,550.5 L213.2,556.1 L206.2,561.8 L199.2,567.4 L192.5,573.2 L185.8,578.9 L179.4,584.6 L173.1,590.4 L167.0,596.2 L161.1,602.1 L155.5,607.9 L149.9,613.8 L144.5,619.7 L139.3,625.6 L134.0,631.5 L128.9,637.5 L123.9,643.4 L119.0,649.4 L114.4,655.4 L109.9,661.3 L105.6,667.3 L101.5,673.3 L97.5,679.4 L93.7,685.4 L90.0,691.4 L86.4,697.4 L83.0,703.4 L79.8,709.4 L76.7,715.5 L73.8,721.5 L71.1,727.5 L68.5,733.5 L66.2,739.5 L64.0,745.6 L61.9,751.6 L60.1,757.6 L58.3,763.6 L56.6,769.6 L54.9,775.7 L53.3,781.7 L51.7,787.7 L50.2,793.7 L48.7,799.7 L47.3,805.8 L46.0,811.8 L44.9,817.8 L43.8,823.8 L42.9,829.8 L42.0,835.9 L41.2,841.9 L40.5,847.9 L39.9,853.9 L39.3,859.9 L38.9,866.0 L38.5,872.0 L38.1,878.0 L37.9,884.0 L37.6,890.0 L37.5,896.0 L37.6,902.1 L37.9,908.1 L38.1,914.1 L38.5,920.1 L38.9,926.1 L39.3,932.2 L39.9,938.2 L40.5,944.2 L41.2,950.2 L42.0,956.2 L42.9,962.3 L43.8,968.3 L44.9,974.3 L46.0,980.3 L47.3,986.3 L48.7,992.4 L50.2,998.4 L51.7,1004.4 L53.3,1010.4 L54.9,1016.4 L56.6,1022.5 L58.3,1028.5 L60.1,1034.5 L61.9,1040.5 L64.0,1046.5 L66.2,1052.6 L68.5,1058.6 L71.1,1064.6 L73.8,1070.6 L76.7,1076.6 L79.8,1082.7 L83.0,1088.7 L86.4,1094.7 L90.0,1100.7 L93.7,1106.7 L97.5,1112.7 L101.5,1118.8 L105.6,1124.8 L109.9,1130.8 L114.4,1136.7 L119.0,1142.7 L123.9,1148.7 L128.9,1154.6 L134.0,1160.6 L139.3,1166.5 L144.5,1172.4 L149.9,1178.3 L155.5,1184.2 L161.1,1190.0 L167.0,1195.9 L173.1,1201.7 L179.4,1207.5 L185.8,1213.2 L192.5,1218.9 L199.2,1224.7 L206.2,1230.3 L213.2,1236.0 L220.3,1241.6 L227.6,1247.1 L234.9,1252.7 L242.4,1258.2 L249.9,1263.6 L257.6,1269.0 L265.3,1274.4 L273.1,1279.7 L280.9,1285.0 L288.9,1290.2 L296.9,1295.4 L305.1,1300.5 L313.4,1305.5 L321.8,1310.5 L330.4,1315.4 L339.2,1320.3 L348.4,1325.1 L357.9,1329.8 L367.7,1334.5 L377.8,1339.1 L388.1,1343.6 L398.5,1347.9 L408.7,1352.1 L418.9,1356.1 L428.8,1359.9 L438.4,1363.4 L447.8,1366.8 L456.9,1369.9 L465.6,1372.8 L473.9,1375.4 L481.8,1377.7 L489.2,1379.8 L496.1,1381.5Z" fill="none" stroke="#000" stroke-width="2.8" stroke-linejoin="round"/>
<text x="142.97" y="546.4" class="gl" stroke="#000" stroke-width="0.35" textLength="73.58" lengthAdjust="spacingAndGlyphs">60°N</text>
<text x="-2.01" y="722.8" class="gl" stroke="#000" stroke-width="0.35" textLength="72.33" lengthAdjust="spacingAndGlyphs">30°N</text>
<text x="4.58" y="903.0" class="gl" stroke="#000" stroke-width="0.35" textLength="30.71" lengthAdjust="spacingAndGlyphs">0°</text>
<text x="2.02" y="1083.8" class="gl" stroke="#000" stroke-width="0.35" textLength="66.97" lengthAdjust="spacingAndGlyphs">30°S</text>
<text x="147.50" y="1260.0" class="gl" stroke="#000" stroke-width="0.35" textLength="69.49" lengthAdjust="spacingAndGlyphs">60°S</text>
<text x="466.26" y="1411.8" class="gl" stroke="#000" stroke-width="0.35" textLength="32.11" lengthAdjust="spacingAndGlyphs">0°</text>
<text x="636.01" y="1411.8" class="gl" stroke="#000" stroke-width="0.35" textLength="67.97" lengthAdjust="spacingAndGlyphs">60°E</text>
<text x="801.03" y="1411.8" class="gl" stroke="#000" stroke-width="0.35" textLength="86.55" lengthAdjust="spacingAndGlyphs">120°E</text>
<text x="983.57" y="1411.8" class="gl" stroke="#000" stroke-width="0.35" textLength="68.96" lengthAdjust="spacingAndGlyphs">180°</text>
<text x="1143.78" y="1411.8" class="gl" stroke="#000" stroke-width="0.35" textLength="94.47" lengthAdjust="spacingAndGlyphs">120°W</text>
<text x="1326.51" y="1411.8" class="gl" stroke="#000" stroke-width="0.35" textLength="76.74" lengthAdjust="spacingAndGlyphs">60°W</text>
<text x="1526.96" y="1411.8" class="gl" stroke="#000" stroke-width="0.35" textLength="32.11" lengthAdjust="spacingAndGlyphs">0°</text>
<path d="M342.9,213.1 L351.0,211.2 L359.2,209.3 L367.3,207.3 L375.4,205.4 L383.5,203.5 L391.7,201.5 L399.8,199.6 L407.9,197.6 L416.0,195.6 L424.2,193.6 L432.3,191.6 L440.4,189.5 L448.6,187.4 L456.7,185.3 L464.8,183.2 L472.9,181.0 L481.1,178.8 L489.2,176.5 L497.3,174.3 L505.4,171.9 L513.6,169.5 L521.7,167.1 L529.8,164.6 L538.0,162.1 L546.1,159.6 L554.2,157.0 L562.3,154.4 L570.5,151.7 L578.6,149.1 L586.7,146.4 L594.9,143.7 L603.0,140.9 L611.1,138.2 L619.2,135.4 L627.4,132.7 L635.5,129.9 L643.6,127.1 L651.7,124.3 L659.9,121.5 L668.0,118.7 L668.0,143.8 L659.9,145.7 L651.7,147.6 L643.6,149.5 L635.5,151.4 L627.4,153.4 L619.2,155.3 L611.1,157.3 L603.0,159.2 L594.9,161.2 L586.7,163.2 L578.6,165.3 L570.5,167.3 L562.3,169.4 L554.2,171.5 L546.1,173.6 L538.0,175.8 L529.8,178.0 L521.7,180.3 L513.6,182.6 L505.4,184.9 L497.3,187.3 L489.2,189.7 L481.1,192.2 L472.9,194.7 L464.8,197.3 L456.7,199.8 L448.6,202.4 L440.4,205.1 L432.3,207.8 L424.2,210.5 L416.0,213.2 L407.9,215.9 L399.8,218.6 L391.7,221.4 L383.5,224.2 L375.4,227.0 L367.3,229.8 L359.2,232.6 L351.0,235.4 L342.9,238.2Z" fill="rgba(240,40,40,0.17)"/>
<path d="M342.9,225.6 L666.9,131.2" fill="none" stroke="#e60000" stroke-width="2.6" stroke-dasharray="9.3,5.4"/>
<path d="M342.9,204.7 L359.2,209.5 L375.5,203.9 L391.8,205.0 L408.1,205.8 L424.2,201.6 L440.5,199.1 L456.5,201.6 L472.8,201.6 L488.9,197.4 L504.9,191.4 L521.2,185.2 L537.2,180.1 L553.5,179.3 L569.6,174.7 L585.9,163.4 L602.2,148.5 L618.2,137.4 L634.3,117.4 L650.6,118.2 L666.9,115.4" fill="none" stroke="#e60000" stroke-width="2.6" stroke-linejoin="round"/>
<circle cx="342.9" cy="204.7" r="4.55" fill="#000"/>
<circle cx="359.2" cy="209.5" r="4.55" fill="#000"/>
<circle cx="375.5" cy="203.9" r="4.55" fill="#000"/>
<circle cx="391.8" cy="205.0" r="4.55" fill="#000"/>
<circle cx="408.1" cy="205.8" r="4.55" fill="#000"/>
<circle cx="424.2" cy="201.6" r="4.55" fill="#000"/>
<circle cx="440.5" cy="199.1" r="4.55" fill="#000"/>
<circle cx="456.5" cy="201.6" r="4.55" fill="#000"/>
<circle cx="472.8" cy="201.6" r="4.55" fill="#000"/>
<circle cx="488.9" cy="197.4" r="4.55" fill="#000"/>
<circle cx="504.9" cy="191.4" r="4.55" fill="#000"/>
<circle cx="521.2" cy="185.2" r="4.55" fill="#000"/>
<circle cx="537.2" cy="180.1" r="4.55" fill="#000"/>
<circle cx="553.5" cy="179.3" r="4.55" fill="#000"/>
<circle cx="569.6" cy="174.7" r="4.55" fill="#000"/>
<circle cx="585.9" cy="163.4" r="4.55" fill="#000"/>
<circle cx="602.2" cy="148.5" r="4.55" fill="#000"/>
<circle cx="618.2" cy="137.4" r="4.55" fill="#000"/>
<circle cx="634.3" cy="117.4" r="4.55" fill="#000"/>
<circle cx="650.6" cy="118.2" r="4.55" fill="#000"/>
<circle cx="666.9" cy="115.4" r="4.55" fill="#000"/>
<rect x="342.90" y="52.90" width="325.10" height="264.60" fill="none" stroke="#000" stroke-width="2.8"/>
<path d="M334.3,52.9H342.9" stroke="#000" stroke-width="2.8"/>
<text x="326.4" y="62.5" text-anchor="end" class="tk">2.4</text>
<path d="M334.3,105.8H342.9" stroke="#000" stroke-width="2.8"/>
<text x="326.4" y="115.4" text-anchor="end" class="tk">2.2</text>
<path d="M334.3,158.7H342.9" stroke="#000" stroke-width="2.8"/>
<text x="326.4" y="168.3" text-anchor="end" class="tk">2.0</text>
<path d="M334.3,211.7H342.9" stroke="#000" stroke-width="2.8"/>
<text x="326.4" y="221.3" text-anchor="end" class="tk">1.8</text>
<path d="M334.3,264.6H342.9" stroke="#000" stroke-width="2.8"/>
<text x="326.4" y="274.2" text-anchor="end" class="tk">1.6</text>
<path d="M334.3,317.5H342.9" stroke="#000" stroke-width="2.8"/>
<text x="326.4" y="327.1" text-anchor="end" class="tk">1.4</text>
<path d="M342.9,317.5V326.1" stroke="#000" stroke-width="2.8"/>
<text x="340.7" y="356.1" text-anchor="middle" class="tk">-60</text>
<path d="M375.4,317.5V321.8" stroke="#000" stroke-width="1.7"/>
<path d="M407.9,317.5V326.1" stroke="#000" stroke-width="2.8"/>
<text x="402.8" y="356.1" text-anchor="middle" class="tk">-48</text>
<path d="M440.4,317.5V321.8" stroke="#000" stroke-width="1.7"/>
<path d="M472.9,317.5V326.1" stroke="#000" stroke-width="2.8"/>
<text x="469.2" y="356.1" text-anchor="middle" class="tk">-36</text>
<path d="M505.4,317.5V321.8" stroke="#000" stroke-width="1.7"/>
<path d="M538.0,317.5V326.1" stroke="#000" stroke-width="2.8"/>
<text x="533.0" y="356.1" text-anchor="middle" class="tk">-24</text>
<path d="M570.5,317.5V321.8" stroke="#000" stroke-width="1.7"/>
<path d="M603.0,317.5V326.1" stroke="#000" stroke-width="2.8"/>
<text x="600.0" y="356.1" text-anchor="middle" class="tk">-12</text>
<path d="M635.5,317.5V321.8" stroke="#000" stroke-width="1.7"/>
<path d="M668.0,317.5V326.1" stroke="#000" stroke-width="2.8"/>
<text x="667.8" y="356.1" text-anchor="middle" class="tk">0</text>
<text x="484.0" y="42.0" text-anchor="middle" class="tk">Global</text>
<text x="670.7" y="17.6" text-anchor="end" class="tk" style="font-size:23.7px">P &lt; 0.001</text>
<text x="669.2" y="42.0" text-anchor="end" class="tk" style="font-size:23.8px">R² = 0.84</text>
<text x="342.8" y="41.8" class="pl">a</text>
<text x="363.5" y="302.5" class="tk" style="fill:#e8000a">0.14±0.01 (mm h<tspan font-size="14" dy="-7.5" dx="0.4">-1</tspan><tspan dy="7.5" dx="1.8"> per day)</tspan></text>
<text x="505.4" y="389.5" text-anchor="middle" class="tk">Time (h)</text>
<text transform="translate(277.9,185.2) rotate(-90)" text-anchor="middle" class="tk">Rain rate (mm h<tspan font-size="14" dy="-7.5" dx="0.4">-1</tspan><tspan dy="7.5" dx="0.8">)</tspan></text>
<path d="M865.4,207.2 L873.5,205.4 L881.7,203.6 L889.8,201.8 L897.9,200.0 L906.1,198.2 L914.2,196.4 L922.3,194.6 L930.5,192.7 L938.6,190.9 L946.8,189.0 L954.9,187.1 L963.0,185.1 L971.2,183.1 L979.3,181.1 L987.4,179.1 L995.6,177.0 L1003.7,174.9 L1011.8,172.7 L1020.0,170.5 L1028.1,168.2 L1036.2,165.9 L1044.4,163.5 L1052.5,161.1 L1060.6,158.6 L1068.8,156.1 L1076.9,153.6 L1085.0,151.0 L1093.2,148.4 L1101.3,145.7 L1109.5,143.0 L1117.6,140.3 L1125.7,137.6 L1133.9,134.9 L1142.0,132.1 L1150.1,129.3 L1158.3,126.5 L1166.4,123.8 L1174.5,120.9 L1182.7,118.1 L1190.8,115.3 L1190.8,144.3 L1182.7,146.0 L1174.5,147.8 L1166.4,149.6 L1158.3,151.4 L1150.1,153.2 L1142.0,155.0 L1133.9,156.9 L1125.7,158.7 L1117.6,160.6 L1109.5,162.5 L1101.3,164.4 L1093.2,166.3 L1085.0,168.3 L1076.9,170.3 L1068.8,172.4 L1060.6,174.4 L1052.5,176.6 L1044.4,178.7 L1036.2,181.0 L1028.1,183.2 L1020.0,185.6 L1011.8,187.9 L1003.7,190.3 L995.6,192.8 L987.4,195.3 L979.3,197.9 L971.2,200.5 L963.0,203.1 L954.9,205.7 L946.8,208.4 L938.6,211.1 L930.5,213.9 L922.3,216.6 L914.2,219.4 L906.1,222.1 L897.9,224.9 L889.8,227.7 L881.7,230.5 L873.5,233.3 L865.4,236.2Z" fill="rgba(240,40,40,0.17)"/>
<path d="M865.4,221.7 L1190.8,129.8" fill="none" stroke="#e60000" stroke-width="2.6" stroke-dasharray="9.3,5.4"/>
<path d="M865.4,203.0 L881.8,206.1 L898.0,198.8 L914.4,196.8 L930.5,198.2 L947.0,195.9 L963.1,196.2 L979.5,199.1 L995.7,201.6 L1012.1,199.3 L1028.2,194.0 L1044.7,185.8 L1060.8,180.4 L1077.2,179.8 L1093.4,175.6 L1109.8,161.2 L1125.9,147.9 L1142.1,135.4 L1158.5,115.4 L1174.7,113.4 L1191.1,106.3" fill="none" stroke="#e60000" stroke-width="2.6" stroke-linejoin="round"/>
<circle cx="865.4" cy="203.0" r="4.55" fill="#000"/>
<circle cx="881.8" cy="206.1" r="4.55" fill="#000"/>
<circle cx="898.0" cy="198.8" r="4.55" fill="#000"/>
<circle cx="914.4" cy="196.8" r="4.55" fill="#000"/>
<circle cx="930.5" cy="198.2" r="4.55" fill="#000"/>
<circle cx="947.0" cy="195.9" r="4.55" fill="#000"/>
<circle cx="963.1" cy="196.2" r="4.55" fill="#000"/>
<circle cx="979.5" cy="199.1" r="4.55" fill="#000"/>
<circle cx="995.7" cy="201.6" r="4.55" fill="#000"/>
<circle cx="1012.1" cy="199.3" r="4.55" fill="#000"/>
<circle cx="1028.2" cy="194.0" r="4.55" fill="#000"/>
<circle cx="1044.7" cy="185.8" r="4.55" fill="#000"/>
<circle cx="1060.8" cy="180.4" r="4.55" fill="#000"/>
<circle cx="1077.2" cy="179.8" r="4.55" fill="#000"/>
<circle cx="1093.4" cy="175.6" r="4.55" fill="#000"/>
<circle cx="1109.8" cy="161.2" r="4.55" fill="#000"/>
<circle cx="1125.9" cy="147.9" r="4.55" fill="#000"/>
<circle cx="1142.1" cy="135.4" r="4.55" fill="#000"/>
<circle cx="1158.5" cy="115.4" r="4.55" fill="#000"/>
<circle cx="1174.7" cy="113.4" r="4.55" fill="#000"/>
<circle cx="1191.1" cy="106.3" r="4.55" fill="#000"/>
<rect x="865.40" y="52.90" width="325.40" height="264.60" fill="none" stroke="#000" stroke-width="2.8"/>
<path d="M856.8,52.9H865.4" stroke="#000" stroke-width="2.8"/>
<text x="848.9" y="62.5" text-anchor="end" class="tk">2.4</text>
<path d="M856.8,105.8H865.4" stroke="#000" stroke-width="2.8"/>
<text x="848.9" y="115.4" text-anchor="end" class="tk">2.2</text>
<path d="M856.8,158.7H865.4" stroke="#000" stroke-width="2.8"/>
<text x="848.9" y="168.3" text-anchor="end" class="tk">2.0</text>
<path d="M856.8,211.7H865.4" stroke="#000" stroke-width="2.8"/>
<text x="848.9" y="221.3" text-anchor="end" class="tk">1.8</text>
<path d="M856.8,264.6H865.4" stroke="#000" stroke-width="2.8"/>
<text x="848.9" y="274.2" text-anchor="end" class="tk">1.6</text>
<path d="M856.8,317.5H865.4" stroke="#000" stroke-width="2.8"/>
<text x="848.9" y="327.1" text-anchor="end" class="tk">1.4</text>
<path d="M865.4,317.5V326.1" stroke="#000" stroke-width="2.8"/>
<text x="863.2" y="356.1" text-anchor="middle" class="tk">-60</text>
<path d="M897.9,317.5V321.8" stroke="#000" stroke-width="1.7"/>
<path d="M930.5,317.5V326.1" stroke="#000" stroke-width="2.8"/>
<text x="925.4" y="356.1" text-anchor="middle" class="tk">-48</text>
<path d="M963.0,317.5V321.8" stroke="#000" stroke-width="1.7"/>
<path d="M995.6,317.5V326.1" stroke="#000" stroke-width="2.8"/>
<text x="991.9" y="356.1" text-anchor="middle" class="tk">-36</text>
<path d="M1028.1,317.5V321.8" stroke="#000" stroke-width="1.7"/>
<path d="M1060.6,317.5V326.1" stroke="#000" stroke-width="2.8"/>
<text x="1055.7" y="356.1" text-anchor="middle" class="tk">-24</text>
<path d="M1093.2,317.5V321.8" stroke="#000" stroke-width="1.7"/>
<path d="M1125.7,317.5V326.1" stroke="#000" stroke-width="2.8"/>
<text x="1122.7" y="356.1" text-anchor="middle" class="tk">-12</text>
<path d="M1158.3,317.5V321.8" stroke="#000" stroke-width="1.7"/>
<path d="M1190.8,317.5V326.1" stroke="#000" stroke-width="2.8"/>
<text x="1190.6" y="356.1" text-anchor="middle" class="tk">0</text>
<text x="1018.5" y="42.0" text-anchor="middle" class="tk">NH</text>
<text x="1193.5" y="17.6" text-anchor="end" class="tk" style="font-size:23.7px">P &lt; 0.001</text>
<text x="1192.0" y="42.0" text-anchor="end" class="tk" style="font-size:23.8px">R² = 0.78</text>
<text x="866.3" y="41.5" class="pl">b</text>
<text x="884.4" y="302.5" class="tk" style="fill:#e8000a">0.14±0.02 (mm h<tspan font-size="14" dy="-7.5" dx="0.4">-1</tspan><tspan dy="7.5" dx="1.8"> per day)</tspan></text>
<text x="1028.1" y="389.5" text-anchor="middle" class="tk">Time (h)</text>
<text transform="translate(800.4,185.2) rotate(-90)" text-anchor="middle" class="tk">Rain rate (mm h<tspan font-size="14" dy="-7.5" dx="0.4">-1</tspan><tspan dy="7.5" dx="0.8">)</tspan></text>
<path d="M1388.4,200.9 L1396.5,198.7 L1404.7,196.5 L1412.8,194.3 L1421.0,192.1 L1429.1,189.9 L1437.2,187.7 L1445.4,185.5 L1453.5,183.2 L1461.7,181.0 L1469.8,178.7 L1477.9,176.5 L1486.1,174.2 L1494.2,171.8 L1502.4,169.5 L1510.5,167.1 L1518.6,164.7 L1526.8,162.3 L1534.9,159.9 L1543.1,157.4 L1551.2,154.8 L1559.3,152.3 L1567.5,149.7 L1575.6,147.1 L1583.8,144.4 L1591.9,141.7 L1600.0,139.0 L1608.2,136.2 L1616.3,133.5 L1624.5,130.7 L1632.6,127.9 L1640.7,125.0 L1648.9,122.2 L1657.0,119.3 L1665.2,116.5 L1673.3,113.6 L1681.4,110.7 L1689.6,107.8 L1697.7,104.9 L1705.9,102.0 L1714.0,99.1 L1714.0,119.2 L1705.9,121.4 L1697.7,123.6 L1689.6,125.8 L1681.4,128.0 L1673.3,130.2 L1665.2,132.4 L1657.0,134.6 L1648.9,136.8 L1640.7,139.1 L1632.6,141.3 L1624.5,143.6 L1616.3,145.9 L1608.2,148.2 L1600.0,150.6 L1591.9,152.9 L1583.8,155.3 L1575.6,157.8 L1567.5,160.2 L1559.3,162.7 L1551.2,165.2 L1543.1,167.8 L1534.9,170.4 L1526.8,173.0 L1518.6,175.7 L1510.5,178.4 L1502.4,181.1 L1494.2,183.9 L1486.1,186.6 L1477.9,189.4 L1469.8,192.2 L1461.7,195.1 L1453.5,197.9 L1445.4,200.7 L1437.2,203.6 L1429.1,206.5 L1421.0,209.4 L1412.8,212.3 L1404.7,215.2 L1396.5,218.1 L1388.4,221.0Z" fill="rgba(240,40,40,0.17)"/>
<path d="M1388.4,210.9 L1714.0,109.2" fill="none" stroke="#e60000" stroke-width="2.6" stroke-dasharray="9.3,5.4"/>
<path d="M1388.4,185.5 L1404.6,194.2 L1421.0,199.1 L1437.1,209.5 L1453.6,205.6 L1469.7,192.8 L1486.2,180.1 L1502.6,183.8 L1518.8,175.6 L1535.2,164.8 L1551.3,155.5 L1567.8,156.9 L1583.9,153.8 L1600.4,151.6 L1616.5,145.9 L1633.0,145.1 L1649.1,124.7 L1665.5,117.1 L1681.7,99.3 L1698.1,107.7 L1714.6,115.1" fill="none" stroke="#e60000" stroke-width="2.6" stroke-linejoin="round"/>
<circle cx="1388.4" cy="185.5" r="4.55" fill="#000"/>
<circle cx="1404.6" cy="194.2" r="4.55" fill="#000"/>
<circle cx="1421.0" cy="199.1" r="4.55" fill="#000"/>
<circle cx="1437.1" cy="209.5" r="4.55" fill="#000"/>
<circle cx="1453.6" cy="205.6" r="4.55" fill="#000"/>
<circle cx="1469.7" cy="192.8" r="4.55" fill="#000"/>
<circle cx="1486.2" cy="180.1" r="4.55" fill="#000"/>
<circle cx="1502.6" cy="183.8" r="4.55" fill="#000"/>
<circle cx="1518.8" cy="175.6" r="4.55" fill="#000"/>
<circle cx="1535.2" cy="164.8" r="4.55" fill="#000"/>
<circle cx="1551.3" cy="155.5" r="4.55" fill="#000"/>
<circle cx="1567.8" cy="156.9" r="4.55" fill="#000"/>
<circle cx="1583.9" cy="153.8" r="4.55" fill="#000"/>
<circle cx="1600.4" cy="151.6" r="4.55" fill="#000"/>
<circle cx="1616.5" cy="145.9" r="4.55" fill="#000"/>
<circle cx="1633.0" cy="145.1" r="4.55" fill="#000"/>
<circle cx="1649.1" cy="124.7" r="4.55" fill="#000"/>
<circle cx="1665.5" cy="117.1" r="4.55" fill="#000"/>
<circle cx="1681.7" cy="99.3" r="4.55" fill="#000"/>
<circle cx="1698.1" cy="107.7" r="4.55" fill="#000"/>
<circle cx="1714.6" cy="115.1" r="4.55" fill="#000"/>
<rect x="1388.40" y="52.90" width="325.60" height="264.60" fill="none" stroke="#000" stroke-width="2.8"/>
<path d="M1379.8,52.9H1388.4" stroke="#000" stroke-width="2.8"/>
<text x="1371.9" y="62.5" text-anchor="end" class="tk">2.4</text>
<path d="M1379.8,105.8H1388.4" stroke="#000" stroke-width="2.8"/>
<text x="1371.9" y="115.4" text-anchor="end" class="tk">2.2</text>
<path d="M1379.8,158.7H1388.4" stroke="#000" stroke-width="2.8"/>
<text x="1371.9" y="168.3" text-anchor="end" class="tk">2.0</text>
<path d="M1379.8,211.7H1388.4" stroke="#000" stroke-width="2.8"/>
<text x="1371.9" y="221.3" text-anchor="end" class="tk">1.8</text>
<path d="M1379.8,264.6H1388.4" stroke="#000" stroke-width="2.8"/>
<text x="1371.9" y="274.2" text-anchor="end" class="tk">1.6</text>
<path d="M1379.8,317.5H1388.4" stroke="#000" stroke-width="2.8"/>
<text x="1371.9" y="327.1" text-anchor="end" class="tk">1.4</text>
<path d="M1388.4,317.5V326.1" stroke="#000" stroke-width="2.8"/>
<text x="1386.2" y="356.1" text-anchor="middle" class="tk">-60</text>
<path d="M1421.0,317.5V321.8" stroke="#000" stroke-width="1.7"/>
<path d="M1453.5,317.5V326.1" stroke="#000" stroke-width="2.8"/>
<text x="1448.4" y="356.1" text-anchor="middle" class="tk">-48</text>
<path d="M1486.1,317.5V321.8" stroke="#000" stroke-width="1.7"/>
<path d="M1518.6,317.5V326.1" stroke="#000" stroke-width="2.8"/>
<text x="1514.9" y="356.1" text-anchor="middle" class="tk">-36</text>
<path d="M1551.2,317.5V321.8" stroke="#000" stroke-width="1.7"/>
<path d="M1583.8,317.5V326.1" stroke="#000" stroke-width="2.8"/>
<text x="1578.8" y="356.1" text-anchor="middle" class="tk">-24</text>
<path d="M1616.3,317.5V321.8" stroke="#000" stroke-width="1.7"/>
<path d="M1648.9,317.5V326.1" stroke="#000" stroke-width="2.8"/>
<text x="1645.9" y="356.1" text-anchor="middle" class="tk">-12</text>
<path d="M1681.4,317.5V321.8" stroke="#000" stroke-width="1.7"/>
<path d="M1714.0,317.5V326.1" stroke="#000" stroke-width="2.8"/>
<text x="1713.8" y="356.1" text-anchor="middle" class="tk">0</text>
<text x="1549.7" y="42.0" text-anchor="middle" class="tk">SH</text>
<text x="1716.7" y="17.6" text-anchor="end" class="tk" style="font-size:23.7px">P &lt; 0.001</text>
<text x="1715.2" y="42.0" text-anchor="end" class="tk" style="font-size:23.8px">R² = 0.90</text>
<text x="1388.8" y="41.5" class="pl">c</text>
<text x="1411.6" y="302.5" class="tk" style="fill:#e8000a">0.15±0.01 (mm h<tspan font-size="14" dy="-7.5" dx="0.4">-1</tspan><tspan dy="7.5" dx="1.8"> per day)</tspan></text>
<text x="1551.2" y="389.5" text-anchor="middle" class="tk">Time (h)</text>
<text transform="translate(1323.4,185.2) rotate(-90)" text-anchor="middle" class="tk">Rain rate (mm h<tspan font-size="14" dy="-7.5" dx="0.4">-1</tspan><tspan dy="7.5" dx="0.8">)</tspan></text>
<path d="M285.4,757.3 L293.0,755.5 L300.6,753.8 L308.2,752.0 L315.8,750.2 L323.4,748.5 L330.9,746.7 L338.5,744.9 L346.1,743.1 L353.7,741.3 L361.3,739.4 L368.8,737.6 L376.4,735.7 L384.0,733.9 L391.6,732.0 L399.2,730.1 L406.8,728.1 L414.3,726.2 L421.9,724.2 L429.5,722.2 L437.1,720.1 L444.7,718.0 L452.2,715.9 L459.8,713.8 L467.4,711.6 L475.0,709.5 L482.6,707.2 L490.1,705.0 L497.7,702.8 L505.3,700.5 L512.9,698.2 L520.5,695.9 L528.1,693.6 L535.6,691.3 L543.2,689.0 L550.8,686.6 L558.4,684.3 L566.0,681.9 L573.5,679.6 L581.1,677.2 L588.7,674.8 L588.7,691.6 L581.1,693.4 L573.5,695.2 L566.0,696.9 L558.4,698.7 L550.8,700.5 L543.2,702.3 L535.6,704.1 L528.1,705.9 L520.5,707.7 L512.9,709.5 L505.3,711.3 L497.7,713.2 L490.1,715.1 L482.6,717.0 L475.0,718.9 L467.4,720.8 L459.8,722.8 L452.2,724.8 L444.7,726.8 L437.1,728.8 L429.5,730.9 L421.9,733.0 L414.3,735.1 L406.8,737.3 L399.2,739.5 L391.6,741.7 L384.0,743.9 L376.4,746.2 L368.8,748.4 L361.3,750.7 L353.7,753.0 L346.1,755.3 L338.5,757.7 L330.9,760.0 L323.4,762.3 L315.8,764.7 L308.2,767.0 L300.6,769.4 L293.0,771.7 L285.4,774.1Z" fill="rgba(70,70,130,0.10)"/>
<path d="M285.4,765.7 L588.7,683.2" fill="none" stroke="#00007f" stroke-width="2.6" stroke-dasharray="9.3,5.4"/>
<path d="M285.4,754.9 L300.8,752.8 L315.8,762.5 L330.8,750.1 L346.2,751.1 L361.2,750.6 L376.2,742.5 L391.5,756.8 L406.6,751.1 L421.9,725.8 L436.9,715.6 L452.0,707.5 L467.3,700.5 L482.3,707.5 L497.6,709.1 L512.7,710.2 L527.7,712.3 L543.0,689.4 L558.1,669.2 L573.4,682.2 L588.7,698.1" fill="none" stroke="#00007f" stroke-width="2.6" stroke-linejoin="round"/>
<circle cx="285.4" cy="754.9" r="4.55" fill="#000"/>
<circle cx="300.8" cy="752.8" r="4.55" fill="#000"/>
<circle cx="315.8" cy="762.5" r="4.55" fill="#000"/>
<circle cx="330.8" cy="750.1" r="4.55" fill="#000"/>
<circle cx="346.2" cy="751.1" r="4.55" fill="#000"/>
<circle cx="361.2" cy="750.6" r="4.55" fill="#000"/>
<circle cx="376.2" cy="742.5" r="4.55" fill="#000"/>
<circle cx="391.5" cy="756.8" r="4.55" fill="#000"/>
<circle cx="406.6" cy="751.1" r="4.55" fill="#000"/>
<circle cx="421.9" cy="725.8" r="4.55" fill="#000"/>
<circle cx="436.9" cy="715.6" r="4.55" fill="#000"/>
<circle cx="452.0" cy="707.5" r="4.55" fill="#000"/>
<circle cx="467.3" cy="700.5" r="4.55" fill="#000"/>
<circle cx="482.3" cy="707.5" r="4.55" fill="#000"/>
<circle cx="497.6" cy="709.1" r="4.55" fill="#000"/>
<circle cx="512.7" cy="710.2" r="4.55" fill="#000"/>
<circle cx="527.7" cy="712.3" r="4.55" fill="#000"/>
<circle cx="543.0" cy="689.4" r="4.55" fill="#000"/>
<circle cx="558.1" cy="669.2" r="4.55" fill="#000"/>
<circle cx="573.4" cy="682.2" r="4.55" fill="#000"/>
<circle cx="588.7" cy="698.1" r="4.55" fill="#000"/>
<rect x="285.45" y="606.45" width="303.25" height="246.55" fill="none" stroke="#000" stroke-width="2.8"/>
<path d="M276.8,606.5H285.4" stroke="#000" stroke-width="2.8"/>
<text x="264.8" y="616.7" text-anchor="end" class="tk">2.4</text>
<path d="M276.8,655.8H285.4" stroke="#000" stroke-width="2.8"/>
<text x="264.8" y="666.0" text-anchor="end" class="tk">2.2</text>
<path d="M276.8,705.1H285.4" stroke="#000" stroke-width="2.8"/>
<text x="264.8" y="715.3" text-anchor="end" class="tk">2.0</text>
<path d="M276.8,754.4H285.4" stroke="#000" stroke-width="2.8"/>
<text x="264.8" y="764.6" text-anchor="end" class="tk">1.8</text>
<path d="M276.8,803.7H285.4" stroke="#000" stroke-width="2.8"/>
<text x="264.8" y="813.9" text-anchor="end" class="tk">1.6</text>
<path d="M276.8,853.0H285.4" stroke="#000" stroke-width="2.8"/>
<text x="264.8" y="863.2" text-anchor="end" class="tk">1.4</text>
<path d="M285.4,853.0V861.6" stroke="#000" stroke-width="2.8"/>
<text x="280.6" y="891.7" text-anchor="middle" class="tk">-60</text>
<path d="M315.8,853.0V857.3" stroke="#000" stroke-width="1.7"/>
<path d="M346.1,853.0V861.6" stroke="#000" stroke-width="2.8"/>
<text x="342.2" y="891.7" text-anchor="middle" class="tk">-48</text>
<path d="M376.4,853.0V857.3" stroke="#000" stroke-width="1.7"/>
<path d="M406.8,853.0V861.6" stroke="#000" stroke-width="2.8"/>
<text x="402.9" y="891.7" text-anchor="middle" class="tk">-36</text>
<path d="M437.1,853.0V857.3" stroke="#000" stroke-width="1.7"/>
<path d="M467.4,853.0V861.6" stroke="#000" stroke-width="2.8"/>
<text x="463.5" y="891.7" text-anchor="middle" class="tk">-24</text>
<path d="M497.7,853.0V857.3" stroke="#000" stroke-width="1.7"/>
<path d="M528.1,853.0V861.6" stroke="#000" stroke-width="2.8"/>
<text x="527.0" y="891.7" text-anchor="middle" class="tk">-12</text>
<path d="M558.4,853.0V857.3" stroke="#000" stroke-width="1.7"/>
<path d="M588.7,853.0V861.6" stroke="#000" stroke-width="2.8"/>
<text x="587.9" y="891.7" text-anchor="middle" class="tk">0</text>
<text x="427.7" y="597.6" text-anchor="middle" class="tk">NI</text>
<text x="589.4" y="572.5" text-anchor="end" class="tk" style="font-size:23.7px">P &lt; 0.001</text>
<text x="588.4" y="597.6" text-anchor="end" class="tk" style="font-size:23.8px">R² = 0.85</text>
<text x="277.8" y="596.8" class="pl">d</text>
<text x="292.1" y="837.4" class="tk" style="fill:#0000cd">0.14±0.01 (mm h<tspan font-size="14" dy="-7.5" dx="0.4">-1</tspan><tspan dy="7.5" dx="1.8"> per day)</tspan></text>
<path d="M677.5,788.3 L685.1,786.0 L692.7,783.7 L700.3,781.3 L707.9,779.0 L715.4,776.7 L723.0,774.3 L730.6,772.0 L738.2,769.6 L745.8,767.2 L753.4,764.8 L761.0,762.3 L768.5,759.9 L776.1,757.4 L783.7,754.9 L791.3,752.3 L798.9,749.7 L806.5,747.1 L814.1,744.4 L821.7,741.7 L829.2,738.9 L836.8,736.1 L844.4,733.2 L852.0,730.3 L859.6,727.3 L867.2,724.3 L874.8,721.3 L882.4,718.2 L890.0,715.1 L897.5,712.0 L905.1,708.9 L912.7,705.7 L920.3,702.5 L927.9,699.3 L935.5,696.1 L943.1,692.8 L950.7,689.6 L958.2,686.3 L965.8,683.0 L973.4,679.7 L981.0,676.5 L981.0,703.5 L973.4,705.8 L965.8,708.1 L958.2,710.4 L950.7,712.8 L943.1,715.1 L935.5,717.5 L927.9,719.8 L920.3,722.2 L912.7,724.6 L905.1,727.0 L897.5,729.5 L890.0,731.9 L882.4,734.4 L874.8,736.9 L867.2,739.5 L859.6,742.1 L852.0,744.7 L844.4,747.4 L836.8,750.1 L829.2,752.9 L821.7,755.7 L814.1,758.6 L806.5,761.5 L798.9,764.4 L791.3,767.4 L783.7,770.5 L776.1,773.5 L768.5,776.6 L761.0,779.8 L753.4,782.9 L745.8,786.1 L738.2,789.3 L730.6,792.5 L723.0,795.7 L715.4,799.0 L707.9,802.2 L700.3,805.5 L692.7,808.8 L685.1,812.0 L677.5,815.3Z" fill="rgba(70,70,130,0.10)"/>
<path d="M677.5,801.8 L981.0,690.0" fill="none" stroke="#00007f" stroke-width="2.6" stroke-dasharray="9.3,5.4"/>
<path d="M677.5,786.4 L692.6,788.3 L707.7,774.3 L723.0,772.2 L738.1,773.8 L753.4,768.9 L768.5,767.3 L783.6,768.7 L798.7,770.0 L814.0,770.3 L829.1,763.0 L844.5,753.8 L859.5,753.6 L874.6,750.1 L890.0,745.2 L905.1,731.2 L920.4,710.5 L935.5,698.9 L950.8,676.8 L965.9,670.0 L981.0,663.8" fill="none" stroke="#00007f" stroke-width="2.6" stroke-linejoin="round"/>
<circle cx="677.5" cy="786.4" r="4.55" fill="#000"/>
<circle cx="692.6" cy="788.3" r="4.55" fill="#000"/>
<circle cx="707.7" cy="774.3" r="4.55" fill="#000"/>
<circle cx="723.0" cy="772.2" r="4.55" fill="#000"/>
<circle cx="738.1" cy="773.8" r="4.55" fill="#000"/>
<circle cx="753.4" cy="768.9" r="4.55" fill="#000"/>
<circle cx="768.5" cy="767.3" r="4.55" fill="#000"/>
<circle cx="783.6" cy="768.7" r="4.55" fill="#000"/>
<circle cx="798.7" cy="770.0" r="4.55" fill="#000"/>
<circle cx="814.0" cy="770.3" r="4.55" fill="#000"/>
<circle cx="829.1" cy="763.0" r="4.55" fill="#000"/>
<circle cx="844.5" cy="753.8" r="4.55" fill="#000"/>
<circle cx="859.5" cy="753.6" r="4.55" fill="#000"/>
<circle cx="874.6" cy="750.1" r="4.55" fill="#000"/>
<circle cx="890.0" cy="745.2" r="4.55" fill="#000"/>
<circle cx="905.1" cy="731.2" r="4.55" fill="#000"/>
<circle cx="920.4" cy="710.5" r="4.55" fill="#000"/>
<circle cx="935.5" cy="698.9" r="4.55" fill="#000"/>
<circle cx="950.8" cy="676.8" r="4.55" fill="#000"/>
<circle cx="965.9" cy="670.0" r="4.55" fill="#000"/>
<circle cx="981.0" cy="663.8" r="4.55" fill="#000"/>
<rect x="677.50" y="606.45" width="303.50" height="246.55" fill="none" stroke="#000" stroke-width="2.8"/>
<path d="M668.9,606.5H677.5" stroke="#000" stroke-width="2.8"/>
<text x="657.6" y="616.7" text-anchor="end" class="tk">2.7</text>
<path d="M668.9,655.8H677.5" stroke="#000" stroke-width="2.8"/>
<text x="657.6" y="666.0" text-anchor="end" class="tk">2.5</text>
<path d="M668.9,705.1H677.5" stroke="#000" stroke-width="2.8"/>
<text x="657.6" y="715.3" text-anchor="end" class="tk">2.3</text>
<path d="M668.9,754.4H677.5" stroke="#000" stroke-width="2.8"/>
<text x="657.6" y="764.6" text-anchor="end" class="tk">2.1</text>
<path d="M668.9,803.7H677.5" stroke="#000" stroke-width="2.8"/>
<text x="657.6" y="813.9" text-anchor="end" class="tk">1.9</text>
<path d="M668.9,853.0H677.5" stroke="#000" stroke-width="2.8"/>
<text x="657.6" y="863.2" text-anchor="end" class="tk">1.7</text>
<path d="M677.5,853.0V861.6" stroke="#000" stroke-width="2.8"/>
<text x="672.9" y="891.7" text-anchor="middle" class="tk">-60</text>
<path d="M707.9,853.0V857.3" stroke="#000" stroke-width="1.7"/>
<path d="M738.2,853.0V861.6" stroke="#000" stroke-width="2.8"/>
<text x="734.6" y="891.7" text-anchor="middle" class="tk">-48</text>
<path d="M768.5,853.0V857.3" stroke="#000" stroke-width="1.7"/>
<path d="M798.9,853.0V861.6" stroke="#000" stroke-width="2.8"/>
<text x="795.3" y="891.7" text-anchor="middle" class="tk">-36</text>
<path d="M829.2,853.0V857.3" stroke="#000" stroke-width="1.7"/>
<path d="M859.6,853.0V861.6" stroke="#000" stroke-width="2.8"/>
<text x="856.0" y="891.7" text-anchor="middle" class="tk">-24</text>
<path d="M890.0,853.0V857.3" stroke="#000" stroke-width="1.7"/>
<path d="M920.3,853.0V861.6" stroke="#000" stroke-width="2.8"/>
<text x="919.5" y="891.7" text-anchor="middle" class="tk">-12</text>
<path d="M950.6,853.0V857.3" stroke="#000" stroke-width="1.7"/>
<path d="M981.0,853.0V861.6" stroke="#000" stroke-width="2.8"/>
<text x="980.5" y="891.7" text-anchor="middle" class="tk">0</text>
<text x="827.7" y="597.6" text-anchor="middle" class="tk">WP</text>
<text x="981.7" y="572.5" text-anchor="end" class="tk" style="font-size:23.7px">P &lt; 0.001</text>
<text x="980.7" y="597.6" text-anchor="end" class="tk" style="font-size:23.8px">R² = 0.82</text>
<text x="669.6" y="596.8" class="pl">e</text>
<text x="684.1" y="837.4" class="tk" style="fill:#0000cd">0.18±0.02 (mm h<tspan font-size="14" dy="-7.5" dx="0.4">-1</tspan><tspan dy="7.5" dx="1.8"> per day)</tspan></text>
<path d="M1069.6,772.9 L1077.2,772.0 L1084.8,771.1 L1092.4,770.1 L1100.0,769.2 L1107.5,768.2 L1115.1,767.3 L1122.7,766.3 L1130.3,765.3 L1137.9,764.3 L1145.5,763.3 L1153.1,762.2 L1160.7,761.1 L1168.3,760.0 L1175.9,758.8 L1183.5,757.6 L1191.0,756.4 L1198.6,755.1 L1206.2,753.8 L1213.8,752.4 L1221.4,751.0 L1229.0,749.5 L1236.6,747.9 L1244.2,746.3 L1251.8,744.7 L1259.3,743.0 L1266.9,741.2 L1274.5,739.4 L1282.1,737.6 L1289.7,735.8 L1297.3,733.9 L1304.9,732.0 L1312.5,730.1 L1320.1,728.1 L1327.7,726.2 L1335.2,724.2 L1342.8,722.2 L1350.4,720.2 L1358.0,718.2 L1365.6,716.2 L1373.2,714.1 L1373.2,745.0 L1365.6,745.9 L1358.0,746.9 L1350.4,747.8 L1342.8,748.7 L1335.2,749.7 L1327.7,750.6 L1320.1,751.6 L1312.5,752.6 L1304.9,753.6 L1297.3,754.7 L1289.7,755.7 L1282.1,756.8 L1274.5,757.9 L1266.9,759.1 L1259.3,760.3 L1251.8,761.5 L1244.2,762.8 L1236.6,764.1 L1229.0,765.5 L1221.4,767.0 L1213.8,768.5 L1206.2,770.0 L1198.6,771.6 L1191.0,773.3 L1183.5,775.0 L1175.9,776.7 L1168.3,778.5 L1160.7,780.3 L1153.1,782.1 L1145.5,784.0 L1137.9,785.9 L1130.3,787.8 L1122.7,789.8 L1115.1,791.8 L1107.5,793.7 L1100.0,795.7 L1092.4,797.7 L1084.8,799.7 L1077.2,801.8 L1069.6,803.8Z" fill="rgba(70,70,130,0.10)"/>
<path d="M1069.6,788.3 L1373.2,729.6" fill="none" stroke="#00007f" stroke-width="2.6" stroke-dasharray="9.3,5.4"/>
<path d="M1069.6,780.2 L1084.9,774.9 L1100.2,761.9 L1115.3,769.5 L1130.6,766.8 L1145.6,767.3 L1160.9,765.7 L1176.0,773.0 L1191.3,779.7 L1206.6,791.0 L1221.7,786.4 L1237.0,780.2 L1252.0,772.7 L1267.3,770.3 L1282.4,757.6 L1297.4,722.3 L1312.7,723.7 L1327.8,709.1 L1342.8,709.1 L1357.9,729.1 L1373.2,729.9" fill="none" stroke="#00007f" stroke-width="2.6" stroke-linejoin="round"/>
<circle cx="1069.6" cy="780.2" r="4.55" fill="#000"/>
<circle cx="1084.9" cy="774.9" r="4.55" fill="#000"/>
<circle cx="1100.2" cy="761.9" r="4.55" fill="#000"/>
<circle cx="1115.3" cy="769.5" r="4.55" fill="#000"/>
<circle cx="1130.6" cy="766.8" r="4.55" fill="#000"/>
<circle cx="1145.6" cy="767.3" r="4.55" fill="#000"/>
<circle cx="1160.9" cy="765.7" r="4.55" fill="#000"/>
<circle cx="1176.0" cy="773.0" r="4.55" fill="#000"/>
<circle cx="1191.3" cy="779.7" r="4.55" fill="#000"/>
<circle cx="1206.6" cy="791.0" r="4.55" fill="#000"/>
<circle cx="1221.7" cy="786.4" r="4.55" fill="#000"/>
<circle cx="1237.0" cy="780.2" r="4.55" fill="#000"/>
<circle cx="1252.0" cy="772.7" r="4.55" fill="#000"/>
<circle cx="1267.3" cy="770.3" r="4.55" fill="#000"/>
<circle cx="1282.4" cy="757.6" r="4.55" fill="#000"/>
<circle cx="1297.4" cy="722.3" r="4.55" fill="#000"/>
<circle cx="1312.7" cy="723.7" r="4.55" fill="#000"/>
<circle cx="1327.8" cy="709.1" r="4.55" fill="#000"/>
<circle cx="1342.8" cy="709.1" r="4.55" fill="#000"/>
<circle cx="1357.9" cy="729.1" r="4.55" fill="#000"/>
<circle cx="1373.2" cy="729.9" r="4.55" fill="#000"/>
<rect x="1069.60" y="606.45" width="303.60" height="246.55" fill="none" stroke="#000" stroke-width="2.8"/>
<path d="M1061.0,606.5H1069.6" stroke="#000" stroke-width="2.8"/>
<text x="1052.3" y="617.1" text-anchor="end" class="tk">2.4</text>
<path d="M1061.0,655.8H1069.6" stroke="#000" stroke-width="2.8"/>
<text x="1052.3" y="666.4" text-anchor="end" class="tk">2.2</text>
<path d="M1061.0,705.1H1069.6" stroke="#000" stroke-width="2.8"/>
<text x="1052.3" y="715.7" text-anchor="end" class="tk">2.0</text>
<path d="M1061.0,754.4H1069.6" stroke="#000" stroke-width="2.8"/>
<text x="1052.3" y="765.0" text-anchor="end" class="tk">1.8</text>
<path d="M1061.0,803.7H1069.6" stroke="#000" stroke-width="2.8"/>
<text x="1052.3" y="814.3" text-anchor="end" class="tk">1.6</text>
<path d="M1061.0,853.0H1069.6" stroke="#000" stroke-width="2.8"/>
<text x="1052.3" y="863.6" text-anchor="end" class="tk">1.4</text>
<path d="M1069.6,853.0V861.6" stroke="#000" stroke-width="2.8"/>
<text x="1067.5" y="891.7" text-anchor="middle" class="tk">-60</text>
<path d="M1100.0,853.0V857.3" stroke="#000" stroke-width="1.7"/>
<path d="M1130.3,853.0V861.6" stroke="#000" stroke-width="2.8"/>
<text x="1129.2" y="891.7" text-anchor="middle" class="tk">-48</text>
<path d="M1160.7,853.0V857.3" stroke="#000" stroke-width="1.7"/>
<path d="M1191.0,853.0V861.6" stroke="#000" stroke-width="2.8"/>
<text x="1189.9" y="891.7" text-anchor="middle" class="tk">-36</text>
<path d="M1221.4,853.0V857.3" stroke="#000" stroke-width="1.7"/>
<path d="M1251.8,853.0V861.6" stroke="#000" stroke-width="2.8"/>
<text x="1250.7" y="891.7" text-anchor="middle" class="tk">-24</text>
<path d="M1282.1,853.0V857.3" stroke="#000" stroke-width="1.7"/>
<path d="M1312.5,853.0V861.6" stroke="#000" stroke-width="2.8"/>
<text x="1314.2" y="891.7" text-anchor="middle" class="tk">-12</text>
<path d="M1342.8,853.0V857.3" stroke="#000" stroke-width="1.7"/>
<path d="M1373.2,853.0V861.6" stroke="#000" stroke-width="2.8"/>
<text x="1375.2" y="891.7" text-anchor="middle" class="tk">0</text>
<text x="1219.1" y="597.6" text-anchor="middle" class="tk">EP</text>
<text x="1373.9" y="572.5" text-anchor="end" class="tk" style="font-size:23.7px">P &lt; 0.001</text>
<text x="1372.9" y="597.6" text-anchor="end" class="tk" style="font-size:23.8px">R² = 0.52</text>
<text x="1067.5" y="596.8" class="pl">f</text>
<text x="1076.2" y="837.4" class="tk" style="fill:#0000cd">0.10±0.02 (mm h<tspan font-size="14" dy="-7.5" dx="0.4">-1</tspan><tspan dy="7.5" dx="1.8"> per day)</tspan></text>
<path d="M1461.5,761.2 L1469.2,759.8 L1476.8,758.4 L1484.4,756.9 L1492.0,755.5 L1499.6,754.1 L1507.2,752.7 L1514.8,751.2 L1522.4,749.8 L1530.0,748.3 L1537.6,746.8 L1545.2,745.3 L1552.8,743.8 L1560.4,742.3 L1568.0,740.7 L1575.6,739.1 L1583.2,737.5 L1590.8,735.9 L1598.4,734.2 L1606.0,732.5 L1613.6,730.8 L1621.2,729.0 L1628.8,727.2 L1636.4,725.4 L1644.0,723.5 L1651.6,721.6 L1659.2,719.7 L1666.8,717.8 L1674.4,715.8 L1682.0,713.8 L1689.6,711.8 L1697.2,709.8 L1704.8,707.7 L1712.4,705.7 L1720.0,703.6 L1727.6,701.6 L1735.2,699.5 L1742.8,697.4 L1750.4,695.3 L1758.0,693.2 L1765.6,691.1 L1765.6,710.4 L1758.0,711.8 L1750.4,713.2 L1742.8,714.6 L1735.2,716.1 L1727.6,717.5 L1720.0,718.9 L1712.4,720.4 L1704.8,721.8 L1697.2,723.3 L1689.6,724.8 L1682.0,726.3 L1674.4,727.8 L1666.8,729.3 L1659.2,730.9 L1651.6,732.4 L1644.0,734.0 L1636.4,735.7 L1628.8,737.4 L1621.2,739.1 L1613.6,740.8 L1606.0,742.6 L1598.4,744.4 L1590.8,746.2 L1583.2,748.1 L1575.6,750.0 L1568.0,751.9 L1560.4,753.8 L1552.8,755.8 L1545.2,757.8 L1537.6,759.8 L1530.0,761.8 L1522.4,763.8 L1514.8,765.9 L1507.2,768.0 L1499.6,770.0 L1492.0,772.1 L1484.4,774.2 L1476.8,776.3 L1469.2,778.4 L1461.5,780.5Z" fill="rgba(70,70,130,0.10)"/>
<path d="M1461.5,770.8 L1765.6,700.8" fill="none" stroke="#00007f" stroke-width="2.6" stroke-dasharray="9.3,5.4"/>
<path d="M1461.5,745.8 L1476.6,755.5 L1492.0,758.2 L1507.0,755.5 L1522.4,756.0 L1537.7,757.6 L1552.8,761.4 L1567.8,755.5 L1583.2,760.6 L1598.2,751.7 L1613.6,749.8 L1628.6,745.2 L1644.0,729.3 L1659.0,731.2 L1674.4,728.8 L1689.5,718.8 L1704.8,714.2 L1719.9,704.8 L1735.2,691.3 L1750.3,688.6 L1765.6,698.1" fill="none" stroke="#00007f" stroke-width="2.6" stroke-linejoin="round"/>
<circle cx="1461.5" cy="745.8" r="4.55" fill="#000"/>
<circle cx="1476.6" cy="755.5" r="4.55" fill="#000"/>
<circle cx="1492.0" cy="758.2" r="4.55" fill="#000"/>
<circle cx="1507.0" cy="755.5" r="4.55" fill="#000"/>
<circle cx="1522.4" cy="756.0" r="4.55" fill="#000"/>
<circle cx="1537.7" cy="757.6" r="4.55" fill="#000"/>
<circle cx="1552.8" cy="761.4" r="4.55" fill="#000"/>
<circle cx="1567.8" cy="755.5" r="4.55" fill="#000"/>
<circle cx="1583.2" cy="760.6" r="4.55" fill="#000"/>
<circle cx="1598.2" cy="751.7" r="4.55" fill="#000"/>
<circle cx="1613.6" cy="749.8" r="4.55" fill="#000"/>
<circle cx="1628.6" cy="745.2" r="4.55" fill="#000"/>
<circle cx="1644.0" cy="729.3" r="4.55" fill="#000"/>
<circle cx="1659.0" cy="731.2" r="4.55" fill="#000"/>
<circle cx="1674.4" cy="728.8" r="4.55" fill="#000"/>
<circle cx="1689.5" cy="718.8" r="4.55" fill="#000"/>
<circle cx="1704.8" cy="714.2" r="4.55" fill="#000"/>
<circle cx="1719.9" cy="704.8" r="4.55" fill="#000"/>
<circle cx="1735.2" cy="691.3" r="4.55" fill="#000"/>
<circle cx="1750.3" cy="688.6" r="4.55" fill="#000"/>
<circle cx="1765.6" cy="698.1" r="4.55" fill="#000"/>
<rect x="1461.55" y="606.45" width="304.05" height="246.55" fill="none" stroke="#000" stroke-width="2.8"/>
<path d="M1453.0,606.5H1461.5" stroke="#000" stroke-width="2.8"/>
<text x="1441.1" y="617.1" text-anchor="end" class="tk">2.0</text>
<path d="M1453.0,655.8H1461.5" stroke="#000" stroke-width="2.8"/>
<text x="1441.1" y="666.4" text-anchor="end" class="tk">1.8</text>
<path d="M1453.0,705.1H1461.5" stroke="#000" stroke-width="2.8"/>
<text x="1441.1" y="715.7" text-anchor="end" class="tk">1.6</text>
<path d="M1453.0,754.4H1461.5" stroke="#000" stroke-width="2.8"/>
<text x="1441.1" y="765.0" text-anchor="end" class="tk">1.4</text>
<path d="M1453.0,803.7H1461.5" stroke="#000" stroke-width="2.8"/>
<text x="1441.1" y="814.3" text-anchor="end" class="tk">1.2</text>
<path d="M1453.0,853.0H1461.5" stroke="#000" stroke-width="2.8"/>
<text x="1441.1" y="863.6" text-anchor="end" class="tk">1.0</text>
<path d="M1461.5,853.0V861.6" stroke="#000" stroke-width="2.8"/>
<text x="1456.3" y="891.7" text-anchor="middle" class="tk">-60</text>
<path d="M1492.0,853.0V857.3" stroke="#000" stroke-width="1.7"/>
<path d="M1522.4,853.0V861.6" stroke="#000" stroke-width="2.8"/>
<text x="1518.2" y="891.7" text-anchor="middle" class="tk">-48</text>
<path d="M1552.8,853.0V857.3" stroke="#000" stroke-width="1.7"/>
<path d="M1583.2,853.0V861.6" stroke="#000" stroke-width="2.8"/>
<text x="1579.0" y="891.7" text-anchor="middle" class="tk">-36</text>
<path d="M1613.6,853.0V857.3" stroke="#000" stroke-width="1.7"/>
<path d="M1644.0,853.0V861.6" stroke="#000" stroke-width="2.8"/>
<text x="1639.8" y="891.7" text-anchor="middle" class="tk">-24</text>
<path d="M1674.4,853.0V857.3" stroke="#000" stroke-width="1.7"/>
<path d="M1704.8,853.0V861.6" stroke="#000" stroke-width="2.8"/>
<text x="1703.4" y="891.7" text-anchor="middle" class="tk">-12</text>
<path d="M1735.2,853.0V857.3" stroke="#000" stroke-width="1.7"/>
<path d="M1765.6,853.0V861.6" stroke="#000" stroke-width="2.8"/>
<text x="1764.5" y="891.7" text-anchor="middle" class="tk">0</text>
<text x="1609.9" y="597.6" text-anchor="middle" class="tk">NA</text>
<text x="1766.3" y="572.5" text-anchor="end" class="tk" style="font-size:23.7px">P &lt; 0.001</text>
<text x="1765.3" y="597.6" text-anchor="end" class="tk" style="font-size:23.8px">R² = 0.79</text>
<text x="1453.8" y="596.8" class="pl">g</text>
<text x="1468.1" y="837.4" class="tk" style="fill:#0000cd">0.11±0.01 (mm h<tspan font-size="14" dy="-7.5" dx="0.4">-1</tspan><tspan dy="7.5" dx="1.8"> per day)</tspan></text>
<path d="M285.4,1137.7 L293.0,1135.3 L300.6,1132.9 L308.2,1130.5 L315.8,1128.1 L323.4,1125.7 L331.0,1123.3 L338.6,1120.9 L346.2,1118.5 L353.8,1116.0 L361.4,1113.6 L369.0,1111.1 L376.6,1108.6 L384.2,1106.1 L391.8,1103.6 L399.4,1101.0 L407.0,1098.4 L414.5,1095.8 L422.1,1093.2 L429.7,1090.6 L437.3,1087.9 L444.9,1085.2 L452.5,1082.4 L460.1,1079.6 L467.7,1076.8 L475.3,1074.0 L482.9,1071.1 L490.5,1068.3 L498.1,1065.4 L505.7,1062.5 L513.3,1059.5 L520.9,1056.6 L528.5,1053.6 L536.0,1050.7 L543.6,1047.7 L551.2,1044.7 L558.8,1041.7 L566.4,1038.7 L574.0,1035.7 L581.6,1032.7 L589.2,1029.7 L589.2,1047.0 L581.6,1049.4 L574.0,1051.8 L566.4,1054.2 L558.8,1056.6 L551.2,1059.0 L543.6,1061.4 L536.0,1063.9 L528.5,1066.3 L520.9,1068.7 L513.3,1071.2 L505.7,1073.7 L498.1,1076.2 L490.5,1078.7 L482.9,1081.2 L475.3,1083.7 L467.7,1086.3 L460.1,1088.9 L452.5,1091.5 L444.9,1094.2 L437.3,1096.9 L429.7,1099.6 L422.1,1102.3 L414.5,1105.1 L407.0,1107.9 L399.4,1110.8 L391.8,1113.6 L384.2,1116.5 L376.6,1119.4 L369.0,1122.3 L361.4,1125.2 L353.8,1128.2 L346.2,1131.1 L338.6,1134.1 L331.0,1137.1 L323.4,1140.1 L315.8,1143.1 L308.2,1146.1 L300.6,1149.1 L293.0,1152.1 L285.4,1155.1Z" fill="rgba(70,70,130,0.10)"/>
<path d="M285.4,1146.4 L589.2,1038.3" fill="none" stroke="#00007f" stroke-width="2.6" stroke-dasharray="9.3,5.4"/>
<path d="M285.4,1123.7 L300.8,1134.5 L315.9,1129.1 L330.9,1144.5 L346.3,1133.2 L361.3,1129.9 L376.4,1116.7 L391.7,1115.6 L406.8,1107.0 L422.1,1099.1 L437.2,1082.9 L452.3,1086.4 L467.6,1082.1 L482.7,1084.3 L498.0,1070.8 L513.1,1076.7 L528.1,1065.6 L543.5,1051.0 L558.5,1024.8 L573.9,1038.3 L589.2,1041.6" fill="none" stroke="#00007f" stroke-width="2.6" stroke-linejoin="round"/>
<circle cx="285.4" cy="1123.7" r="4.55" fill="#000"/>
<circle cx="300.8" cy="1134.5" r="4.55" fill="#000"/>
<circle cx="315.9" cy="1129.1" r="4.55" fill="#000"/>
<circle cx="330.9" cy="1144.5" r="4.55" fill="#000"/>
<circle cx="346.3" cy="1133.2" r="4.55" fill="#000"/>
<circle cx="361.3" cy="1129.9" r="4.55" fill="#000"/>
<circle cx="376.4" cy="1116.7" r="4.55" fill="#000"/>
<circle cx="391.7" cy="1115.6" r="4.55" fill="#000"/>
<circle cx="406.8" cy="1107.0" r="4.55" fill="#000"/>
<circle cx="422.1" cy="1099.1" r="4.55" fill="#000"/>
<circle cx="437.2" cy="1082.9" r="4.55" fill="#000"/>
<circle cx="452.3" cy="1086.4" r="4.55" fill="#000"/>
<circle cx="467.6" cy="1082.1" r="4.55" fill="#000"/>
<circle cx="482.7" cy="1084.3" r="4.55" fill="#000"/>
<circle cx="498.0" cy="1070.8" r="4.55" fill="#000"/>
<circle cx="513.1" cy="1076.7" r="4.55" fill="#000"/>
<circle cx="528.1" cy="1065.6" r="4.55" fill="#000"/>
<circle cx="543.5" cy="1051.0" r="4.55" fill="#000"/>
<circle cx="558.5" cy="1024.8" r="4.55" fill="#000"/>
<circle cx="573.9" cy="1038.3" r="4.55" fill="#000"/>
<circle cx="589.2" cy="1041.6" r="4.55" fill="#000"/>
<rect x="285.45" y="965.40" width="303.75" height="247.20" fill="none" stroke="#000" stroke-width="2.8"/>
<path d="M276.8,965.4H285.4" stroke="#000" stroke-width="2.8"/>
<text x="264.8" y="974.1" text-anchor="end" class="tk">2.3</text>
<path d="M276.8,1014.8H285.4" stroke="#000" stroke-width="2.8"/>
<text x="264.8" y="1023.5" text-anchor="end" class="tk">2.1</text>
<path d="M276.8,1064.3H285.4" stroke="#000" stroke-width="2.8"/>
<text x="264.8" y="1073.0" text-anchor="end" class="tk">1.9</text>
<path d="M276.8,1113.7H285.4" stroke="#000" stroke-width="2.8"/>
<text x="264.8" y="1122.4" text-anchor="end" class="tk">1.7</text>
<path d="M276.8,1163.2H285.4" stroke="#000" stroke-width="2.8"/>
<text x="264.8" y="1171.9" text-anchor="end" class="tk">1.5</text>
<path d="M276.8,1212.6H285.4" stroke="#000" stroke-width="2.8"/>
<text x="264.8" y="1221.3" text-anchor="end" class="tk">1.3</text>
<path d="M285.4,1212.6V1221.2" stroke="#000" stroke-width="2.8"/>
<text x="280.6" y="1251.3" text-anchor="middle" class="tk">-60</text>
<path d="M315.8,1212.6V1216.9" stroke="#000" stroke-width="1.7"/>
<path d="M346.2,1212.6V1221.2" stroke="#000" stroke-width="2.8"/>
<text x="342.3" y="1251.3" text-anchor="middle" class="tk">-48</text>
<path d="M376.6,1212.6V1216.9" stroke="#000" stroke-width="1.7"/>
<path d="M407.0,1212.6V1221.2" stroke="#000" stroke-width="2.8"/>
<text x="403.1" y="1251.3" text-anchor="middle" class="tk">-36</text>
<path d="M437.3,1212.6V1216.9" stroke="#000" stroke-width="1.7"/>
<path d="M467.7,1212.6V1221.2" stroke="#000" stroke-width="2.8"/>
<text x="463.8" y="1251.3" text-anchor="middle" class="tk">-24</text>
<path d="M498.1,1212.6V1216.9" stroke="#000" stroke-width="1.7"/>
<path d="M528.5,1212.6V1221.2" stroke="#000" stroke-width="2.8"/>
<text x="527.4" y="1251.3" text-anchor="middle" class="tk">-12</text>
<path d="M558.8,1212.6V1216.9" stroke="#000" stroke-width="1.7"/>
<path d="M589.2,1212.6V1221.2" stroke="#000" stroke-width="2.8"/>
<text x="588.4" y="1251.3" text-anchor="middle" class="tk">0</text>
<text x="427.2" y="957.3" text-anchor="middle" class="tk">SI</text>
<text x="589.9" y="932.0" text-anchor="end" class="tk" style="font-size:23.7px">P &lt; 0.001</text>
<text x="588.9" y="957.3" text-anchor="end" class="tk" style="font-size:23.8px">R² = 0.92</text>
<text x="281.1" y="956.2" class="pl">h</text>
<text x="292.1" y="1197.0" class="tk" style="fill:#0000cd">0.18±0.01 (mm h<tspan font-size="14" dy="-7.5" dx="0.4">-1</tspan><tspan dy="7.5" dx="1.8"> per day)</tspan></text>
<path d="M1069.6,1099.7 L1077.2,1098.4 L1084.8,1097.1 L1092.4,1095.8 L1100.0,1094.5 L1107.6,1093.2 L1115.2,1091.9 L1122.7,1090.6 L1130.3,1089.2 L1137.9,1087.9 L1145.5,1086.5 L1153.1,1085.1 L1160.7,1083.7 L1168.3,1082.2 L1175.9,1080.8 L1183.5,1079.3 L1191.1,1077.7 L1198.7,1076.2 L1206.3,1074.6 L1213.9,1072.9 L1221.4,1071.2 L1229.0,1069.5 L1236.6,1067.7 L1244.2,1065.9 L1251.8,1064.0 L1259.4,1062.1 L1267.0,1060.2 L1274.6,1058.2 L1282.2,1056.2 L1289.8,1054.2 L1297.4,1052.2 L1305.0,1050.1 L1312.6,1048.1 L1320.2,1046.0 L1327.7,1043.9 L1335.3,1041.8 L1342.9,1039.6 L1350.5,1037.5 L1358.1,1035.3 L1365.7,1033.2 L1373.3,1031.0 L1373.3,1055.4 L1365.7,1056.6 L1358.1,1057.9 L1350.5,1059.2 L1342.9,1060.5 L1335.3,1061.8 L1327.7,1063.1 L1320.2,1064.5 L1312.6,1065.8 L1305.0,1067.2 L1297.4,1068.5 L1289.8,1069.9 L1282.2,1071.3 L1274.6,1072.8 L1267.0,1074.3 L1259.4,1075.8 L1251.8,1077.3 L1244.2,1078.9 L1236.6,1080.5 L1229.0,1082.1 L1221.4,1083.8 L1213.9,1085.6 L1206.3,1087.3 L1198.7,1089.2 L1191.1,1091.0 L1183.5,1092.9 L1175.9,1094.8 L1168.3,1096.8 L1160.7,1098.8 L1153.1,1100.8 L1145.5,1102.8 L1137.9,1104.9 L1130.3,1107.0 L1122.7,1109.1 L1115.2,1111.2 L1107.6,1113.3 L1100.0,1115.4 L1092.4,1117.5 L1084.8,1119.7 L1077.2,1121.8 L1069.6,1124.0Z" fill="rgba(70,70,130,0.10)"/>
<path d="M1069.6,1111.8 L1373.3,1043.2" fill="none" stroke="#00007f" stroke-width="2.6" stroke-dasharray="9.3,5.4"/>
<path d="M1069.6,1083.7 L1084.9,1089.4 L1100.2,1109.4 L1115.3,1111.3 L1130.6,1119.7 L1145.7,1095.9 L1161.0,1084.8 L1176.0,1094.3 L1191.3,1087.8 L1206.7,1076.2 L1221.7,1079.7 L1237.0,1080.5 L1252.1,1076.2 L1267.4,1071.3 L1282.5,1074.8 L1297.5,1065.4 L1312.8,1036.5 L1327.9,1039.4 L1342.9,1034.3 L1358.0,1035.6 L1373.3,1047.3" fill="none" stroke="#00007f" stroke-width="2.6" stroke-linejoin="round"/>
<circle cx="1069.6" cy="1083.7" r="4.55" fill="#000"/>
<circle cx="1084.9" cy="1089.4" r="4.55" fill="#000"/>
<circle cx="1100.2" cy="1109.4" r="4.55" fill="#000"/>
<circle cx="1115.3" cy="1111.3" r="4.55" fill="#000"/>
<circle cx="1130.6" cy="1119.7" r="4.55" fill="#000"/>
<circle cx="1145.7" cy="1095.9" r="4.55" fill="#000"/>
<circle cx="1161.0" cy="1084.8" r="4.55" fill="#000"/>
<circle cx="1176.0" cy="1094.3" r="4.55" fill="#000"/>
<circle cx="1191.3" cy="1087.8" r="4.55" fill="#000"/>
<circle cx="1206.7" cy="1076.2" r="4.55" fill="#000"/>
<circle cx="1221.7" cy="1079.7" r="4.55" fill="#000"/>
<circle cx="1237.0" cy="1080.5" r="4.55" fill="#000"/>
<circle cx="1252.1" cy="1076.2" r="4.55" fill="#000"/>
<circle cx="1267.4" cy="1071.3" r="4.55" fill="#000"/>
<circle cx="1282.5" cy="1074.8" r="4.55" fill="#000"/>
<circle cx="1297.5" cy="1065.4" r="4.55" fill="#000"/>
<circle cx="1312.8" cy="1036.5" r="4.55" fill="#000"/>
<circle cx="1327.9" cy="1039.4" r="4.55" fill="#000"/>
<circle cx="1342.9" cy="1034.3" r="4.55" fill="#000"/>
<circle cx="1358.0" cy="1035.6" r="4.55" fill="#000"/>
<circle cx="1373.3" cy="1047.3" r="4.55" fill="#000"/>
<rect x="1069.60" y="965.40" width="303.70" height="247.20" fill="none" stroke="#000" stroke-width="2.8"/>
<path d="M1061.0,965.4H1069.6" stroke="#000" stroke-width="2.8"/>
<text x="1050.6" y="976.0" text-anchor="end" class="tk">2.5</text>
<path d="M1061.0,1014.8H1069.6" stroke="#000" stroke-width="2.8"/>
<text x="1050.6" y="1025.4" text-anchor="end" class="tk">2.3</text>
<path d="M1061.0,1064.3H1069.6" stroke="#000" stroke-width="2.8"/>
<text x="1050.6" y="1074.9" text-anchor="end" class="tk">2.1</text>
<path d="M1061.0,1113.7H1069.6" stroke="#000" stroke-width="2.8"/>
<text x="1050.6" y="1124.3" text-anchor="end" class="tk">1.9</text>
<path d="M1061.0,1163.2H1069.6" stroke="#000" stroke-width="2.8"/>
<text x="1050.6" y="1173.8" text-anchor="end" class="tk">1.7</text>
<path d="M1061.0,1212.6H1069.6" stroke="#000" stroke-width="2.8"/>
<text x="1050.6" y="1223.2" text-anchor="end" class="tk">1.5</text>
<path d="M1069.6,1212.6V1221.2" stroke="#000" stroke-width="2.8"/>
<text x="1065.2" y="1251.3" text-anchor="middle" class="tk">-60</text>
<path d="M1100.0,1212.6V1216.9" stroke="#000" stroke-width="1.7"/>
<path d="M1130.3,1212.6V1221.2" stroke="#000" stroke-width="2.8"/>
<text x="1126.9" y="1251.3" text-anchor="middle" class="tk">-48</text>
<path d="M1160.7,1212.6V1216.9" stroke="#000" stroke-width="1.7"/>
<path d="M1191.1,1212.6V1221.2" stroke="#000" stroke-width="2.8"/>
<text x="1187.7" y="1251.3" text-anchor="middle" class="tk">-36</text>
<path d="M1221.4,1212.6V1216.9" stroke="#000" stroke-width="1.7"/>
<path d="M1251.8,1212.6V1221.2" stroke="#000" stroke-width="2.8"/>
<text x="1248.4" y="1251.3" text-anchor="middle" class="tk">-24</text>
<path d="M1282.2,1212.6V1216.9" stroke="#000" stroke-width="1.7"/>
<path d="M1312.6,1212.6V1221.2" stroke="#000" stroke-width="2.8"/>
<text x="1312.0" y="1251.3" text-anchor="middle" class="tk">-12</text>
<path d="M1342.9,1212.6V1216.9" stroke="#000" stroke-width="1.7"/>
<path d="M1373.3,1212.6V1221.2" stroke="#000" stroke-width="2.8"/>
<text x="1373.0" y="1251.3" text-anchor="middle" class="tk">0</text>
<text x="1217.2" y="959.1" text-anchor="middle" class="tk">SP</text>
<text x="1374.0" y="933.6" text-anchor="end" class="tk" style="font-size:23.7px">P &lt; 0.001</text>
<text x="1373.0" y="959.1" text-anchor="end" class="tk" style="font-size:23.8px">R² = 0.77</text>
<text x="1066.1" y="958.5" class="pl">i</text>
<text x="1076.2" y="1197.0" class="tk" style="fill:#0000cd">0.11±0.01 (mm h<tspan font-size="14" dy="-7.5" dx="0.4">-1</tspan><tspan dy="7.5" dx="1.8"> per day)</tspan></text>
</svg></body></html>
